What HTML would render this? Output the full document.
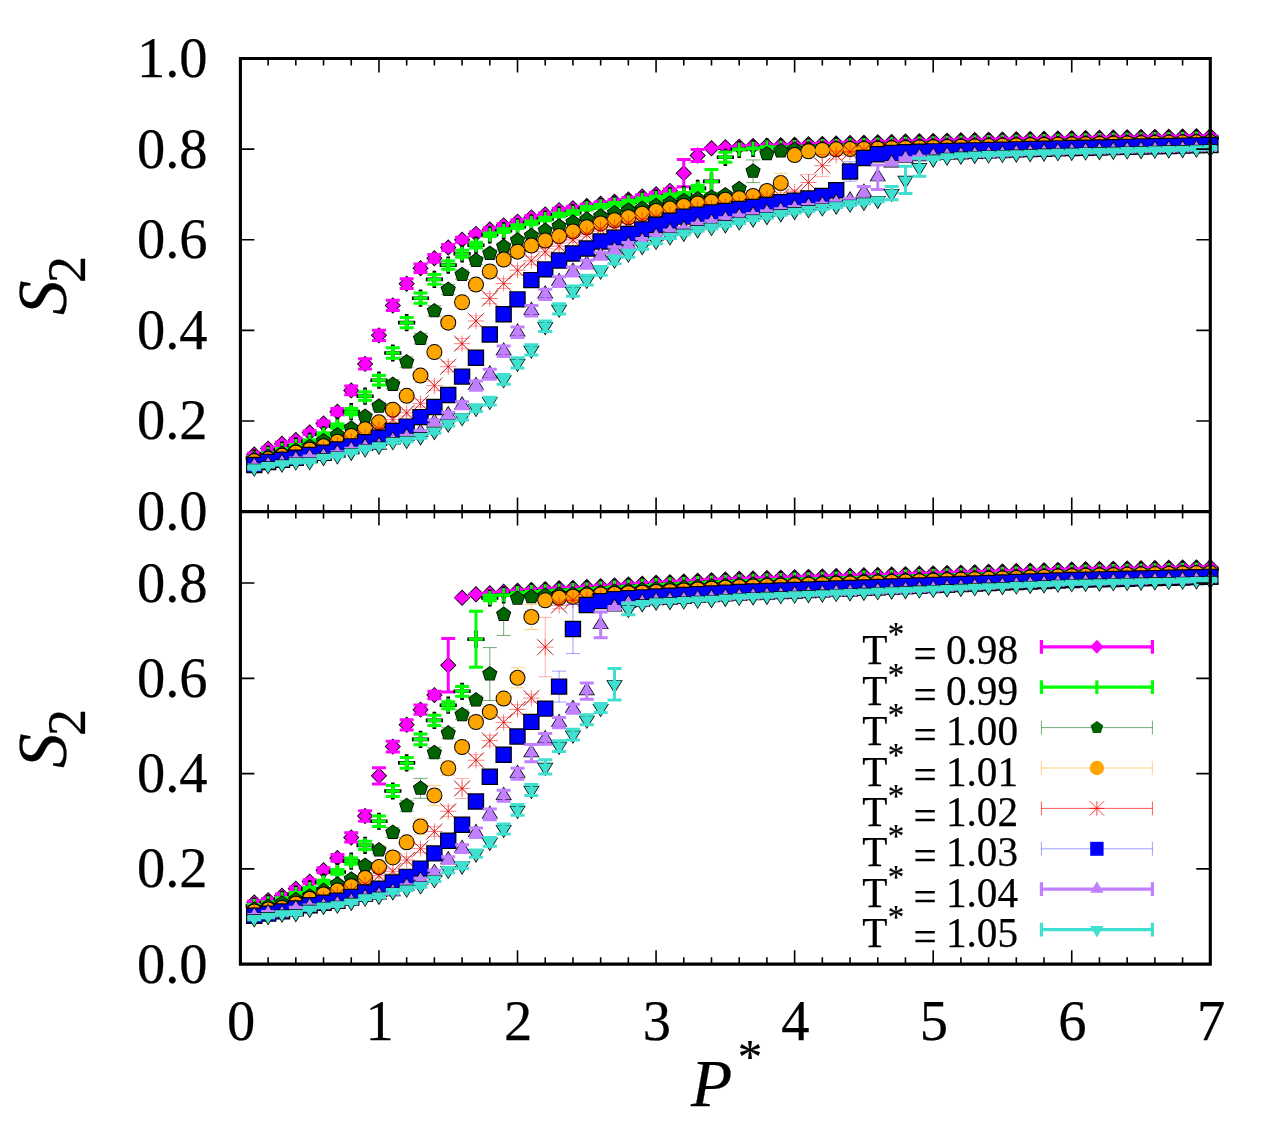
<!DOCTYPE html>
<html><head><meta charset="utf-8"><title>S2 vs P*</title>
<style>
html,body{margin:0;padding:0;background:#fff}
svg{display:block}
text{font-family:"Liberation Serif","Times New Roman",Times,serif;fill:#000;stroke:#000;stroke-width:0.25px}
</style></head><body>
<svg width="1264" height="1126" viewBox="0 0 1264 1126">
<rect width="1264" height="1126" fill="#fff"/>
<g id="top">
<path d="M254.26 446.31L262.46 454.51L254.26 462.71L246.06 454.51ZM268.11 440.42L276.31 448.62L268.11 456.82L259.91 448.62ZM281.97 435.44L290.17 443.63L281.97 451.83L273.77 443.63ZM295.82 431.81L304.02 440.01L295.82 448.21L287.62 440.01ZM309.68 424.33L317.88 432.53L309.68 440.73L301.48 432.53ZM323.53 415.23L331.73 423.43L323.53 431.63L315.33 423.43ZM337.39 403.45L345.59 411.65L337.39 419.85L329.19 411.65ZM351.25 382.2L359.45 390.4L351.25 398.6L343.05 390.4ZM365.1 355.69L373.3 363.89L365.1 372.09L356.9 363.89ZM378.96 327.14L387.16 335.34L378.96 343.54L370.76 335.34ZM392.81 297.24L401.01 305.44L392.81 313.64L384.61 305.44ZM406.67 275.49L414.87 283.69L406.67 291.89L398.47 283.69ZM420.52 260.09L428.72 268.29L420.52 276.49L412.32 268.29ZM434.38 250.12L442.58 258.32L434.38 266.52L426.18 258.32ZM448.24 239.24L456.44 247.44L448.24 255.64L440.04 247.44ZM462.09 231.54L470.29 239.74L462.09 247.94L453.89 239.74ZM475.95 225.65L484.15 233.85L475.95 242.05L467.75 233.85ZM489.8 221.3L498 229.5L489.8 237.7L481.6 229.5ZM503.66 217.13L511.86 225.33L503.66 233.53L495.46 225.33ZM517.51 213.42L525.71 221.62L517.51 229.82L509.31 221.62ZM531.37 209.16L539.57 217.36L531.37 225.56L523.17 217.36ZM545.23 206.35L553.43 214.55L545.23 222.75L537.03 214.55ZM559.08 201.91L567.28 210.11L559.08 218.31L550.88 210.11ZM572.94 200L581.14 208.2L572.94 216.4L564.74 208.2ZM586.79 197.78L594.99 205.98L586.79 214.18L578.59 205.98ZM600.65 195.52L608.85 203.72L600.65 211.92L592.45 203.72ZM614.5 193.48L622.7 201.68L614.5 209.88L606.3 201.68ZM628.36 191.21L636.56 199.41L628.36 207.61L620.16 199.41ZM642.22 188.36L650.42 196.56L642.22 204.76L634.02 196.56ZM656.07 186.09L664.27 194.29L656.07 202.49L647.87 194.29ZM669.93 182.65L678.13 190.85L669.93 199.05L661.73 190.85ZM683.78 164.93L691.98 173.13L683.78 181.33L675.58 173.13ZM697.64 147.26L705.84 155.46L697.64 163.66L689.44 155.46ZM711.49 140.01L719.69 148.21L711.49 156.41L703.29 148.21ZM725.35 139.02L733.55 147.22L725.35 155.42L717.15 147.22ZM739.21 138.38L747.41 146.58L739.21 154.78L731.01 146.58ZM753.06 137.75L761.26 145.95L753.06 154.15L744.86 145.95ZM766.92 137.39L775.12 145.59L766.92 153.79L758.72 145.59ZM780.77 136.95L788.97 145.15L780.77 153.35L772.57 145.15ZM794.63 136.52L802.83 144.72L794.63 152.92L786.43 144.72ZM808.48 136.08L816.68 144.28L808.48 152.48L800.28 144.28ZM822.34 135.65L830.54 143.85L822.34 152.05L814.14 143.85ZM836.2 135.21L844.4 143.41L836.2 151.61L828 143.41ZM850.05 134.83L858.25 143.03L850.05 151.23L841.85 143.03ZM863.91 134.46L872.11 142.66L863.91 150.86L855.71 142.66ZM877.76 134.08L885.96 142.28L877.76 150.48L869.56 142.28ZM891.62 133.7L899.82 141.9L891.62 150.1L883.42 141.9ZM905.47 133.32L913.67 141.52L905.47 149.72L897.27 141.52ZM919.33 132.95L927.53 141.15L919.33 149.35L911.13 141.15ZM933.19 132.67L941.39 140.87L933.19 149.07L924.99 140.87ZM947.04 132.39L955.24 140.59L947.04 148.79L938.84 140.59ZM960.9 132.12L969.1 140.32L960.9 148.52L952.7 140.32ZM974.75 131.84L982.95 140.04L974.75 148.24L966.55 140.04ZM988.61 131.56L996.81 139.76L988.61 147.96L980.41 139.76ZM1002.46 131.29L1010.66 139.49L1002.46 147.69L994.26 139.49ZM1016.32 131.01L1024.52 139.21L1016.32 147.41L1008.12 139.21ZM1030.18 130.73L1038.38 138.93L1030.18 147.13L1021.98 138.93ZM1044.03 130.46L1052.23 138.66L1044.03 146.86L1035.83 138.66ZM1057.89 130.18L1066.09 138.38L1057.89 146.58L1049.69 138.38ZM1071.74 129.96L1079.94 138.16L1071.74 146.36L1063.54 138.16ZM1085.6 129.74L1093.8 137.94L1085.6 146.14L1077.4 137.94ZM1099.45 129.53L1107.65 137.73L1099.45 145.93L1091.25 137.73ZM1113.31 129.31L1121.51 137.51L1113.31 145.71L1105.11 137.51ZM1127.17 129.09L1135.37 137.29L1127.17 145.49L1118.97 137.29ZM1141.02 128.87L1149.22 137.07L1141.02 145.27L1132.82 137.07ZM1154.88 128.65L1163.08 136.85L1154.88 145.05L1146.68 136.85ZM1168.73 128.44L1176.93 136.64L1168.73 144.84L1160.53 136.64ZM1182.59 128.22L1190.79 136.42L1182.59 144.62L1174.39 136.42ZM1196.44 128L1204.64 136.2L1196.44 144.4L1188.24 136.2ZM1210.3 127.78L1218.5 135.98L1210.3 144.18L1202.1 135.98Z" fill="#000"/>
<path d="M254.26 453.1V455.92M247.26 453.1H261.26M247.26 455.92H261.26M268.11 447.15V450.09M261.11 447.15H275.11M261.11 450.09H275.11M281.97 442.08V445.19M274.97 442.08H288.97M274.97 445.19H288.97M295.82 438.37V441.65M288.82 438.37H302.82M288.82 441.65H302.82M309.68 430.65V434.42M302.68 430.65H316.68M302.68 434.42H316.68M323.53 421.08V425.77M316.53 421.08H330.53M316.53 425.77H330.53M337.39 408.55V414.74M330.39 408.55H344.39M330.39 414.74H344.39M351.25 386V394.8M344.25 386H358.25M344.25 394.8H358.25M365.1 358.77V369.01M358.1 358.77H372.1M358.1 369.01H372.1M378.96 330.13V340.55M371.96 330.13H385.96M371.96 340.55H385.96M392.81 300.26V310.62M385.81 300.26H399.81M385.81 310.62H399.81M406.67 278.8V288.58M399.67 278.8H413.67M399.67 288.58H413.67M420.52 263.99V272.58M413.52 263.99H427.52M413.52 272.58H427.52M434.38 254.6V262.03M427.38 254.6H441.38M427.38 262.03H441.38M448.24 244.45V250.43M441.24 244.45H455.24M441.24 250.43H455.24M462.09 237.25V242.23M455.09 237.25H469.09M455.09 242.23H469.09M475.95 232.04V235.66M468.95 232.04H482.95M468.95 235.66H482.95M489.8 227.69V231.31M482.8 227.69H496.8M482.8 231.31H496.8M503.66 223.52V227.14M496.66 223.52H510.66M496.66 227.14H510.66M517.51 219.8V223.43M510.51 219.8H524.51M510.51 223.43H524.51M531.37 215.54V219.17M524.37 215.54H538.37M524.37 219.17H538.37M545.23 212.74V216.36M538.23 212.74H552.23M538.23 216.36H552.23M559.08 208.29V211.92M552.08 208.29H566.08M552.08 211.92H566.08M572.94 206.39V210.02M565.94 206.39H579.94M565.94 210.02H579.94M586.79 204.17V207.8M579.79 204.17H593.79M579.79 207.8H593.79M600.65 201.91V205.53M593.65 201.91H607.65M593.65 205.53H607.65M614.5 199.87V203.49M607.5 199.87H621.5M607.5 203.49H621.5M628.36 197.6V201.23M621.36 197.6H635.36M621.36 201.23H635.36M642.22 194.75V198.37M635.22 194.75H649.22M635.22 198.37H649.22M656.07 192.48V196.11M649.07 192.48H663.07M649.07 196.11H663.07M669.93 189.04V192.66M662.93 189.04H676.93M662.93 192.66H676.93M683.78 159.54V186.73M676.78 159.54H690.78M676.78 186.73H690.78M697.64 149.39V161.53M690.64 149.39H704.64M690.64 161.53H704.64M711.49 147.85V148.58M704.49 147.85H718.49M704.49 148.58H718.49M725.35 146.85V147.58M718.35 146.85H732.35M718.35 147.58H732.35M739.21 146.22V146.95M732.21 146.22H746.21M732.21 146.95H746.21M753.06 145.59V146.31M746.06 145.59H760.06M746.06 146.31H760.06M766.92 145.22V145.95M759.92 145.22H773.92M759.92 145.95H773.92M780.77 144.79V145.51M773.77 144.79H787.77M773.77 145.51H787.77M794.63 144.35V145.08M787.63 144.35H801.63M787.63 145.08H801.63M808.48 143.92V144.64M801.48 143.92H815.48M801.48 144.64H815.48M822.34 143.48V144.21M815.34 143.48H829.34M815.34 144.21H829.34M836.2 143.05V143.77M829.2 143.05H843.2M829.2 143.77H843.2M850.05 142.67V143.4M843.05 142.67H857.05M843.05 143.4H857.05M863.91 142.29V143.02M856.91 142.29H870.91M856.91 143.02H870.91M877.76 141.92V142.64M870.76 141.92H884.76M870.76 142.64H884.76M891.62 141.54V142.26M884.62 141.54H898.62M884.62 142.26H898.62M905.47 141.16V141.89M898.47 141.16H912.47M898.47 141.89H912.47M919.33 140.78V141.51M912.33 140.78H926.33M912.33 141.51H926.33M933.19 140.51V141.23M926.19 140.51H940.19M926.19 141.23H940.19M947.04 140.23V140.96M940.04 140.23H954.04M940.04 140.96H954.04M960.9 139.95V140.68M953.9 139.95H967.9M953.9 140.68H967.9M974.75 139.68V140.4M967.75 139.68H981.75M967.75 140.4H981.75M988.61 139.4V140.13M981.61 139.4H995.61M981.61 140.13H995.61M1002.46 139.12V139.85M995.46 139.12H1009.46M995.46 139.85H1009.46M1016.32 138.85V139.57M1009.32 138.85H1023.32M1009.32 139.57H1023.32M1030.18 138.57V139.3M1023.18 138.57H1037.18M1023.18 139.3H1037.18M1044.03 138.3V139.02M1037.03 138.3H1051.03M1037.03 139.02H1051.03M1057.89 138.02V138.74M1050.89 138.02H1064.89M1050.89 138.74H1064.89M1071.74 137.8V138.53M1064.74 137.8H1078.74M1064.74 138.53H1078.74M1085.6 137.58V138.31M1078.6 137.58H1092.6M1078.6 138.31H1092.6M1099.45 137.36V138.09M1092.45 137.36H1106.45M1092.45 138.09H1106.45M1113.31 137.15V137.87M1106.31 137.15H1120.31M1106.31 137.87H1120.31M1127.17 136.93V137.65M1120.17 136.93H1134.17M1120.17 137.65H1134.17M1141.02 136.71V137.43M1134.02 136.71H1148.02M1134.02 137.43H1148.02M1154.88 136.49V137.22M1147.88 136.49H1161.88M1147.88 137.22H1161.88M1168.73 136.27V137M1161.73 136.27H1175.73M1161.73 137H1175.73M1182.59 136.05V136.78M1175.59 136.05H1189.59M1175.59 136.78H1189.59M1196.44 135.84V136.56M1189.44 135.84H1203.44M1189.44 136.56H1203.44M1210.3 135.62V136.34M1203.3 135.62H1217.3M1203.3 136.34H1217.3" stroke="#ff00ff" stroke-width="3" fill="none"/>
<path d="M254.26 447.51L261.26 454.51L254.26 461.51L247.26 454.51ZM268.11 441.62L275.11 448.62L268.11 455.62L261.11 448.62ZM281.97 436.63L288.97 443.63L281.97 450.63L274.97 443.63ZM295.82 433.01L302.82 440.01L295.82 447.01L288.82 440.01ZM309.68 425.53L316.68 432.53L309.68 439.53L302.68 432.53ZM323.53 416.43L330.53 423.43L323.53 430.43L316.53 423.43ZM337.39 404.65L344.39 411.65L337.39 418.65L330.39 411.65ZM351.25 383.4L358.25 390.4L351.25 397.4L344.25 390.4ZM365.1 356.89L372.1 363.89L365.1 370.89L358.1 363.89ZM378.96 328.34L385.96 335.34L378.96 342.34L371.96 335.34ZM392.81 298.44L399.81 305.44L392.81 312.44L385.81 305.44ZM406.67 276.69L413.67 283.69L406.67 290.69L399.67 283.69ZM420.52 261.29L427.52 268.29L420.52 275.29L413.52 268.29ZM434.38 251.32L441.38 258.32L434.38 265.32L427.38 258.32ZM448.24 240.44L455.24 247.44L448.24 254.44L441.24 247.44ZM462.09 232.74L469.09 239.74L462.09 246.74L455.09 239.74ZM475.95 226.85L482.95 233.85L475.95 240.85L468.95 233.85ZM489.8 222.5L496.8 229.5L489.8 236.5L482.8 229.5ZM503.66 218.33L510.66 225.33L503.66 232.33L496.66 225.33ZM517.51 214.62L524.51 221.62L517.51 228.62L510.51 221.62ZM531.37 210.36L538.37 217.36L531.37 224.36L524.37 217.36ZM545.23 207.55L552.23 214.55L545.23 221.55L538.23 214.55ZM559.08 203.11L566.08 210.11L559.08 217.11L552.08 210.11ZM572.94 201.2L579.94 208.2L572.94 215.2L565.94 208.2ZM586.79 198.98L593.79 205.98L586.79 212.98L579.79 205.98ZM600.65 196.72L607.65 203.72L600.65 210.72L593.65 203.72ZM614.5 194.68L621.5 201.68L614.5 208.68L607.5 201.68ZM628.36 192.41L635.36 199.41L628.36 206.41L621.36 199.41ZM642.22 189.56L649.22 196.56L642.22 203.56L635.22 196.56ZM656.07 187.29L663.07 194.29L656.07 201.29L649.07 194.29ZM669.93 183.85L676.93 190.85L669.93 197.85L662.93 190.85ZM683.78 166.13L690.78 173.13L683.78 180.13L676.78 173.13ZM697.64 148.46L704.64 155.46L697.64 162.46L690.64 155.46ZM711.49 141.21L718.49 148.21L711.49 155.21L704.49 148.21ZM725.35 140.22L732.35 147.22L725.35 154.22L718.35 147.22ZM739.21 139.58L746.21 146.58L739.21 153.58L732.21 146.58ZM753.06 138.95L760.06 145.95L753.06 152.95L746.06 145.95ZM766.92 138.59L773.92 145.59L766.92 152.59L759.92 145.59ZM780.77 138.15L787.77 145.15L780.77 152.15L773.77 145.15ZM794.63 137.72L801.63 144.72L794.63 151.72L787.63 144.72ZM808.48 137.28L815.48 144.28L808.48 151.28L801.48 144.28ZM822.34 136.85L829.34 143.85L822.34 150.85L815.34 143.85ZM836.2 136.41L843.2 143.41L836.2 150.41L829.2 143.41ZM850.05 136.03L857.05 143.03L850.05 150.03L843.05 143.03ZM863.91 135.66L870.91 142.66L863.91 149.66L856.91 142.66ZM877.76 135.28L884.76 142.28L877.76 149.28L870.76 142.28ZM891.62 134.9L898.62 141.9L891.62 148.9L884.62 141.9ZM905.47 134.52L912.47 141.52L905.47 148.52L898.47 141.52ZM919.33 134.15L926.33 141.15L919.33 148.15L912.33 141.15ZM933.19 133.87L940.19 140.87L933.19 147.87L926.19 140.87ZM947.04 133.59L954.04 140.59L947.04 147.59L940.04 140.59ZM960.9 133.32L967.9 140.32L960.9 147.32L953.9 140.32ZM974.75 133.04L981.75 140.04L974.75 147.04L967.75 140.04ZM988.61 132.76L995.61 139.76L988.61 146.76L981.61 139.76ZM1002.46 132.49L1009.46 139.49L1002.46 146.49L995.46 139.49ZM1016.32 132.21L1023.32 139.21L1016.32 146.21L1009.32 139.21ZM1030.18 131.93L1037.18 138.93L1030.18 145.93L1023.18 138.93ZM1044.03 131.66L1051.03 138.66L1044.03 145.66L1037.03 138.66ZM1057.89 131.38L1064.89 138.38L1057.89 145.38L1050.89 138.38ZM1071.74 131.16L1078.74 138.16L1071.74 145.16L1064.74 138.16ZM1085.6 130.94L1092.6 137.94L1085.6 144.94L1078.6 137.94ZM1099.45 130.73L1106.45 137.73L1099.45 144.73L1092.45 137.73ZM1113.31 130.51L1120.31 137.51L1113.31 144.51L1106.31 137.51ZM1127.17 130.29L1134.17 137.29L1127.17 144.29L1120.17 137.29ZM1141.02 130.07L1148.02 137.07L1141.02 144.07L1134.02 137.07ZM1154.88 129.85L1161.88 136.85L1154.88 143.85L1147.88 136.85ZM1168.73 129.64L1175.73 136.64L1168.73 143.64L1161.73 136.64ZM1182.59 129.42L1189.59 136.42L1182.59 143.42L1175.59 136.42ZM1196.44 129.2L1203.44 136.2L1196.44 143.2L1189.44 136.2ZM1210.3 128.98L1217.3 135.98L1210.3 142.98L1203.3 135.98Z" fill="#ff00ff"/>
<path d="M254.26 449.53V466.73M245.66 458.13H262.86M268.11 445.46V462.66M259.51 454.06H276.71M281.97 441.38V458.58M273.37 449.98H290.57M295.82 437.3V454.5M287.22 445.9H304.42M309.68 432.77V449.97M301.08 441.37H318.28M323.53 425.97V443.17M314.93 434.57H332.13M337.39 417.59V434.79M328.79 426.19H345.99M351.25 403.05V420.25M342.65 411.65H359.85M365.1 387.6V404.8M356.5 396.2H373.7M378.96 371.6V388.8M370.36 380.2H387.56M392.81 344.41V361.62M384.21 353.01H401.41M406.67 314.06V331.26M398.07 322.66H415.27M420.52 289.59V306.79M411.92 298.19H429.12M434.38 270.79V287.99M425.78 279.39H442.98M448.24 256.51V273.71M439.64 265.11H456.84M462.09 245.19V262.39M453.49 253.79H470.69M475.95 236.58V253.78M467.35 245.18H484.55M489.8 226.2V243.4M481.2 234.8H498.4M503.66 222.08V239.28M495.06 230.68H512.26M517.51 218V235.2M508.91 226.6H526.11M531.37 214.19V231.39M522.77 222.79H539.97M545.23 210.39V227.59M536.63 218.99H553.83M559.08 206.36V223.56M550.48 214.96H567.68M572.94 204.04V221.24M564.34 212.64H581.54M586.79 199.6V216.8M578.19 208.2H595.39M600.65 197.75V214.95M592.05 206.35H609.25M614.5 195.8V213M605.9 204.4H623.1M628.36 193.53V210.73M619.76 202.13H636.96M642.22 191.27V208.47M633.62 199.87H650.82M656.07 189.45V206.65M647.47 198.05H664.67M669.93 187.19V204.39M661.33 195.79H678.53M683.78 185.83V203.03M675.18 194.43H692.38M697.64 179.8V197M689.04 188.4H706.24M711.49 172.78V189.98M702.89 181.38H720.09M725.35 148.72V165.92M716.75 157.32H733.95M739.21 140.79V157.99M730.61 149.39H747.81M753.06 139.89V157.09M744.46 148.49H761.66M766.92 138.62V155.82M758.32 147.22H775.52M780.77 138.8V156M772.17 147.4H789.37M794.63 138.37V155.57M786.03 146.97H803.23M808.48 137.94V155.14M799.88 146.54H817.08M822.34 137.51V154.71M813.74 146.11H830.94M836.2 137.08V154.28M827.6 145.68H844.8M850.05 136.7V153.9M841.45 145.3H858.65M863.91 136.32V153.52M855.31 144.92H872.51M877.76 135.94V153.14M869.16 144.54H886.36M891.62 135.57V152.77M883.02 144.17H900.22M905.47 135.19V152.39M896.87 143.79H914.07M919.33 134.81V152.01M910.73 143.41H927.93M933.19 134.53V151.73M924.59 143.13H941.79M947.04 134.26V151.46M938.44 142.86H955.64M960.9 133.98V151.18M952.3 142.58H969.5M974.75 133.71V150.91M966.15 142.31H983.35M988.61 133.43V150.63M980.01 142.03H997.21M1002.46 133.15V150.35M993.86 141.75H1011.06M1016.32 132.88V150.08M1007.72 141.48H1024.92M1030.18 132.6V149.8M1021.58 141.2H1038.78M1044.03 132.32V149.52M1035.43 140.92H1052.63M1057.89 132.05V149.25M1049.29 140.65H1066.49M1071.74 131.83V149.03M1063.14 140.43H1080.34M1085.6 131.61V148.81M1077 140.21H1094.2M1099.45 131.39V148.59M1090.85 139.99H1108.05M1113.31 131.17V148.37M1104.71 139.77H1121.91M1127.17 130.96V148.16M1118.57 139.56H1135.77M1141.02 130.74V147.94M1132.42 139.34H1149.62M1154.88 130.52V147.72M1146.28 139.12H1163.48M1168.73 130.3V147.5M1160.13 138.9H1177.33M1182.59 130.08V147.28M1173.99 138.68H1191.19M1196.44 129.86V147.06M1187.84 138.46H1205.04M1210.3 129.65V146.85M1201.7 138.25H1218.9" stroke="#000" stroke-width="3.6" fill="none"/>
<path d="M254.26 456.74V459.52M247.26 456.74H261.26M247.26 459.52H261.26M268.11 452.64V455.47M261.11 452.64H275.11M261.11 455.47H275.11M281.97 448.53V451.43M274.97 448.53H288.97M274.97 451.43H288.97M295.82 444.39V447.41M288.82 444.39H302.82M288.82 447.41H302.82M309.68 439.77V442.97M302.68 439.77H316.68M302.68 442.97H316.68M323.53 432.76V436.38M316.53 432.76H330.53M316.53 436.38H330.53M337.39 424V428.38M330.39 424H344.39M330.39 428.38H344.39M351.25 408.55V414.74M344.25 408.55H358.25M344.25 414.74H358.25M365.1 392.1V400.29M358.1 392.1H372.1M358.1 400.29H372.1M378.96 375.4V385M371.96 375.4H385.96M371.96 385H385.96M392.81 347.82V358.21M385.81 347.82H399.81M385.81 358.21H399.81M406.67 317.45V327.87M399.67 317.45H413.67M399.67 327.87H413.67M420.52 293.05V303.33M413.52 293.05H427.52M413.52 303.33H427.52M434.38 274.62V284.15M427.38 274.62H441.38M427.38 284.15H441.38M448.24 260.99V269.24M441.24 260.99H455.24M441.24 269.24H455.24M462.09 250.37V257.2M455.09 250.37H469.09M455.09 257.2H469.09M475.95 242.34V248.01M468.95 242.34H482.95M468.95 248.01H482.95M489.8 232.99V236.61M482.8 232.99H496.8M482.8 236.61H496.8M503.66 228.87V232.49M496.66 228.87H510.66M496.66 232.49H510.66M517.51 224.79V228.41M510.51 224.79H524.51M510.51 228.41H524.51M531.37 220.98V224.61M524.37 220.98H538.37M524.37 224.61H538.37M545.23 217.18V220.8M538.23 217.18H552.23M538.23 220.8H552.23M559.08 213.14V216.77M552.08 213.14H566.08M552.08 216.77H566.08M572.94 210.83V214.46M565.94 210.83H579.94M565.94 214.46H579.94M586.79 206.39V210.02M579.79 206.39H593.79M579.79 210.02H593.79M600.65 204.53V208.16M593.65 204.53H607.65M593.65 208.16H607.65M614.5 202.59V206.21M607.5 202.59H621.5M607.5 206.21H621.5M628.36 200.32V203.95M621.36 200.32H635.36M621.36 203.95H635.36M642.22 198.05V201.68M635.22 198.05H649.22M635.22 201.68H649.22M656.07 196.24V199.87M649.07 196.24H663.07M649.07 199.87H663.07M669.93 193.98V197.6M662.93 193.98H676.93M662.93 197.6H676.93M683.78 192.62V196.24M676.78 192.62H690.78M676.78 196.24H690.78M697.64 185.23V191.58M690.64 185.23H704.64M690.64 191.58H704.64M711.49 169.6V193.16M704.49 169.6H718.49M704.49 193.16H718.49M725.35 152.34V162.31M718.35 152.34H732.35M718.35 162.31H732.35M739.21 149.03V149.75M732.21 149.03H746.21M732.21 149.75H746.21M753.06 148.12V148.85M746.06 148.12H760.06M746.06 148.85H760.06M766.92 146.85V147.58M759.92 146.85H773.92M759.92 147.58H773.92M780.77 147.04V147.76M773.77 147.04H787.77M773.77 147.76H787.77M794.63 146.61V147.33M787.63 146.61H801.63M787.63 147.33H801.63M808.48 146.17V146.9M801.48 146.17H815.48M801.48 146.9H815.48M822.34 145.74V146.47M815.34 145.74H829.34M815.34 146.47H829.34M836.2 145.31V146.04M829.2 145.31H843.2M829.2 146.04H843.2M850.05 144.94V145.66M843.05 144.94H857.05M843.05 145.66H857.05M863.91 144.56V145.28M856.91 144.56H870.91M856.91 145.28H870.91M877.76 144.18V144.91M870.76 144.18H884.76M870.76 144.91H884.76M891.62 143.8V144.53M884.62 143.8H898.62M884.62 144.53H898.62M905.47 143.43V144.15M898.47 143.43H912.47M898.47 144.15H912.47M919.33 143.05V143.77M912.33 143.05H926.33M912.33 143.77H926.33M933.19 142.77V143.5M926.19 142.77H940.19M926.19 143.5H940.19M947.04 142.5V143.22M940.04 142.5H954.04M940.04 143.22H954.04M960.9 142.22V142.94M953.9 142.22H967.9M953.9 142.94H967.9M974.75 141.94V142.67M967.75 141.94H981.75M967.75 142.67H981.75M988.61 141.67V142.39M981.61 141.67H995.61M981.61 142.39H995.61M1002.46 141.39V142.12M995.46 141.39H1009.46M995.46 142.12H1009.46M1016.32 141.11V141.84M1009.32 141.11H1023.32M1009.32 141.84H1023.32M1030.18 140.84V141.56M1023.18 140.84H1037.18M1023.18 141.56H1037.18M1044.03 140.56V141.29M1037.03 140.56H1051.03M1037.03 141.29H1051.03M1057.89 140.28V141.01M1050.89 140.28H1064.89M1050.89 141.01H1064.89M1071.74 140.07V140.79M1064.74 140.07H1078.74M1064.74 140.79H1078.74M1085.6 139.85V140.57M1078.6 139.85H1092.6M1078.6 140.57H1092.6M1099.45 139.63V140.35M1092.45 139.63H1106.45M1092.45 140.35H1106.45M1113.31 139.41V140.14M1106.31 139.41H1120.31M1106.31 140.14H1120.31M1127.17 139.19V139.92M1120.17 139.19H1134.17M1120.17 139.92H1134.17M1141.02 138.97V139.7M1134.02 138.97H1148.02M1134.02 139.7H1148.02M1154.88 138.76V139.48M1147.88 138.76H1161.88M1147.88 139.48H1161.88M1168.73 138.54V139.26M1161.73 138.54H1175.73M1161.73 139.26H1175.73M1182.59 138.32V139.04M1175.59 138.32H1189.59M1175.59 139.04H1189.59M1196.44 138.1V138.83M1189.44 138.1H1203.44M1189.44 138.83H1203.44M1210.3 137.88V138.61M1203.3 137.88H1217.3M1203.3 138.61H1217.3" stroke="#00ff00" stroke-width="3" fill="none"/>
<path d="M254.26 451.13V465.13M247.26 458.13H261.26M268.11 447.06V461.06M261.11 454.06H275.11M281.97 442.98V456.98M274.97 449.98H288.97M295.82 438.9V452.9M288.82 445.9H302.82M309.68 434.37V448.37M302.68 441.37H316.68M323.53 427.57V441.57M316.53 434.57H330.53M337.39 419.19V433.19M330.39 426.19H344.39M351.25 404.65V418.65M344.25 411.65H358.25M365.1 389.2V403.2M358.1 396.2H372.1M378.96 373.2V387.2M371.96 380.2H385.96M392.81 346.01V360.01M385.81 353.01H399.81M406.67 315.66V329.66M399.67 322.66H413.67M420.52 291.19V305.19M413.52 298.19H427.52M434.38 272.39V286.39M427.38 279.39H441.38M448.24 258.11V272.11M441.24 265.11H455.24M462.09 246.79V260.79M455.09 253.79H469.09M475.95 238.18V252.18M468.95 245.18H482.95M489.8 227.8V241.8M482.8 234.8H496.8M503.66 223.68V237.68M496.66 230.68H510.66M517.51 219.6V233.6M510.51 226.6H524.51M531.37 215.79V229.79M524.37 222.79H538.37M545.23 211.99V225.99M538.23 218.99H552.23M559.08 207.96V221.96M552.08 214.96H566.08M572.94 205.64V219.64M565.94 212.64H579.94M586.79 201.2V215.2M579.79 208.2H593.79M600.65 199.35V213.35M593.65 206.35H607.65M614.5 197.4V211.4M607.5 204.4H621.5M628.36 195.13V209.13M621.36 202.13H635.36M642.22 192.87V206.87M635.22 199.87H649.22M656.07 191.05V205.05M649.07 198.05H663.07M669.93 188.79V202.79M662.93 195.79H676.93M683.78 187.43V201.43M676.78 194.43H690.78M697.64 181.4V195.4M690.64 188.4H704.64M711.49 174.38V188.38M704.49 181.38H718.49M725.35 150.32V164.32M718.35 157.32H732.35M739.21 142.39V156.39M732.21 149.39H746.21M753.06 141.49V155.49M746.06 148.49H760.06M766.92 140.22V154.22M759.92 147.22H773.92M780.77 140.4V154.4M773.77 147.4H787.77M794.63 139.97V153.97M787.63 146.97H801.63M808.48 139.54V153.54M801.48 146.54H815.48M822.34 139.11V153.11M815.34 146.11H829.34M836.2 138.68V152.68M829.2 145.68H843.2M850.05 138.3V152.3M843.05 145.3H857.05M863.91 137.92V151.92M856.91 144.92H870.91M877.76 137.54V151.54M870.76 144.54H884.76M891.62 137.17V151.17M884.62 144.17H898.62M905.47 136.79V150.79M898.47 143.79H912.47M919.33 136.41V150.41M912.33 143.41H926.33M933.19 136.13V150.13M926.19 143.13H940.19M947.04 135.86V149.86M940.04 142.86H954.04M960.9 135.58V149.58M953.9 142.58H967.9M974.75 135.31V149.31M967.75 142.31H981.75M988.61 135.03V149.03M981.61 142.03H995.61M1002.46 134.75V148.75M995.46 141.75H1009.46M1016.32 134.48V148.48M1009.32 141.48H1023.32M1030.18 134.2V148.2M1023.18 141.2H1037.18M1044.03 133.92V147.92M1037.03 140.92H1051.03M1057.89 133.65V147.65M1050.89 140.65H1064.89M1071.74 133.43V147.43M1064.74 140.43H1078.74M1085.6 133.21V147.21M1078.6 140.21H1092.6M1099.45 132.99V146.99M1092.45 139.99H1106.45M1113.31 132.77V146.77M1106.31 139.77H1120.31M1127.17 132.56V146.56M1120.17 139.56H1134.17M1141.02 132.34V146.34M1134.02 139.34H1148.02M1154.88 132.12V146.12M1147.88 139.12H1161.88M1168.73 131.9V145.9M1161.73 138.9H1175.73M1182.59 131.68V145.68M1175.59 138.68H1189.59M1196.44 131.46V145.46M1189.44 138.46H1203.44M1210.3 131.25V145.25M1203.3 138.25H1217.3" stroke="#00ff00" stroke-width="3" fill="none"/>
<path d="M254.26 451.49L261.86 457.02L258.96 465.97L249.55 465.97L246.65 457.02ZM268.11 448.77L275.72 454.3L272.81 463.25L263.41 463.25L260.5 454.3ZM281.97 445.6L289.58 451.13L286.67 460.08L277.26 460.08L274.36 451.13ZM295.82 442.43L303.43 447.96L300.53 456.9L291.12 456.9L288.21 447.96ZM309.68 438.49L317.29 444.02L314.38 452.96L304.98 452.96L302.07 444.02ZM323.53 432.92L331.14 438.44L328.24 447.39L318.83 447.39L315.93 438.44ZM337.39 427.03L345 432.55L342.09 441.5L332.69 441.5L329.78 432.55ZM351.25 420.23L358.85 425.76L355.95 434.7L346.54 434.7L343.64 425.76ZM365.1 408.45L372.71 413.98L369.8 422.92L360.4 422.92L357.49 413.98ZM378.96 398.3L386.57 403.83L383.66 412.77L374.25 412.77L371.35 403.83ZM392.81 376.41L400.42 381.94L397.52 390.89L388.11 390.89L385.2 381.94ZM406.67 354.08L414.28 359.6L411.37 368.55L401.97 368.55L399.06 359.6ZM420.52 330.61L428.13 336.13L425.23 345.08L415.82 345.08L412.92 336.13ZM434.38 302.88L441.99 308.4L439.08 317.35L429.68 317.35L426.77 308.4ZM448.24 281.58L455.84 287.11L452.94 296.05L443.53 296.05L440.63 287.11ZM462.09 266.63L469.7 272.16L466.79 281.1L457.39 281.1L454.48 272.16ZM475.95 252.58L483.56 258.11L480.65 267.05L471.24 267.05L468.34 258.11ZM489.8 245.56L497.41 251.09L494.51 260.03L485.1 260.03L482.19 251.09ZM503.66 238.58L511.27 244.11L508.36 253.05L498.96 253.05L496.05 244.11ZM517.51 232.24L525.12 237.77L522.22 246.71L512.81 246.71L509.91 237.77ZM531.37 227.84L538.98 233.37L536.07 242.32L526.67 242.32L523.76 233.37ZM545.23 222.5L552.83 228.02L549.93 236.97L540.52 236.97L537.62 228.02ZM559.08 218.33L566.69 223.86L563.78 232.8L554.38 232.8L551.47 223.86ZM572.94 214.16L580.55 219.69L577.64 228.63L568.23 228.63L565.33 219.69ZM586.79 211.35L594.4 216.88L591.5 225.82L582.09 225.82L579.18 216.88ZM600.65 208.18L608.26 213.71L605.35 222.65L595.95 222.65L593.04 213.71ZM614.5 205.01L622.11 210.53L619.21 219.48L609.8 219.48L606.9 210.53ZM628.36 202.29L635.97 207.82L633.06 216.76L623.66 216.76L620.75 207.82ZM642.22 200.39L649.82 205.91L646.92 214.86L637.51 214.86L634.61 205.91ZM656.07 197.8L663.68 203.33L660.77 212.27L651.37 212.27L648.46 203.33ZM669.93 195.31L677.54 200.84L674.63 209.78L665.22 209.78L662.32 200.84ZM683.78 192.77L691.39 198.3L688.49 207.25L679.08 207.25L676.17 198.3ZM697.64 190.96L705.25 196.49L702.34 205.43L692.94 205.43L690.03 196.49ZM711.49 189.33L719.1 194.86L716.2 203.8L706.79 203.8L703.89 194.86ZM725.35 187.06L732.96 192.59L730.05 201.54L720.65 201.54L717.74 192.59ZM739.21 180.72L746.81 186.25L743.91 195.19L734.5 195.19L731.6 186.25ZM753.06 163.28L760.67 168.8L757.76 177.75L748.36 177.75L745.45 168.8ZM766.92 145.88L774.53 151.41L771.62 160.35L762.21 160.35L759.31 151.41ZM780.77 143.02L788.38 148.55L785.48 157.5L776.07 157.5L773.16 148.55ZM794.63 141.57L802.24 147.1L799.33 156.05L789.93 156.05L787.02 147.1ZM808.48 141.12L816.09 146.65L813.19 155.59L803.78 155.59L800.88 146.65ZM822.34 140.8L829.95 146.33L827.04 155.27L817.64 155.27L814.73 146.33ZM836.2 140.49L843.8 146.01L840.9 154.96L831.49 154.96L828.59 146.01ZM850.05 140.11L857.66 145.64L854.75 154.58L845.35 154.58L842.44 145.64ZM863.91 139.73L871.52 145.26L868.61 154.2L859.2 154.2L856.3 145.26ZM877.76 139.35L885.37 144.88L882.47 153.83L873.06 153.83L870.15 144.88ZM891.62 138.98L899.23 144.5L896.32 153.45L886.92 153.45L884.01 144.5ZM905.47 138.6L913.08 144.13L910.18 153.07L900.77 153.07L897.87 144.13ZM919.33 138.22L926.94 143.75L924.03 152.69L914.63 152.69L911.72 143.75ZM933.19 137.94L940.79 143.47L937.89 152.42L928.48 152.42L925.58 143.47ZM947.04 137.67L954.65 143.2L951.74 152.14L942.34 152.14L939.43 143.2ZM960.9 137.39L968.51 142.92L965.6 151.86L956.19 151.86L953.29 142.92ZM974.75 137.11L982.36 142.64L979.46 151.59L970.05 151.59L967.14 142.64ZM988.61 136.84L996.22 142.37L993.31 151.31L983.91 151.31L981 142.37ZM1002.46 136.56L1010.07 142.09L1007.17 151.03L997.76 151.03L994.86 142.09ZM1016.32 136.29L1023.93 141.81L1021.02 150.76L1011.62 150.76L1008.71 141.81ZM1030.18 136.01L1037.78 141.54L1034.88 150.48L1025.47 150.48L1022.57 141.54ZM1044.03 135.73L1051.64 141.26L1048.73 150.2L1039.33 150.2L1036.42 141.26ZM1057.89 135.46L1065.5 140.98L1062.59 149.93L1053.18 149.93L1050.28 140.98ZM1071.74 135.23L1079.35 140.76L1076.45 149.7L1067.04 149.7L1064.13 140.76ZM1085.6 135L1093.21 140.53L1090.3 149.48L1080.9 149.48L1077.99 140.53ZM1099.45 134.78L1107.06 140.3L1104.16 149.25L1094.75 149.25L1091.85 140.3ZM1113.31 134.55L1120.92 140.08L1118.01 149.02L1108.61 149.02L1105.7 140.08ZM1127.17 134.32L1134.77 139.85L1131.87 148.8L1122.46 148.8L1119.56 139.85ZM1141.02 134.1L1148.63 139.62L1145.72 148.57L1136.32 148.57L1133.41 139.62ZM1154.88 133.87L1162.49 139.4L1159.58 148.34L1150.17 148.34L1147.27 139.4ZM1168.73 133.64L1176.34 139.17L1173.44 148.12L1164.03 148.12L1161.12 139.17ZM1182.59 133.42L1190.2 138.95L1187.29 147.89L1177.89 147.89L1174.98 138.95ZM1196.44 133.19L1204.05 138.72L1201.15 147.66L1191.74 147.66L1188.84 138.72ZM1210.3 132.96L1217.91 138.49L1215 147.44L1205.6 147.44L1202.69 138.49Z" fill="#000"/>
<path d="M254.26 458.11V460.88M247.26 458.11H261.26M247.26 460.88H261.26M268.11 455.38V458.17M261.11 455.38H275.11M261.11 458.17H275.11M281.97 452.19V455.02M274.97 452.19H288.97M274.97 455.02H288.97M295.82 448.98V451.88M288.82 448.98H302.82M288.82 451.88H302.82M309.68 444.99V447.99M302.68 444.99H316.68M302.68 447.99H316.68M323.53 439.3V442.53M316.53 439.3H330.53M316.53 442.53H330.53M337.39 433.23V436.82M330.39 433.23H344.39M330.39 436.82H344.39M351.25 426.15V430.31M344.25 426.15H358.25M344.25 430.31H358.25M365.1 413.67V419.23M358.1 413.67H372.1M358.1 419.23H372.1M378.96 402.84V409.76M371.96 402.84H385.96M371.96 409.76H385.96M392.81 379.76V389.07M385.81 379.76H399.81M385.81 389.07H399.81M406.67 356.94V367.22M399.67 356.94H413.67M399.67 367.22H413.67M420.52 333.4V343.82M413.52 333.4H427.52M413.52 343.82H427.52M434.38 305.68V316.08M427.38 305.68H441.38M427.38 316.08H441.38M448.24 284.56V294.6M441.24 284.56H455.24M441.24 294.6H455.24M462.09 270.04V279.22M455.09 270.04H469.09M455.09 279.22H469.09M475.95 256.72V264.44M468.95 256.72H482.95M468.95 264.44H482.95M489.8 250.16V256.96M482.8 250.16H496.8M482.8 256.96H496.8M503.66 243.65V249.51M496.66 243.65H510.66M496.66 249.51H510.66M517.51 237.72V242.76M510.51 237.72H524.51M510.51 242.76H524.51M531.37 234.03V237.66M524.37 234.03H538.37M524.37 237.66H538.37M545.23 228.68V232.31M538.23 228.68H552.23M538.23 232.31H552.23M559.08 224.52V228.14M552.08 224.52H566.08M552.08 228.14H566.08M572.94 220.35V223.97M565.94 220.35H579.94M565.94 223.97H579.94M586.79 217.54V221.16M579.79 217.54H593.79M579.79 221.16H593.79M600.65 214.37V217.99M593.65 214.37H607.65M593.65 217.99H607.65M614.5 211.19V214.82M607.5 211.19H621.5M607.5 214.82H621.5M628.36 208.48V212.1M621.36 208.48H635.36M621.36 212.1H635.36M642.22 206.57V210.2M635.22 206.57H649.22M635.22 210.2H649.22M656.07 203.99V207.62M649.07 203.99H663.07M649.07 207.62H663.07M669.93 201.5V205.12M662.93 201.5H676.93M662.93 205.12H676.93M683.78 198.96V202.59M676.78 198.96H690.78M676.78 202.59H690.78M697.64 197.15V200.77M690.64 197.15H704.64M690.64 200.77H704.64M711.49 195.52V199.14M704.49 195.52H718.49M704.49 199.14H718.49M725.35 193.25V196.88M718.35 193.25H732.35M718.35 196.88H732.35M739.21 186.91V190.53M732.21 186.91H746.21M732.21 190.53H746.21M753.06 159.95V182.6M746.06 159.95H760.06M746.06 182.6H760.06M766.92 153.42V154.33M759.92 153.42H773.92M759.92 154.33H773.92M780.77 150.57V151.48M773.77 150.57H787.77M773.77 151.48H787.77M794.63 149.12V150.03M787.63 149.12H801.63M787.63 150.03H801.63M808.48 148.67V149.57M801.48 148.67H815.48M801.48 149.57H815.48M822.34 148.35V149.26M815.34 148.35H829.34M815.34 149.26H829.34M836.2 148.03V148.94M829.2 148.03H843.2M829.2 148.94H843.2M850.05 147.65V148.56M843.05 147.65H857.05M843.05 148.56H857.05M863.91 147.28V148.18M856.91 147.28H870.91M856.91 148.18H870.91M877.76 146.9V147.81M870.76 146.9H884.76M870.76 147.81H884.76M891.62 146.52V147.43M884.62 146.52H898.62M884.62 147.43H898.62M905.47 146.14V147.05M898.47 146.14H912.47M898.47 147.05H912.47M919.33 145.77V146.67M912.33 145.77H926.33M912.33 146.67H926.33M933.19 145.49V146.4M926.19 145.49H940.19M926.19 146.4H940.19M947.04 145.21V146.12M940.04 145.21H954.04M940.04 146.12H954.04M960.9 144.94V145.84M953.9 144.94H967.9M953.9 145.84H967.9M974.75 144.66V145.57M967.75 144.66H981.75M967.75 145.57H981.75M988.61 144.39V145.29M981.61 144.39H995.61M981.61 145.29H995.61M1002.46 144.11V145.01M995.46 144.11H1009.46M995.46 145.01H1009.46M1016.32 143.83V144.74M1009.32 143.83H1023.32M1009.32 144.74H1023.32M1030.18 143.56V144.46M1023.18 143.56H1037.18M1023.18 144.46H1037.18M1044.03 143.28V144.19M1037.03 143.28H1051.03M1037.03 144.19H1051.03M1057.89 143V143.91M1050.89 143H1064.89M1050.89 143.91H1064.89M1071.74 142.78V143.68M1064.74 142.78H1078.74M1064.74 143.68H1078.74M1085.6 142.55V143.46M1078.6 142.55H1092.6M1078.6 143.46H1092.6M1099.45 142.32V143.23M1092.45 142.32H1106.45M1092.45 143.23H1106.45M1113.31 142.1V143M1106.31 142.1H1120.31M1106.31 143H1120.31M1127.17 141.87V142.78M1120.17 141.87H1134.17M1120.17 142.78H1134.17M1141.02 141.64V142.55M1134.02 141.64H1148.02M1134.02 142.55H1148.02M1154.88 141.42V142.32M1147.88 141.42H1161.88M1147.88 142.32H1161.88M1168.73 141.19V142.1M1161.73 141.19H1175.73M1161.73 142.1H1175.73M1182.59 140.96V141.87M1175.59 140.96H1189.59M1175.59 141.87H1189.59M1196.44 140.74V141.64M1189.44 140.74H1203.44M1189.44 141.64H1203.44M1210.3 140.51V141.42M1203.3 140.51H1217.3M1203.3 141.42H1217.3" stroke="#006400" stroke-width="1" stroke-opacity="0.55" fill="none"/>
<path d="M254.26 452.49L260.91 457.33L258.37 465.16L250.14 465.16L247.6 457.33ZM268.11 449.77L274.77 454.61L272.23 462.44L264 462.44L261.45 454.61ZM281.97 446.6L288.62 451.44L286.08 459.27L277.85 459.27L275.31 451.44ZM295.82 443.43L302.48 448.27L299.94 456.09L291.71 456.09L289.17 448.27ZM309.68 439.49L316.34 444.33L313.79 452.15L305.56 452.15L303.02 444.33ZM323.53 433.92L330.19 438.75L327.65 446.58L319.42 446.58L316.88 438.75ZM337.39 428.03L344.05 432.86L341.5 440.69L333.28 440.69L330.73 432.86ZM351.25 421.23L357.9 426.07L355.36 433.89L347.13 433.89L344.59 426.07ZM365.1 409.45L371.76 414.29L369.22 422.11L360.99 422.11L358.44 414.29ZM378.96 399.3L385.61 404.14L383.07 411.96L374.84 411.96L372.3 404.14ZM392.81 377.41L399.47 382.25L396.93 390.08L388.7 390.08L386.16 382.25ZM406.67 355.08L413.33 359.91L410.78 367.74L402.55 367.74L400.01 359.91ZM420.52 331.61L427.18 336.44L424.64 344.27L416.41 344.27L413.87 336.44ZM434.38 303.88L441.04 308.71L438.49 316.54L430.27 316.54L427.72 308.71ZM448.24 282.58L454.89 287.42L452.35 295.24L444.12 295.24L441.58 287.42ZM462.09 267.63L468.75 272.47L466.21 280.29L457.98 280.29L455.43 272.47ZM475.95 253.58L482.6 258.42L480.06 266.25L471.83 266.25L469.29 258.42ZM489.8 246.56L496.46 251.4L493.92 259.22L485.69 259.22L483.15 251.4ZM503.66 239.58L510.32 244.42L507.77 252.24L499.54 252.24L497 244.42ZM517.51 233.24L524.17 238.08L521.63 245.9L513.4 245.9L510.86 238.08ZM531.37 228.84L538.03 233.68L535.48 241.51L527.26 241.51L524.71 233.68ZM545.23 223.5L551.88 228.33L549.34 236.16L541.11 236.16L538.57 228.33ZM559.08 219.33L565.74 224.17L563.2 231.99L554.97 231.99L552.42 224.17ZM572.94 215.16L579.59 220L577.05 227.82L568.82 227.82L566.28 220ZM586.79 212.35L593.45 217.19L590.91 225.01L582.68 225.01L580.14 217.19ZM600.65 209.18L607.31 214.02L604.76 221.84L596.53 221.84L593.99 214.02ZM614.5 206.01L621.16 210.84L618.62 218.67L610.39 218.67L607.85 210.84ZM628.36 203.29L635.02 208.13L632.47 215.95L624.25 215.95L621.7 208.13ZM642.22 201.39L648.87 206.22L646.33 214.05L638.1 214.05L635.56 206.22ZM656.07 198.8L662.73 203.64L660.19 211.47L651.96 211.47L649.41 203.64ZM669.93 196.31L676.58 201.15L674.04 208.97L665.81 208.97L663.27 201.15ZM683.78 193.77L690.44 198.61L687.9 206.44L679.67 206.44L677.13 198.61ZM697.64 191.96L704.3 196.8L701.75 204.62L693.52 204.62L690.98 196.8ZM711.49 190.33L718.15 195.17L715.61 202.99L707.38 202.99L704.84 195.17ZM725.35 188.06L732.01 192.9L729.46 200.73L721.24 200.73L718.69 192.9ZM739.21 181.72L745.86 186.56L743.32 194.38L735.09 194.38L732.55 186.56ZM753.06 164.28L759.72 169.11L757.18 176.94L748.95 176.94L746.4 169.11ZM766.92 146.88L773.57 151.71L771.03 159.54L762.8 159.54L760.26 151.71ZM780.77 144.02L787.43 148.86L784.89 156.69L776.66 156.69L774.12 148.86ZM794.63 142.57L801.29 147.41L798.74 155.24L790.51 155.24L787.97 147.41ZM808.48 142.12L815.14 146.96L812.6 154.78L804.37 154.78L801.83 146.96ZM822.34 141.8L829 146.64L826.45 154.47L818.23 154.47L815.68 146.64ZM836.2 141.49L842.85 146.32L840.31 154.15L832.08 154.15L829.54 146.32ZM850.05 141.11L856.71 145.94L854.17 153.77L845.94 153.77L843.39 145.94ZM863.91 140.73L870.56 145.57L868.02 153.39L859.79 153.39L857.25 145.57ZM877.76 140.35L884.42 145.19L881.88 153.02L873.65 153.02L871.11 145.19ZM891.62 139.98L898.28 144.81L895.73 152.64L887.5 152.64L884.96 144.81ZM905.47 139.6L912.13 144.43L909.59 152.26L901.36 152.26L898.82 144.43ZM919.33 139.22L925.99 144.06L923.44 151.88L915.22 151.88L912.67 144.06ZM933.19 138.94L939.84 143.78L937.3 151.61L929.07 151.61L926.53 143.78ZM947.04 138.67L953.7 143.5L951.16 151.33L942.93 151.33L940.38 143.5ZM960.9 138.39L967.55 143.23L965.01 151.05L956.78 151.05L954.24 143.23ZM974.75 138.11L981.41 142.95L978.87 150.78L970.64 150.78L968.1 142.95ZM988.61 137.84L995.27 142.68L992.72 150.5L984.49 150.5L981.95 142.68ZM1002.46 137.56L1009.12 142.4L1006.58 150.22L998.35 150.22L995.81 142.4ZM1016.32 137.29L1022.98 142.12L1020.43 149.95L1012.21 149.95L1009.66 142.12ZM1030.18 137.01L1036.83 141.85L1034.29 149.67L1026.06 149.67L1023.52 141.85ZM1044.03 136.73L1050.69 141.57L1048.15 149.4L1039.92 149.4L1037.37 141.57ZM1057.89 136.46L1064.54 141.29L1062 149.12L1053.77 149.12L1051.23 141.29ZM1071.74 136.23L1078.4 141.07L1075.86 148.89L1067.63 148.89L1065.09 141.07ZM1085.6 136L1092.26 140.84L1089.71 148.67L1081.48 148.67L1078.94 140.84ZM1099.45 135.78L1106.11 140.61L1103.57 148.44L1095.34 148.44L1092.8 140.61ZM1113.31 135.55L1119.97 140.39L1117.42 148.21L1109.2 148.21L1106.65 140.39ZM1127.17 135.32L1133.82 140.16L1131.28 147.99L1123.05 147.99L1120.51 140.16ZM1141.02 135.1L1147.68 139.93L1145.14 147.76L1136.91 147.76L1134.36 139.93ZM1154.88 134.87L1161.53 139.71L1158.99 147.53L1150.76 147.53L1148.22 139.71ZM1168.73 134.64L1175.39 139.48L1172.85 147.31L1164.62 147.31L1162.08 139.48ZM1182.59 134.42L1189.25 139.25L1186.7 147.08L1178.47 147.08L1175.93 139.25ZM1196.44 134.19L1203.1 139.03L1200.56 146.85L1192.33 146.85L1189.79 139.03ZM1210.3 133.96L1216.96 138.8L1214.41 146.63L1206.19 146.63L1203.64 138.8Z" fill="#006400"/>
<g fill="#000"><circle cx="254.26" cy="461.31" r="8"/><circle cx="268.11" cy="459.04" r="8"/><circle cx="281.97" cy="455.87" r="8"/><circle cx="295.82" cy="452.7" r="8"/><circle cx="309.68" cy="449.75" r="8"/><circle cx="323.53" cy="446.35" r="8"/><circle cx="337.39" cy="441.82" r="8"/><circle cx="351.25" cy="436.07" r="8"/><circle cx="365.1" cy="429.14" r="8"/><circle cx="378.96" cy="422.34" r="8"/><circle cx="392.81" cy="409.65" r="8"/><circle cx="406.67" cy="395.83" r="8"/><circle cx="420.52" cy="375.58" r="8"/><circle cx="434.38" cy="352.11" r="8"/><circle cx="448.24" cy="322.66" r="8"/><circle cx="462.09" cy="302.27" r="8"/><circle cx="475.95" cy="284.6" r="8"/><circle cx="489.8" cy="271.5" r="8"/><circle cx="503.66" cy="259.5" r="8"/><circle cx="517.51" cy="251.66" r="8"/><circle cx="531.37" cy="245.58" r="8"/><circle cx="545.23" cy="240.51" r="8"/><circle cx="559.08" cy="236.12" r="8"/><circle cx="572.94" cy="231.4" r="8"/><circle cx="586.79" cy="227.23" r="8"/><circle cx="600.65" cy="223.43" r="8"/><circle cx="614.5" cy="220.26" r="8"/><circle cx="628.36" cy="217.27" r="8"/><circle cx="642.22" cy="213.69" r="8"/><circle cx="656.07" cy="210.88" r="8"/><circle cx="669.93" cy="208.61" r="8"/><circle cx="683.78" cy="206.07" r="8"/><circle cx="697.64" cy="203.49" r="8"/><circle cx="711.49" cy="201.68" r="8"/><circle cx="725.35" cy="199.73" r="8"/><circle cx="739.21" cy="198.24" r="8"/><circle cx="753.06" cy="195.93" r="8"/><circle cx="766.92" cy="191.03" r="8"/><circle cx="780.77" cy="183.1" r="8"/><circle cx="794.63" cy="155.1" r="8"/><circle cx="808.48" cy="151.29" r="8"/><circle cx="822.34" cy="150.03" r="8"/><circle cx="836.2" cy="149.35" r="8"/><circle cx="850.05" cy="149.12" r="8"/><circle cx="863.91" cy="148.89" r="8"/><circle cx="877.76" cy="148.67" r="8"/><circle cx="891.62" cy="148.29" r="8"/><circle cx="905.47" cy="147.91" r="8"/><circle cx="919.33" cy="147.53" r="8"/><circle cx="933.19" cy="147.25" r="8"/><circle cx="947.04" cy="146.96" r="8"/><circle cx="960.9" cy="146.68" r="8"/><circle cx="974.75" cy="146.39" r="8"/><circle cx="988.61" cy="146.11" r="8"/><circle cx="1002.46" cy="145.82" r="8"/><circle cx="1016.32" cy="145.54" r="8"/><circle cx="1030.18" cy="145.25" r="8"/><circle cx="1044.03" cy="144.97" r="8"/><circle cx="1057.89" cy="144.68" r="8"/><circle cx="1071.74" cy="144.44" r="8"/><circle cx="1085.6" cy="144.21" r="8"/><circle cx="1099.45" cy="143.98" r="8"/><circle cx="1113.31" cy="143.74" r="8"/><circle cx="1127.17" cy="143.51" r="8"/><circle cx="1141.02" cy="143.27" r="8"/><circle cx="1154.88" cy="143.04" r="8"/><circle cx="1168.73" cy="142.8" r="8"/><circle cx="1182.59" cy="142.57" r="8"/><circle cx="1196.44" cy="142.33" r="8"/><circle cx="1210.3" cy="142.1" r="8"/></g>
<path d="M254.26 459.93V462.68M247.26 459.93H261.26M247.26 462.68H261.26M268.11 457.65V460.43M261.11 457.65H275.11M261.11 460.43H275.11M281.97 454.47V457.27M274.97 454.47H288.97M274.97 457.27H288.97M295.82 451.27V454.12M288.82 451.27H302.82M288.82 454.12H302.82M309.68 448.3V451.21M302.68 448.3H316.68M302.68 451.21H316.68M323.53 444.85V447.86M316.53 444.85H330.53M316.53 447.86H330.53M337.39 440.23V443.41M330.39 440.23H344.39M330.39 443.41H344.39M351.25 434.31V437.82M344.25 434.31H358.25M344.25 437.82H358.25M365.1 427.1V431.18M358.1 427.1H372.1M358.1 431.18H372.1M378.96 419.93V424.74M371.96 419.93H385.96M371.96 424.74H385.96M392.81 406.42V412.89M385.81 406.42H399.81M385.81 412.89H399.81M406.67 391.72V399.95M399.67 391.72H413.67M399.67 399.95H413.67M420.52 370.65V380.51M413.52 370.65H427.52M413.52 380.51H427.52M434.38 346.91V357.3M427.38 346.91H441.38M427.38 357.3H441.38M448.24 317.45V327.87M441.24 317.45H455.24M441.24 327.87H455.24M462.09 297.1V307.44M455.09 297.1H469.09M455.09 307.44H469.09M475.95 279.68V289.51M468.95 279.68H482.95M468.95 289.51H482.95M489.8 267.05V275.96M482.8 267.05H496.8M482.8 275.96H496.8M503.66 255.7V263.29M496.66 255.7H510.66M496.66 263.29H510.66M517.51 248.38V254.93M510.51 248.38H524.51M510.51 254.93H524.51M531.37 242.72V248.45M524.37 242.72H538.37M524.37 248.45H538.37M545.23 237.98V243.05M538.23 237.98H552.23M538.23 243.05H552.23M559.08 234.3V237.93M552.08 234.3H566.08M552.08 237.93H566.08M572.94 229.59V233.22M565.94 229.59H579.94M565.94 233.22H579.94M586.79 225.42V229.05M579.79 225.42H593.79M579.79 229.05H593.79M600.65 221.62V225.24M593.65 221.62H607.65M593.65 225.24H607.65M614.5 218.44V222.07M607.5 218.44H621.5M607.5 222.07H621.5M628.36 215.45V219.08M621.36 215.45H635.36M621.36 219.08H635.36M642.22 211.87V215.5M635.22 211.87H649.22M635.22 215.5H649.22M656.07 209.07V212.69M649.07 209.07H663.07M649.07 212.69H663.07M669.93 206.8V210.42M662.93 206.8H676.93M662.93 210.42H676.93M683.78 204.26V207.89M676.78 204.26H690.78M676.78 207.89H690.78M697.64 201.68V205.3M690.64 201.68H704.64M690.64 205.3H704.64M711.49 199.87V203.49M704.49 199.87H718.49M704.49 203.49H718.49M725.35 197.92V201.54M718.35 197.92H732.35M718.35 201.54H732.35M739.21 196.42V200.05M732.21 196.42H746.21M732.21 200.05H746.21M753.06 194.11V197.74M746.06 194.11H760.06M746.06 197.74H760.06M766.92 189.22V192.84M759.92 189.22H773.92M759.92 192.84H773.92M780.77 173.36V192.84M773.77 173.36H787.77M773.77 192.84H787.77M794.63 154.65V155.55M787.63 154.65H801.63M787.63 155.55H801.63M808.48 150.84V151.75M801.48 150.84H815.48M801.48 151.75H815.48M822.34 149.57V150.48M815.34 149.57H829.34M815.34 150.48H829.34M836.2 148.89V149.8M829.2 148.89H843.2M829.2 149.8H843.2M850.05 148.67V149.57M843.05 148.67H857.05M843.05 149.57H857.05M863.91 148.44V149.35M856.91 148.44H870.91M856.91 149.35H870.91M877.76 148.21V149.12M870.76 148.21H884.76M870.76 149.12H884.76M891.62 147.84V148.74M884.62 147.84H898.62M884.62 148.74H898.62M905.47 147.46V148.36M898.47 147.46H912.47M898.47 148.36H912.47M919.33 147.08V147.99M912.33 147.08H926.33M912.33 147.99H926.33M933.19 146.8V147.7M926.19 146.8H940.19M926.19 147.7H940.19M947.04 146.51V147.42M940.04 146.51H954.04M940.04 147.42H954.04M960.9 146.22V147.13M953.9 146.22H967.9M953.9 147.13H967.9M974.75 145.94V146.85M967.75 145.94H981.75M967.75 146.85H981.75M988.61 145.65V146.56M981.61 145.65H995.61M981.61 146.56H995.61M1002.46 145.37V146.27M995.46 145.37H1009.46M995.46 146.27H1009.46M1016.32 145.08V145.99M1009.32 145.08H1023.32M1009.32 145.99H1023.32M1030.18 144.8V145.7M1023.18 144.8H1037.18M1023.18 145.7H1037.18M1044.03 144.51V145.42M1037.03 144.51H1051.03M1037.03 145.42H1051.03M1057.89 144.23V145.13M1050.89 144.23H1064.89M1050.89 145.13H1064.89M1071.74 143.99V144.9M1064.74 143.99H1078.74M1064.74 144.9H1078.74M1085.6 143.76V144.66M1078.6 143.76H1092.6M1078.6 144.66H1092.6M1099.45 143.52V144.43M1092.45 143.52H1106.45M1092.45 144.43H1106.45M1113.31 143.29V144.19M1106.31 143.29H1120.31M1106.31 144.19H1120.31M1127.17 143.05V143.96M1120.17 143.05H1134.17M1120.17 143.96H1134.17M1141.02 142.82V143.72M1134.02 142.82H1148.02M1134.02 143.72H1148.02M1154.88 142.58V143.49M1147.88 142.58H1161.88M1147.88 143.49H1161.88M1168.73 142.35V143.25M1161.73 142.35H1175.73M1161.73 143.25H1175.73M1182.59 142.11V143.02M1175.59 142.11H1189.59M1175.59 143.02H1189.59M1196.44 141.88V142.78M1189.44 141.88H1203.44M1189.44 142.78H1203.44M1210.3 141.64V142.55M1203.3 141.64H1217.3M1203.3 142.55H1217.3" stroke="#ffa500" stroke-width="1" stroke-opacity="0.5" fill="none"/>
<g fill="#ffa500"><circle cx="254.26" cy="461.31" r="7"/><circle cx="268.11" cy="459.04" r="7"/><circle cx="281.97" cy="455.87" r="7"/><circle cx="295.82" cy="452.7" r="7"/><circle cx="309.68" cy="449.75" r="7"/><circle cx="323.53" cy="446.35" r="7"/><circle cx="337.39" cy="441.82" r="7"/><circle cx="351.25" cy="436.07" r="7"/><circle cx="365.1" cy="429.14" r="7"/><circle cx="378.96" cy="422.34" r="7"/><circle cx="392.81" cy="409.65" r="7"/><circle cx="406.67" cy="395.83" r="7"/><circle cx="420.52" cy="375.58" r="7"/><circle cx="434.38" cy="352.11" r="7"/><circle cx="448.24" cy="322.66" r="7"/><circle cx="462.09" cy="302.27" r="7"/><circle cx="475.95" cy="284.6" r="7"/><circle cx="489.8" cy="271.5" r="7"/><circle cx="503.66" cy="259.5" r="7"/><circle cx="517.51" cy="251.66" r="7"/><circle cx="531.37" cy="245.58" r="7"/><circle cx="545.23" cy="240.51" r="7"/><circle cx="559.08" cy="236.12" r="7"/><circle cx="572.94" cy="231.4" r="7"/><circle cx="586.79" cy="227.23" r="7"/><circle cx="600.65" cy="223.43" r="7"/><circle cx="614.5" cy="220.26" r="7"/><circle cx="628.36" cy="217.27" r="7"/><circle cx="642.22" cy="213.69" r="7"/><circle cx="656.07" cy="210.88" r="7"/><circle cx="669.93" cy="208.61" r="7"/><circle cx="683.78" cy="206.07" r="7"/><circle cx="697.64" cy="203.49" r="7"/><circle cx="711.49" cy="201.68" r="7"/><circle cx="725.35" cy="199.73" r="7"/><circle cx="739.21" cy="198.24" r="7"/><circle cx="753.06" cy="195.93" r="7"/><circle cx="766.92" cy="191.03" r="7"/><circle cx="780.77" cy="183.1" r="7"/><circle cx="794.63" cy="155.1" r="7"/><circle cx="808.48" cy="151.29" r="7"/><circle cx="822.34" cy="150.03" r="7"/><circle cx="836.2" cy="149.35" r="7"/><circle cx="850.05" cy="149.12" r="7"/><circle cx="863.91" cy="148.89" r="7"/><circle cx="877.76" cy="148.67" r="7"/><circle cx="891.62" cy="148.29" r="7"/><circle cx="905.47" cy="147.91" r="7"/><circle cx="919.33" cy="147.53" r="7"/><circle cx="933.19" cy="147.25" r="7"/><circle cx="947.04" cy="146.96" r="7"/><circle cx="960.9" cy="146.68" r="7"/><circle cx="974.75" cy="146.39" r="7"/><circle cx="988.61" cy="146.11" r="7"/><circle cx="1002.46" cy="145.82" r="7"/><circle cx="1016.32" cy="145.54" r="7"/><circle cx="1030.18" cy="145.25" r="7"/><circle cx="1044.03" cy="144.97" r="7"/><circle cx="1057.89" cy="144.68" r="7"/><circle cx="1071.74" cy="144.44" r="7"/><circle cx="1085.6" cy="144.21" r="7"/><circle cx="1099.45" cy="143.98" r="7"/><circle cx="1113.31" cy="143.74" r="7"/><circle cx="1127.17" cy="143.51" r="7"/><circle cx="1141.02" cy="143.27" r="7"/><circle cx="1154.88" cy="143.04" r="7"/><circle cx="1168.73" cy="142.8" r="7"/><circle cx="1182.59" cy="142.57" r="7"/><circle cx="1196.44" cy="142.33" r="7"/><circle cx="1210.3" cy="142.1" r="7"/></g>
<path d="M245.96 454.82L262.56 471.42M245.96 471.42L262.56 454.82M259.81 452.55L276.41 469.15M259.81 469.15L276.41 452.55M273.67 449.83L290.27 466.43M273.67 466.43L290.27 449.83M287.52 447.12L304.12 463.72M287.52 463.72L304.12 447.12M301.38 443.94L317.98 460.54M301.38 460.54L317.98 443.94M315.23 440.77L331.83 457.37M315.23 457.37L331.83 440.77M329.09 437.15L345.69 453.75M329.09 453.75L345.69 437.15M342.95 433.07L359.55 449.67M342.95 449.67L359.55 433.07M356.8 428.54L373.4 445.14M356.8 445.14L373.4 428.54M370.66 421.29L387.26 437.89M370.66 437.89L387.26 421.29M384.51 411.32L401.11 427.92M384.51 427.92L401.11 411.32M398.37 404.61L414.97 421.21M398.37 421.21L414.97 404.61M412.22 395.1L428.82 411.7M412.22 411.7L428.82 395.1M426.08 377.38L442.68 393.98M426.08 393.98L442.68 377.38M439.94 358.4L456.54 375M439.94 375L456.54 358.4M453.79 335.38L470.39 351.98M453.79 351.98L470.39 335.38M467.65 312.68L484.25 329.28M467.65 329.28L484.25 312.68M481.5 290.21L498.1 306.81M481.5 306.81L498.1 290.21M495.36 275.25L511.96 291.85M495.36 291.85L511.96 275.25M509.21 261.98L525.81 278.58M509.21 278.58L525.81 261.98M523.07 252.46L539.67 269.06M523.07 269.06L539.67 252.46M536.93 243.58L553.53 260.18M536.93 260.18L553.53 243.58M550.78 237.92L567.38 254.52M550.78 254.52L567.38 237.92M564.64 231.58L581.24 248.18M564.64 248.18L581.24 231.58M578.49 226.5L595.09 243.1M578.49 243.1L595.09 226.5M592.35 221.47L608.95 238.07M592.35 238.07L608.95 221.47M606.2 218.93L622.8 235.53M606.2 235.53L622.8 218.93M620.06 215.13L636.66 231.73M620.06 231.73L636.66 215.13M633.92 211.96L650.52 228.56M633.92 228.56L650.52 211.96M647.77 209.24L664.37 225.84M647.77 225.84L664.37 209.24M661.63 206.97L678.23 223.57M661.63 223.57L678.23 206.97M675.48 204.25L692.08 220.85M675.48 220.85L692.08 204.25M689.34 201.76L705.94 218.36M689.34 218.36L705.94 201.76M703.19 199.95L719.79 216.55M703.19 216.55L719.79 199.95M717.05 197.91L733.65 214.51M717.05 214.51L733.65 197.91M730.91 196.55L747.51 213.15M730.91 213.15L747.51 196.55M744.76 194.29L761.36 210.89M744.76 210.89L761.36 194.29M758.62 190.66L775.22 207.26M758.62 207.26L775.22 190.66M772.47 188.4L789.07 205M772.47 205L789.07 188.4M786.33 183.5L802.93 200.1M786.33 200.1L802.93 183.5M800.18 174.21L816.78 190.81M800.18 190.81L816.78 174.21M814.04 157.31L830.64 173.91M814.04 173.91L830.64 157.31M827.9 146.8L844.5 163.4M827.9 163.4L844.5 146.8M841.75 143.54L858.35 160.14M841.75 160.14L858.35 143.54M855.61 142.18L872.21 158.78M855.61 158.78L872.21 142.18M869.46 141.84L886.06 158.44M869.46 158.44L886.06 141.84M883.32 141.5L899.92 158.1M883.32 158.1L899.92 141.5M897.17 141.16L913.77 157.76M897.17 157.76L913.77 141.16M911.03 140.82L927.63 157.42M911.03 157.42L927.63 140.82M924.89 140.55L941.49 157.15M924.89 157.15L941.49 140.55M938.74 140.28L955.34 156.88M938.74 156.88L955.34 140.28M952.6 140L969.2 156.6M952.6 156.6L969.2 140M966.45 139.73L983.05 156.33M966.45 156.33L983.05 139.73M980.31 139.46L996.91 156.06M980.31 156.06L996.91 139.46M994.16 139.19L1010.76 155.79M994.16 155.79L1010.76 139.19M1008.02 138.92L1024.62 155.52M1008.02 155.52L1024.62 138.92M1021.88 138.65L1038.48 155.25M1021.88 155.25L1038.48 138.65M1035.73 138.37L1052.33 154.97M1035.73 154.97L1052.33 138.37M1049.59 138.1L1066.19 154.7M1049.59 154.7L1066.19 138.1M1063.44 137.85L1080.04 154.45M1063.44 154.45L1080.04 137.85M1077.3 137.61L1093.9 154.21M1077.3 154.21L1093.9 137.61M1091.15 137.36L1107.75 153.96M1091.15 153.96L1107.75 137.36M1105.01 137.11L1121.61 153.71M1105.01 153.71L1121.61 137.11M1118.87 136.87L1135.47 153.47M1118.87 153.47L1135.47 136.87M1132.72 136.62L1149.32 153.22M1132.72 153.22L1149.32 136.62M1146.58 136.37L1163.18 152.97M1146.58 152.97L1163.18 136.37M1160.43 136.12L1177.03 152.72M1160.43 152.72L1177.03 136.12M1174.29 135.88L1190.89 152.48M1174.29 152.48L1190.89 135.88M1188.14 135.63L1204.74 152.23M1188.14 152.23L1204.74 135.63M1202 135.38L1218.6 151.98M1202 151.98L1218.6 135.38" stroke="#000" stroke-width="0.9" stroke-opacity="0.5" fill="none"/>
<path d="M254.26 461.75V464.49M247.26 461.75H261.26M247.26 464.49H261.26M268.11 459.47V462.23M261.11 459.47H275.11M261.11 462.23H275.11M281.97 456.74V459.52M274.97 456.74H288.97M274.97 459.52H288.97M295.82 454.01V456.82M288.82 454.01H302.82M288.82 456.82H302.82M309.68 450.82V453.67M302.68 450.82H316.68M302.68 453.67H316.68M323.53 447.61V450.54M316.53 447.61H330.53M316.53 450.54H330.53M337.39 443.93V446.96M330.39 443.93H344.39M330.39 446.96H344.39M351.25 439.77V442.97M344.25 439.77H358.25M344.25 442.97H358.25M365.1 435.11V438.57M358.1 435.11H372.1M358.1 438.57H372.1M378.96 427.57V431.61M371.96 427.57H385.96M371.96 431.61H385.96M392.81 417.05V422.19M385.81 417.05H399.81M385.81 422.19H399.81M406.67 409.9V415.93M399.67 409.9H413.67M399.67 415.93H413.67M420.52 399.75V407.05M413.52 399.75H427.52M413.52 407.05H427.52M434.38 381.08V390.29M427.38 381.08H441.38M427.38 390.29H441.38M448.24 361.61V371.79M441.24 361.61H455.24M441.24 371.79H455.24M462.09 338.47V348.89M455.09 338.47H469.09M455.09 348.89H469.09M475.95 315.77V326.19M468.95 315.77H482.95M468.95 326.19H482.95M489.8 293.37V303.65M482.8 293.37H496.8M482.8 303.65H496.8M503.66 278.67V288.44M496.66 278.67H510.66M496.66 288.44H510.66M517.51 265.88V274.68M510.51 265.88H524.51M510.51 274.68H524.51M531.37 256.89V264.64M524.37 256.89H538.37M524.37 264.64H538.37M545.23 248.59V255.17M538.23 248.59H552.23M538.23 255.17H552.23M559.08 243.31V249.13M552.08 243.31H566.08M552.08 249.13H566.08M572.94 237.38V242.37M565.94 237.38H579.94M565.94 242.37H579.94M586.79 232.99V236.61M579.79 232.99H593.79M579.79 236.61H593.79M600.65 227.96V231.58M593.65 227.96H607.65M593.65 231.58H607.65M614.5 225.42V229.05M607.5 225.42H621.5M607.5 229.05H621.5M628.36 221.62V225.24M621.36 221.62H635.36M621.36 225.24H635.36M642.22 218.44V222.07M635.22 218.44H649.22M635.22 222.07H649.22M656.07 215.73V219.35M649.07 215.73H663.07M649.07 219.35H663.07M669.93 213.46V217.09M662.93 213.46H676.93M662.93 217.09H676.93M683.78 210.74V214.37M676.78 210.74H690.78M676.78 214.37H690.78M697.64 208.25V211.87M690.64 208.25H704.64M690.64 211.87H704.64M711.49 206.44V210.06M704.49 206.44H718.49M704.49 210.06H718.49M725.35 204.4V208.02M718.35 204.4H732.35M718.35 208.02H732.35M739.21 203.04V206.66M732.21 203.04H746.21M732.21 206.66H746.21M753.06 200.77V204.4M746.06 200.77H760.06M746.06 204.4H760.06M766.92 197.15V200.77M759.92 197.15H773.92M759.92 200.77H773.92M780.77 194.88V198.51M773.77 194.88H787.77M773.77 198.51H787.77M794.63 189.99V193.61M787.63 189.99H801.63M787.63 193.61H801.63M808.48 174.36V190.67M801.48 174.36H815.48M801.48 190.67H815.48M822.34 154.51V176.71M815.34 154.51H829.34M815.34 176.71H829.34M836.2 151.02V159.18M829.2 151.02H843.2M829.2 159.18H843.2M850.05 151.39V152.29M843.05 151.39H857.05M843.05 152.29H857.05M863.91 150.03V150.93M856.91 150.03H870.91M856.91 150.93H870.91M877.76 149.69V150.59M870.76 149.69H884.76M870.76 150.59H884.76M891.62 149.35V150.25M884.62 149.35H898.62M884.62 150.25H898.62M905.47 149.01V149.91M898.47 149.01H912.47M898.47 149.91H912.47M919.33 148.67V149.57M912.33 148.67H926.33M912.33 149.57H926.33M933.19 148.4V149.3M926.19 148.4H940.19M926.19 149.3H940.19M947.04 148.12V149.03M940.04 148.12H954.04M940.04 149.03H954.04M960.9 147.85V148.76M953.9 147.85H967.9M953.9 148.76H967.9M974.75 147.58V148.49M967.75 147.58H981.75M967.75 148.49H981.75M988.61 147.31V148.21M981.61 147.31H995.61M981.61 148.21H995.61M1002.46 147.04V147.94M995.46 147.04H1009.46M995.46 147.94H1009.46M1016.32 146.76V147.67M1009.32 146.76H1023.32M1009.32 147.67H1023.32M1030.18 146.49V147.4M1023.18 146.49H1037.18M1023.18 147.4H1037.18M1044.03 146.22V147.13M1037.03 146.22H1051.03M1037.03 147.13H1051.03M1057.89 145.95V146.85M1050.89 145.95H1064.89M1050.89 146.85H1064.89M1071.74 145.7V146.61M1064.74 145.7H1078.74M1064.74 146.61H1078.74M1085.6 145.45V146.36M1078.6 145.45H1092.6M1078.6 146.36H1092.6M1099.45 145.21V146.11M1092.45 145.21H1106.45M1092.45 146.11H1106.45M1113.31 144.96V145.87M1106.31 144.96H1120.31M1106.31 145.87H1120.31M1127.17 144.71V145.62M1120.17 144.71H1134.17M1120.17 145.62H1134.17M1141.02 144.47V145.37M1134.02 144.47H1148.02M1134.02 145.37H1148.02M1154.88 144.22V145.12M1147.88 144.22H1161.88M1147.88 145.12H1161.88M1168.73 143.97V144.88M1161.73 143.97H1175.73M1161.73 144.88H1175.73M1182.59 143.72V144.63M1175.59 143.72H1189.59M1175.59 144.63H1189.59M1196.44 143.48V144.38M1189.44 143.48H1203.44M1189.44 144.38H1203.44M1210.3 143.23V144.14M1203.3 143.23H1217.3M1203.3 144.14H1217.3" stroke="#ff0000" stroke-width="1" stroke-opacity="0.32" fill="none"/>
<path d="M246.86 455.72L261.66 470.52M246.86 470.52L261.66 455.72M260.71 453.45L275.51 468.25M260.71 468.25L275.51 453.45M274.57 450.73L289.37 465.53M274.57 465.53L289.37 450.73M288.42 448.02L303.22 462.82M288.42 462.82L303.22 448.02M302.28 444.84L317.08 459.64M302.28 459.64L317.08 444.84M316.13 441.67L330.93 456.47M316.13 456.47L330.93 441.67M329.99 438.05L344.79 452.85M329.99 452.85L344.79 438.05M343.85 433.97L358.65 448.77M343.85 448.77L358.65 433.97M357.7 429.44L372.5 444.24M357.7 444.24L372.5 429.44M371.56 422.19L386.36 436.99M371.56 436.99L386.36 422.19M385.41 412.22L400.21 427.02M385.41 427.02L400.21 412.22M399.27 405.51L414.07 420.31M399.27 420.31L414.07 405.51M413.12 396L427.92 410.8M413.12 410.8L427.92 396M426.98 378.28L441.78 393.08M426.98 393.08L441.78 378.28M440.84 359.3L455.64 374.1M440.84 374.1L455.64 359.3M454.69 336.28L469.49 351.08M454.69 351.08L469.49 336.28M468.55 313.58L483.35 328.38M468.55 328.38L483.35 313.58M482.4 291.11L497.2 305.91M482.4 305.91L497.2 291.11M496.26 276.15L511.06 290.95M496.26 290.95L511.06 276.15M510.11 262.88L524.91 277.68M510.11 277.68L524.91 262.88M523.97 253.36L538.77 268.16M523.97 268.16L538.77 253.36M537.83 244.48L552.63 259.28M537.83 259.28L552.63 244.48M551.68 238.82L566.48 253.62M551.68 253.62L566.48 238.82M565.54 232.48L580.34 247.28M565.54 247.28L580.34 232.48M579.39 227.4L594.19 242.2M579.39 242.2L594.19 227.4M593.25 222.37L608.05 237.17M593.25 237.17L608.05 222.37M607.1 219.83L621.9 234.63M607.1 234.63L621.9 219.83M620.96 216.03L635.76 230.83M620.96 230.83L635.76 216.03M634.82 212.86L649.62 227.66M634.82 227.66L649.62 212.86M648.67 210.14L663.47 224.94M648.67 224.94L663.47 210.14M662.53 207.87L677.33 222.67M662.53 222.67L677.33 207.87M676.38 205.15L691.18 219.95M676.38 219.95L691.18 205.15M690.24 202.66L705.04 217.46M690.24 217.46L705.04 202.66M704.09 200.85L718.89 215.65M704.09 215.65L718.89 200.85M717.95 198.81L732.75 213.61M717.95 213.61L732.75 198.81M731.81 197.45L746.61 212.25M731.81 212.25L746.61 197.45M745.66 195.19L760.46 209.99M745.66 209.99L760.46 195.19M759.52 191.56L774.32 206.36M759.52 206.36L774.32 191.56M773.37 189.3L788.17 204.1M773.37 204.1L788.17 189.3M787.23 184.4L802.03 199.2M787.23 199.2L802.03 184.4M801.08 175.11L815.88 189.91M801.08 189.91L815.88 175.11M814.94 158.21L829.74 173.01M814.94 173.01L829.74 158.21M828.8 147.7L843.6 162.5M828.8 162.5L843.6 147.7M842.65 144.44L857.45 159.24M842.65 159.24L857.45 144.44M856.51 143.08L871.31 157.88M856.51 157.88L871.31 143.08M870.36 142.74L885.16 157.54M870.36 157.54L885.16 142.74M884.22 142.4L899.02 157.2M884.22 157.2L899.02 142.4M898.07 142.06L912.87 156.86M898.07 156.86L912.87 142.06M911.93 141.72L926.73 156.52M911.93 156.52L926.73 141.72M925.79 141.45L940.59 156.25M925.79 156.25L940.59 141.45M939.64 141.18L954.44 155.98M939.64 155.98L954.44 141.18M953.5 140.9L968.3 155.7M953.5 155.7L968.3 140.9M967.35 140.63L982.15 155.43M967.35 155.43L982.15 140.63M981.21 140.36L996.01 155.16M981.21 155.16L996.01 140.36M995.06 140.09L1009.86 154.89M995.06 154.89L1009.86 140.09M1008.92 139.82L1023.72 154.62M1008.92 154.62L1023.72 139.82M1022.78 139.55L1037.58 154.35M1022.78 154.35L1037.58 139.55M1036.63 139.27L1051.43 154.07M1036.63 154.07L1051.43 139.27M1050.49 139L1065.29 153.8M1050.49 153.8L1065.29 139M1064.34 138.75L1079.14 153.55M1064.34 153.55L1079.14 138.75M1078.2 138.51L1093 153.31M1078.2 153.31L1093 138.51M1092.05 138.26L1106.85 153.06M1092.05 153.06L1106.85 138.26M1105.91 138.01L1120.71 152.81M1105.91 152.81L1120.71 138.01M1119.77 137.77L1134.57 152.57M1119.77 152.57L1134.57 137.77M1133.62 137.52L1148.42 152.32M1133.62 152.32L1148.42 137.52M1147.48 137.27L1162.28 152.07M1147.48 152.07L1162.28 137.27M1161.33 137.02L1176.13 151.82M1161.33 151.82L1176.13 137.02M1175.19 136.78L1189.99 151.58M1175.19 151.58L1189.99 136.78M1189.04 136.53L1203.84 151.33M1189.04 151.33L1203.84 136.53M1202.9 136.28L1217.7 151.08M1202.9 151.08L1217.7 136.28" stroke="#ff0000" stroke-width="0.9" stroke-opacity="0.78" fill="none"/>
<path d="M254.26 454.92V471.32M246.06 463.12H262.46M268.11 452.65V469.05M259.91 460.85H276.31M281.97 449.93V466.33M273.77 458.13H290.17M295.82 447.22V463.62M287.62 455.42H304.02M309.68 444.04V460.44M301.48 452.24H317.88M323.53 440.87V457.27M315.33 449.07H331.73M337.39 437.25V453.65M329.19 445.45H345.59M351.25 433.17V449.57M343.05 441.37H359.45M365.1 428.64V445.04M356.9 436.84H373.3M378.96 421.39V437.79M370.76 429.59H387.16M392.81 411.42V427.82M384.61 419.62H401.01M406.67 404.71V421.11M398.47 412.91H414.87M420.52 395.2V411.6M412.32 403.4H428.72M434.38 377.48V393.88M426.18 385.68H442.58M448.24 358.5V374.9M440.04 366.7H456.44M462.09 335.48V351.88M453.89 343.68H470.29M475.95 312.78V329.18M467.75 320.98H484.15M489.8 290.31V306.71M481.6 298.51H498M503.66 275.35V291.75M495.46 283.55H511.86M517.51 262.08V278.48M509.31 270.28H525.71M531.37 252.56V268.96M523.17 260.76H539.57M545.23 243.68V260.08M537.03 251.88H553.43M559.08 238.02V254.42M550.88 246.22H567.28M572.94 231.68V248.08M564.74 239.88H581.14M586.79 226.6V243M578.59 234.8H594.99M600.65 221.57V237.97M592.45 229.77H608.85M614.5 219.03V235.43M606.3 227.23H622.7M628.36 215.23V231.63M620.16 223.43H636.56M642.22 212.06V228.46M634.02 220.26H650.42M656.07 209.34V225.74M647.87 217.54H664.27M669.93 207.07V223.47M661.73 215.27H678.13M683.78 204.35V220.75M675.58 212.55H691.98M697.64 201.86V218.26M689.44 210.06H705.84M711.49 200.05V216.45M703.29 208.25H719.69M725.35 198.01V214.41M717.15 206.21H733.55M739.21 196.65V213.05M731.01 204.85H747.41M753.06 194.39V210.79M744.86 202.59H761.26M766.92 190.76V207.16M758.72 198.96H775.12M780.77 188.5V204.9M772.57 196.7H788.97M794.63 183.6V200M786.43 191.8H802.83M808.48 174.31V190.71M800.28 182.51H816.68M822.34 157.41V173.81M814.14 165.61H830.54M836.2 146.9V163.3M828 155.1H844.4M850.05 143.64V160.04M841.85 151.84H858.25M863.91 142.28V158.68M855.71 150.48H872.11M877.76 141.94V158.34M869.56 150.14H885.96M891.62 141.6V158M883.42 149.8H899.82M905.47 141.26V157.66M897.27 149.46H913.67M919.33 140.92V157.32M911.13 149.12H927.53M933.19 140.65V157.05M924.99 148.85H941.39M947.04 140.38V156.78M938.84 148.58H955.24M960.9 140.1V156.5M952.7 148.3H969.1M974.75 139.83V156.23M966.55 148.03H982.95M988.61 139.56V155.96M980.41 147.76H996.81M1002.46 139.29V155.69M994.26 147.49H1010.66M1016.32 139.02V155.42M1008.12 147.22H1024.52M1030.18 138.75V155.15M1021.98 146.95H1038.38M1044.03 138.47V154.87M1035.83 146.67H1052.23M1057.89 138.2V154.6M1049.69 146.4H1066.09M1071.74 137.95V154.35M1063.54 146.15H1079.94M1085.6 137.71V154.11M1077.4 145.91H1093.8M1099.45 137.46V153.86M1091.25 145.66H1107.65M1113.31 137.21V153.61M1105.11 145.41H1121.51M1127.17 136.97V153.37M1118.97 145.17H1135.37M1141.02 136.72V153.12M1132.82 144.92H1149.22M1154.88 136.47V152.87M1146.68 144.67H1163.08M1168.73 136.22V152.62M1160.53 144.42H1176.93M1182.59 135.98V152.38M1174.39 144.18H1190.79M1196.44 135.73V152.13M1188.24 143.93H1204.64M1210.3 135.48V151.88M1202.1 143.68H1218.5" stroke="#ff0000" stroke-width="1" stroke-opacity="0.5" fill="none"/>
<path d="M246.06 456.73h16.4v16.4h-16.4ZM259.91 453.79h16.4v16.4h-16.4ZM273.77 451.52h16.4v16.4h-16.4ZM287.62 449.48h16.4v16.4h-16.4ZM301.48 446.76h16.4v16.4h-16.4ZM315.33 444.5h16.4v16.4h-16.4ZM329.19 441.33h16.4v16.4h-16.4ZM343.05 438.15h16.4v16.4h-16.4ZM356.9 434.08h16.4v16.4h-16.4ZM370.76 429.54h16.4v16.4h-16.4ZM384.61 422.75h16.4v16.4h-16.4ZM398.47 418.4h16.4v16.4h-16.4ZM412.32 408.88h16.4v16.4h-16.4ZM426.18 398.78h16.4v16.4h-16.4ZM440.04 386.73h16.4v16.4h-16.4ZM453.89 368.38h16.4v16.4h-16.4ZM467.75 349.62h16.4v16.4h-16.4ZM481.6 326.24h16.4v16.4h-16.4ZM495.46 306.12h16.4v16.4h-16.4ZM509.31 291.17h16.4v16.4h-16.4ZM523.17 271.91h16.4v16.4h-16.4ZM537.03 261.17h16.4v16.4h-16.4ZM550.88 252.29h16.4v16.4h-16.4ZM564.74 245.36h16.4v16.4h-16.4ZM578.59 240.28h16.4v16.4h-16.4ZM592.45 233.35h16.4v16.4h-16.4ZM606.3 229.55h16.4v16.4h-16.4ZM620.16 225.74h16.4v16.4h-16.4ZM634.02 221.3h16.4v16.4h-16.4ZM647.87 216.59h16.4v16.4h-16.4ZM661.73 212.51h16.4v16.4h-16.4ZM675.58 208.43h16.4v16.4h-16.4ZM689.44 206.39h16.4v16.4h-16.4ZM703.29 204.35h16.4v16.4h-16.4ZM717.15 202.68h16.4v16.4h-16.4ZM731.01 200.73h16.4v16.4h-16.4ZM744.86 198.69h16.4v16.4h-16.4ZM758.72 196.74h16.4v16.4h-16.4ZM772.57 194.11h16.4v16.4h-16.4ZM786.43 192.57h16.4v16.4h-16.4ZM800.28 190.31h16.4v16.4h-16.4ZM814.14 187.73h16.4v16.4h-16.4ZM828 182.06h16.4v16.4h-16.4ZM841.85 163.3h16.4v16.4h-16.4ZM855.71 149.76h16.4v16.4h-16.4ZM869.56 145.99h16.4v16.4h-16.4ZM883.42 144.68h16.4v16.4h-16.4ZM897.27 144.09h16.4v16.4h-16.4ZM911.13 143.46h16.4v16.4h-16.4ZM924.99 143.13h16.4v16.4h-16.4ZM938.84 142.8h16.4v16.4h-16.4ZM952.7 142.47h16.4v16.4h-16.4ZM966.55 142.13h16.4v16.4h-16.4ZM980.41 141.8h16.4v16.4h-16.4ZM994.26 141.47h16.4v16.4h-16.4ZM1008.12 141.14h16.4v16.4h-16.4ZM1021.98 140.81h16.4v16.4h-16.4ZM1035.83 140.48h16.4v16.4h-16.4ZM1049.69 140.15h16.4v16.4h-16.4ZM1063.54 139.85h16.4v16.4h-16.4ZM1077.4 139.55h16.4v16.4h-16.4ZM1091.25 139.25h16.4v16.4h-16.4ZM1105.11 138.95h16.4v16.4h-16.4ZM1118.97 138.65h16.4v16.4h-16.4ZM1132.82 138.35h16.4v16.4h-16.4ZM1146.68 138.04h16.4v16.4h-16.4ZM1160.53 137.74h16.4v16.4h-16.4ZM1174.39 137.44h16.4v16.4h-16.4ZM1188.24 137.14h16.4v16.4h-16.4ZM1202.1 136.84h16.4v16.4h-16.4Z" fill="#000"/>
<path d="M254.26 463.56V466.3M247.26 463.56H261.26M247.26 466.3H261.26M268.11 460.61V463.36M261.11 460.61H275.11M261.11 463.36H275.11M281.97 458.34V461.1M274.97 458.34H288.97M274.97 461.1H288.97M295.82 456.29V459.07M288.82 456.29H302.82M288.82 459.07H302.82M309.68 453.56V456.37M302.68 453.56H316.68M302.68 456.37H316.68M323.53 451.27V454.12M316.53 451.27H330.53M316.53 454.12H330.53M337.39 448.07V450.98M330.39 448.07H344.39M330.39 450.98H344.39M351.25 444.85V447.86M344.25 444.85H358.25M344.25 447.86H358.25M365.1 440.69V443.86M358.1 440.69H372.1M358.1 443.86H372.1M378.96 436.04V439.45M371.96 436.04H385.96M371.96 439.45H385.96M392.81 428.99V432.9M385.81 428.99H399.81M385.81 432.9H399.81M406.67 424.43V428.77M399.67 424.43H413.67M399.67 428.77H413.67M420.52 414.35V419.82M413.52 414.35H427.52M413.52 419.82H427.52M434.38 403.56V410.4M427.38 403.56H441.38M427.38 410.4H441.38M448.24 390.76V399.09M441.24 390.76H455.24M441.24 399.09H455.24M462.09 371.67V381.48M455.09 371.67H469.09M455.09 381.48H469.09M475.95 352.65V362.99M468.95 352.65H482.95M468.95 362.99H482.95M489.8 329.23V339.65M482.8 329.23H496.8M482.8 339.65H496.8M503.66 309.11V319.53M496.66 309.11H510.66M496.66 319.53H510.66M517.51 294.22V304.51M510.51 294.22H524.51M510.51 304.51H524.51M531.37 275.32V284.9M524.37 275.32H538.37M524.37 284.9H538.37M545.23 265.02V273.73M538.23 265.02H552.23M538.23 273.73H552.23M559.08 256.64V264.35M552.08 256.64H566.08M552.08 264.35H566.08M572.94 250.16V256.96M565.94 250.16H579.94M565.94 256.96H579.94M586.79 245.43V251.54M579.79 245.43H593.79M579.79 251.54H593.79M600.65 238.95V244.15M593.65 238.95H607.65M593.65 244.15H607.65M614.5 235.93V239.56M607.5 235.93H621.5M607.5 239.56H621.5M628.36 232.13V235.75M621.36 232.13H635.36M621.36 235.75H635.36M642.22 227.69V231.31M635.22 227.69H649.22M635.22 231.31H649.22M656.07 222.98V226.6M649.07 222.98H663.07M649.07 226.6H663.07M669.93 218.9V222.52M662.93 218.9H676.93M662.93 222.52H676.93M683.78 214.82V218.44M676.78 214.82H690.78M676.78 218.44H690.78M697.64 212.78V216.41M690.64 212.78H704.64M690.64 216.41H704.64M711.49 210.74V214.37M704.49 210.74H718.49M704.49 214.37H718.49M725.35 209.07V212.69M718.35 209.07H732.35M718.35 212.69H732.35M739.21 207.12V210.74M732.21 207.12H746.21M732.21 210.74H746.21M753.06 205.08V208.7M746.06 205.08H760.06M746.06 208.7H760.06M766.92 203.13V206.75M759.92 203.13H773.92M759.92 206.75H773.92M780.77 200.5V204.13M773.77 200.5H787.77M773.77 204.13H787.77M794.63 198.96V202.59M787.63 198.96H801.63M787.63 202.59H801.63M808.48 196.7V200.32M801.48 196.7H815.48M801.48 200.32H815.48M822.34 194.11V197.74M815.34 194.11H829.34M815.34 197.74H829.34M836.2 188.45V192.07M829.2 188.45H843.2M829.2 192.07H843.2M850.05 161.76V181.24M843.05 161.76H857.05M843.05 181.24H857.05M863.91 157.5V158.41M856.91 157.5H870.91M856.91 158.41H870.91M877.76 153.74V154.65M870.76 153.74H884.76M870.76 154.65H884.76M891.62 152.43V153.33M884.62 152.43H898.62M884.62 153.33H898.62M905.47 151.84V152.74M898.47 151.84H912.47M898.47 152.74H912.47M919.33 151.2V152.11M912.33 151.2H926.33M912.33 152.11H926.33M933.19 150.87V151.78M926.19 150.87H940.19M926.19 151.78H940.19M947.04 150.54V151.45M940.04 150.54H954.04M940.04 151.45H954.04M960.9 150.21V151.12M953.9 150.21H967.9M953.9 151.12H967.9M974.75 149.88V150.79M967.75 149.88H981.75M967.75 150.79H981.75M988.61 149.55V150.46M981.61 149.55H995.61M981.61 150.46H995.61M1002.46 149.22V150.13M995.46 149.22H1009.46M995.46 150.13H1009.46M1016.32 148.89V149.8M1009.32 148.89H1023.32M1009.32 149.8H1023.32M1030.18 148.56V149.46M1023.18 148.56H1037.18M1023.18 149.46H1037.18M1044.03 148.23V149.13M1037.03 148.23H1051.03M1037.03 149.13H1051.03M1057.89 147.9V148.8M1050.89 147.9H1064.89M1050.89 148.8H1064.89M1071.74 147.6V148.5M1064.74 147.6H1078.74M1064.74 148.5H1078.74M1085.6 147.3V148.2M1078.6 147.3H1092.6M1078.6 148.2H1092.6M1099.45 146.99V147.9M1092.45 146.99H1106.45M1092.45 147.9H1106.45M1113.31 146.69V147.6M1106.31 146.69H1120.31M1106.31 147.6H1120.31M1127.17 146.39V147.3M1120.17 146.39H1134.17M1120.17 147.3H1134.17M1141.02 146.09V147M1134.02 146.09H1148.02M1134.02 147H1148.02M1154.88 145.79V146.7M1147.88 145.79H1161.88M1147.88 146.7H1161.88M1168.73 145.49V146.4M1161.73 145.49H1175.73M1161.73 146.4H1175.73M1182.59 145.19V146.1M1175.59 145.19H1189.59M1175.59 146.1H1189.59M1196.44 144.89V145.8M1189.44 144.89H1203.44M1189.44 145.8H1203.44M1210.3 144.59V145.5M1203.3 144.59H1217.3M1203.3 145.5H1217.3" stroke="#0000ff" stroke-width="1" stroke-opacity="0.38" fill="none"/>
<path d="M247.26 457.93h14v14h-14ZM261.11 454.99h14v14h-14ZM274.97 452.72h14v14h-14ZM288.82 450.68h14v14h-14ZM302.68 447.96h14v14h-14ZM316.53 445.7h14v14h-14ZM330.39 442.53h14v14h-14ZM344.25 439.35h14v14h-14ZM358.1 435.28h14v14h-14ZM371.96 430.74h14v14h-14ZM385.81 423.95h14v14h-14ZM399.67 419.6h14v14h-14ZM413.52 410.08h14v14h-14ZM427.38 399.98h14v14h-14ZM441.24 387.93h14v14h-14ZM455.09 369.58h14v14h-14ZM468.95 350.82h14v14h-14ZM482.8 327.44h14v14h-14ZM496.66 307.32h14v14h-14ZM510.51 292.37h14v14h-14ZM524.37 273.11h14v14h-14ZM538.23 262.37h14v14h-14ZM552.08 253.49h14v14h-14ZM565.94 246.56h14v14h-14ZM579.79 241.48h14v14h-14ZM593.65 234.55h14v14h-14ZM607.5 230.75h14v14h-14ZM621.36 226.94h14v14h-14ZM635.22 222.5h14v14h-14ZM649.07 217.79h14v14h-14ZM662.93 213.71h14v14h-14ZM676.78 209.63h14v14h-14ZM690.64 207.59h14v14h-14ZM704.49 205.55h14v14h-14ZM718.35 203.88h14v14h-14ZM732.21 201.93h14v14h-14ZM746.06 199.89h14v14h-14ZM759.92 197.94h14v14h-14ZM773.77 195.31h14v14h-14ZM787.63 193.77h14v14h-14ZM801.48 191.51h14v14h-14ZM815.34 188.93h14v14h-14ZM829.2 183.26h14v14h-14ZM843.05 164.5h14v14h-14ZM856.91 150.96h14v14h-14ZM870.76 147.19h14v14h-14ZM884.62 145.88h14v14h-14ZM898.47 145.29h14v14h-14ZM912.33 144.66h14v14h-14ZM926.19 144.33h14v14h-14ZM940.04 144h14v14h-14ZM953.9 143.67h14v14h-14ZM967.75 143.33h14v14h-14ZM981.61 143h14v14h-14ZM995.46 142.67h14v14h-14ZM1009.32 142.34h14v14h-14ZM1023.18 142.01h14v14h-14ZM1037.03 141.68h14v14h-14ZM1050.89 141.35h14v14h-14ZM1064.74 141.05h14v14h-14ZM1078.6 140.75h14v14h-14ZM1092.45 140.45h14v14h-14ZM1106.31 140.15h14v14h-14ZM1120.17 139.85h14v14h-14ZM1134.02 139.55h14v14h-14ZM1147.88 139.24h14v14h-14ZM1161.73 138.94h14v14h-14ZM1175.59 138.64h14v14h-14ZM1189.44 138.34h14v14h-14ZM1203.3 138.04h14v14h-14Z" fill="#0000ff"/>
<path d="M254.26 456.82L262.51 470.19L246.01 470.19ZM268.11 455.69L276.36 469.06L259.86 469.06ZM281.97 453.56L290.22 466.93L273.72 466.93ZM295.82 450.25L304.07 463.62L287.57 463.62ZM309.68 448.21L317.93 461.58L301.43 461.58ZM323.53 447.08L331.78 460.45L315.28 460.45ZM337.39 444.05L345.64 457.41L329.14 457.41ZM351.25 440.51L359.5 453.88L343 453.88ZM365.1 437.75L373.35 451.11L356.85 451.11ZM378.96 436.48L387.21 449.84L370.71 449.84ZM392.81 431.22L401.06 444.59L384.56 444.59ZM406.67 427.73L414.92 441.1L398.42 441.1ZM420.52 423.29L428.77 436.66L412.27 436.66ZM434.38 413.14L442.63 426.51L426.13 426.51ZM448.24 405.85L456.49 419.21L439.99 419.21ZM462.09 396.06L470.34 409.43L453.84 409.43ZM475.95 376.44L484.2 389.81L467.7 389.81ZM489.8 365.07L498.05 378.44L481.55 378.44ZM503.66 341.96L511.91 355.33L495.41 355.33ZM517.51 323.07L525.76 336.43L509.26 336.43ZM531.37 301.55L539.62 314.91L523.12 314.91ZM545.23 285.05L553.48 298.42L536.98 298.42ZM559.08 272.41L567.33 285.78L550.83 285.78ZM572.94 262.26L581.19 275.63L564.69 275.63ZM586.79 254.97L595.04 268.33L578.54 268.33ZM600.65 246.45L608.9 259.81L592.4 259.81ZM614.5 240.79L622.75 254.15L606.25 254.15ZM628.36 236.07L636.61 249.44L620.11 249.44ZM642.22 231.86L650.47 245.22L633.97 245.22ZM656.07 227.24L664.32 240.6L647.82 240.6ZM669.93 222.53L678.18 235.89L661.68 235.89ZM683.78 219.99L692.03 233.35L675.53 233.35ZM697.64 215.82L705.89 229.18L689.39 229.18ZM711.49 213.28L719.74 226.65L703.24 226.65ZM725.35 210.38L733.6 223.75L717.1 223.75ZM739.21 207.57L747.46 220.94L730.96 220.94ZM753.06 206.03L761.31 219.4L744.81 219.4ZM766.92 203.31L775.17 216.68L758.67 216.68ZM780.77 201.41L789.02 214.78L772.52 214.78ZM794.63 198.96L802.88 212.33L786.38 212.33ZM808.48 197.11L816.73 210.47L800.23 210.47ZM822.34 195.84L830.59 209.2L814.09 209.2ZM836.2 193.26L844.45 206.62L827.95 206.62ZM850.05 191.08L858.3 204.45L841.8 204.45ZM863.91 183.2L872.16 196.56L855.66 196.56ZM877.76 167.97L886.01 181.34L869.51 181.34ZM891.62 154.06L899.87 167.43L883.37 167.43ZM905.47 149.4L913.72 162.76L897.22 162.76ZM919.33 147.81L927.58 161.17L911.08 161.17ZM933.19 147.13L941.44 160.49L924.94 160.49ZM947.04 146.45L955.29 159.81L938.79 159.81ZM960.9 146.09L969.15 159.45L952.65 159.45ZM974.75 145.54L983 158.91L966.5 158.91ZM988.61 145.18L996.86 158.55L980.36 158.55ZM1002.46 144.86L1010.71 158.23L994.21 158.23ZM1016.32 143.96L1024.57 157.32L1008.07 157.32ZM1030.18 143.6L1038.43 156.96L1021.93 156.96ZM1044.03 143.05L1052.28 156.42L1035.78 156.42ZM1057.89 142.69L1066.14 156.05L1049.64 156.05ZM1071.74 142.37L1079.99 155.74L1063.49 155.74ZM1085.6 142.05L1093.85 155.42L1077.35 155.42ZM1099.45 141.74L1107.7 155.1L1091.2 155.1ZM1113.31 141.42L1121.56 154.79L1105.06 154.79ZM1127.17 141.1L1135.42 154.47L1118.92 154.47ZM1141.02 140.79L1149.27 154.15L1132.77 154.15ZM1154.88 140.47L1163.13 153.83L1146.63 153.83ZM1168.73 140.15L1176.98 153.52L1160.48 153.52ZM1182.59 139.83L1190.84 153.2L1174.34 153.2ZM1196.44 139.52L1204.69 152.88L1188.19 152.88ZM1210.3 139.2L1218.55 152.57L1202.05 152.57Z" fill="#000"/>
<path d="M254.26 464.7V467.43M247.26 464.7H261.26M247.26 467.43H261.26M268.11 463.56V466.3M261.11 463.56H275.11M261.11 466.3H275.11M281.97 461.43V464.17M274.97 461.43H288.97M274.97 464.17H288.97M295.82 458.11V460.88M288.82 458.11H302.82M288.82 460.88H302.82M309.68 456.06V458.85M302.68 456.06H316.68M302.68 458.85H316.68M323.53 454.92V457.72M316.53 454.92H330.53M316.53 457.72H330.53M337.39 451.87V454.71M330.39 451.87H344.39M330.39 454.71H344.39M351.25 448.3V451.21M344.25 448.3H358.25M344.25 451.21H358.25M365.1 445.5V448.48M358.1 445.5H372.1M358.1 448.48H372.1M378.96 444.21V447.23M371.96 444.21H385.96M371.96 447.23H385.96M392.81 438.84V442.09M385.81 438.84H399.81M385.81 442.09H399.81M406.67 435.25V438.7M399.67 435.25H413.67M399.67 438.7H413.67M420.52 430.65V434.42M413.52 430.65H427.52M413.52 434.42H427.52M434.38 419.98V424.79M427.38 419.98H441.38M427.38 424.79H441.38M448.24 412.22V417.96M441.24 412.22H455.24M441.24 417.96H455.24M462.09 401.77V408.83M455.09 401.77H469.09M455.09 408.83H469.09M475.95 381.08V390.29M468.95 381.08H482.95M468.95 390.29H482.95M489.8 369.35V379.27M482.8 369.35H496.8M482.8 379.27H496.8M503.66 346.01V356.4M496.66 346.01H510.66M496.66 356.4H510.66M517.51 327.1V337.52M510.51 327.1H524.51M510.51 337.52H524.51M531.37 305.59V315.99M524.37 305.59H538.37M524.37 315.99H538.37M545.23 289.2V299.39M538.23 289.2H552.23M538.23 299.39H552.23M559.08 276.82V286.49M552.08 276.82H566.08M552.08 286.49H566.08M572.94 267.05V275.96M565.94 267.05H579.94M565.94 275.96H579.94M586.79 260.13V268.28M579.79 260.13H593.79M579.79 268.28H593.79M600.65 252.14V259.24M593.65 252.14H607.65M593.65 259.24H607.65M614.5 246.86V253.19M607.5 246.86H621.5M607.5 253.19H621.5M628.36 242.47V248.16M621.36 242.47H635.36M621.36 248.16H635.36M642.22 238.53V243.67M635.22 238.53H649.22M635.22 243.67H649.22M656.07 234.67V238.29M649.07 234.67H663.07M649.07 238.29H663.07M669.93 229.95V233.58M662.93 229.95H676.93M662.93 233.58H676.93M683.78 227.42V231.04M676.78 227.42H690.78M676.78 231.04H690.78M697.64 223.25V226.87M690.64 223.25H704.64M690.64 226.87H704.64M711.49 220.71V224.33M704.49 220.71H718.49M704.49 224.33H718.49M725.35 217.81V221.43M718.35 217.81H732.35M718.35 221.43H732.35M739.21 215V218.63M732.21 215H746.21M732.21 218.63H746.21M753.06 213.46V217.09M746.06 213.46H760.06M746.06 217.09H760.06M766.92 210.74V214.37M759.92 210.74H773.92M759.92 214.37H773.92M780.77 208.84V212.46M773.77 208.84H787.77M773.77 212.46H787.77M794.63 206.39V210.02M787.63 206.39H801.63M787.63 210.02H801.63M808.48 204.53V208.16M801.48 204.53H815.48M801.48 208.16H815.48M822.34 203.27V206.89M815.34 203.27H829.34M815.34 206.89H829.34M836.2 200.68V204.31M829.2 200.68H843.2M829.2 204.31H843.2M850.05 198.51V202.13M843.05 198.51H857.05M843.05 202.13H857.05M863.91 186.55V198.33M856.91 186.55H870.91M856.91 198.33H870.91M877.76 164.98V189.45M870.76 164.98H884.76M870.76 189.45H884.76M891.62 162.4V164.21M884.62 162.4H898.62M884.62 164.21H898.62M905.47 157.73V159.54M898.47 157.73H912.47M898.47 159.54H912.47M919.33 156.14V157.96M912.33 156.14H926.33M912.33 157.96H926.33M933.19 155.46V157.28M926.19 155.46H940.19M926.19 157.28H940.19M947.04 154.78V156.6M940.04 154.78H954.04M940.04 156.6H954.04M960.9 154.42V156.23M953.9 154.42H967.9M953.9 156.23H967.9M974.75 153.88V155.69M967.75 153.88H981.75M967.75 155.69H981.75M988.61 153.52V155.33M981.61 153.52H995.61M981.61 155.33H995.61M1002.46 153.2V155.01M995.46 153.2H1009.46M995.46 155.01H1009.46M1016.32 152.29V154.1M1009.32 152.29H1023.32M1009.32 154.1H1023.32M1030.18 151.93V153.74M1023.18 151.93H1037.18M1023.18 153.74H1037.18M1044.03 151.39V153.2M1037.03 151.39H1051.03M1037.03 153.2H1051.03M1057.89 151.02V152.84M1050.89 151.02H1064.89M1050.89 152.84H1064.89M1071.74 150.71V152.52M1064.74 150.71H1078.74M1064.74 152.52H1078.74M1085.6 150.39V152.2M1078.6 150.39H1092.6M1078.6 152.2H1092.6M1099.45 150.07V151.88M1092.45 150.07H1106.45M1092.45 151.88H1106.45M1113.31 149.75V151.57M1106.31 149.75H1120.31M1106.31 151.57H1120.31M1127.17 149.44V151.25M1120.17 149.44H1134.17M1120.17 151.25H1134.17M1141.02 149.12V150.93M1134.02 149.12H1148.02M1134.02 150.93H1148.02M1154.88 148.8V150.62M1147.88 148.8H1161.88M1147.88 150.62H1161.88M1168.73 148.49V150.3M1161.73 148.49H1175.73M1161.73 150.3H1175.73M1182.59 148.17V149.98M1175.59 148.17H1189.59M1175.59 149.98H1189.59M1196.44 147.85V149.66M1189.44 147.85H1203.44M1189.44 149.66H1203.44M1210.3 147.53V149.35M1203.3 147.53H1217.3M1203.3 149.35H1217.3" stroke="#c080ff" stroke-width="3" fill="none"/>
<path d="M254.26 458.22L261.26 469.56L247.26 469.56ZM268.11 457.09L275.11 468.43L261.11 468.43ZM281.97 454.96L288.97 466.3L274.97 466.3ZM295.82 451.65L302.82 462.99L288.82 462.99ZM309.68 449.61L316.68 460.95L302.68 460.95ZM323.53 448.48L330.53 459.82L316.53 459.82ZM337.39 445.45L344.39 456.79L330.39 456.79ZM351.25 441.91L358.25 453.25L344.25 453.25ZM365.1 439.15L372.1 450.49L358.1 450.49ZM378.96 437.88L385.96 449.22L371.96 449.22ZM392.81 432.62L399.81 443.96L385.81 443.96ZM406.67 429.13L413.67 440.47L399.67 440.47ZM420.52 424.69L427.52 436.03L413.52 436.03ZM434.38 414.54L441.38 425.88L427.38 425.88ZM448.24 407.25L455.24 418.59L441.24 418.59ZM462.09 397.46L469.09 408.8L455.09 408.8ZM475.95 377.84L482.95 389.18L468.95 389.18ZM489.8 366.47L496.8 377.81L482.8 377.81ZM503.66 343.36L510.66 354.7L496.66 354.7ZM517.51 324.47L524.51 335.81L510.51 335.81ZM531.37 302.95L538.37 314.29L524.37 314.29ZM545.23 286.45L552.23 297.79L538.23 297.79ZM559.08 273.81L566.08 285.15L552.08 285.15ZM572.94 263.66L579.94 275L565.94 275ZM586.79 256.37L593.79 267.71L579.79 267.71ZM600.65 247.85L607.65 259.19L593.65 259.19ZM614.5 242.19L621.5 253.53L607.5 253.53ZM628.36 237.47L635.36 248.81L621.36 248.81ZM642.22 233.26L649.22 244.6L635.22 244.6ZM656.07 228.64L663.07 239.98L649.07 239.98ZM669.93 223.93L676.93 235.27L662.93 235.27ZM683.78 221.39L690.78 232.73L676.78 232.73ZM697.64 217.22L704.64 228.56L690.64 228.56ZM711.49 214.68L718.49 226.02L704.49 226.02ZM725.35 211.78L732.35 223.12L718.35 223.12ZM739.21 208.97L746.21 220.31L732.21 220.31ZM753.06 207.43L760.06 218.77L746.06 218.77ZM766.92 204.71L773.92 216.05L759.92 216.05ZM780.77 202.81L787.77 214.15L773.77 214.15ZM794.63 200.36L801.63 211.7L787.63 211.7ZM808.48 198.51L815.48 209.85L801.48 209.85ZM822.34 197.24L829.34 208.58L815.34 208.58ZM836.2 194.66L843.2 206L829.2 206ZM850.05 192.48L857.05 203.82L843.05 203.82ZM863.91 184.6L870.91 195.94L856.91 195.94ZM877.76 169.37L884.76 180.71L870.76 180.71ZM891.62 155.46L898.62 166.8L884.62 166.8ZM905.47 150.8L912.47 162.14L898.47 162.14ZM919.33 149.21L926.33 160.55L912.33 160.55ZM933.19 148.53L940.19 159.87L926.19 159.87ZM947.04 147.85L954.04 159.19L940.04 159.19ZM960.9 147.49L967.9 158.83L953.9 158.83ZM974.75 146.94L981.75 158.28L967.75 158.28ZM988.61 146.58L995.61 157.92L981.61 157.92ZM1002.46 146.26L1009.46 157.6L995.46 157.6ZM1016.32 145.36L1023.32 156.7L1009.32 156.7ZM1030.18 145L1037.18 156.34L1023.18 156.34ZM1044.03 144.45L1051.03 155.79L1037.03 155.79ZM1057.89 144.09L1064.89 155.43L1050.89 155.43ZM1071.74 143.77L1078.74 155.11L1064.74 155.11ZM1085.6 143.45L1092.6 154.79L1078.6 154.79ZM1099.45 143.14L1106.45 154.48L1092.45 154.48ZM1113.31 142.82L1120.31 154.16L1106.31 154.16ZM1127.17 142.5L1134.17 153.84L1120.17 153.84ZM1141.02 142.19L1148.02 153.53L1134.02 153.53ZM1154.88 141.87L1161.88 153.21L1147.88 153.21ZM1168.73 141.55L1175.73 152.89L1161.73 152.89ZM1182.59 141.23L1189.59 152.57L1175.59 152.57ZM1196.44 140.92L1203.44 152.26L1189.44 152.26ZM1210.3 140.6L1217.3 151.94L1203.3 151.94Z" fill="#c080ff"/>
<path d="M254.26 477.07L262.51 463.71L246.01 463.71ZM268.11 474.62L276.36 461.26L259.86 461.26ZM281.97 472.9L290.22 459.54L273.72 459.54ZM295.82 470.82L304.07 457.45L287.57 457.45ZM309.68 470.55L317.93 457.18L301.43 457.18ZM323.53 466.47L331.78 453.1L315.28 453.1ZM337.39 464.79L345.64 451.43L329.14 451.43ZM351.25 461.26L359.5 447.89L343 447.89ZM365.1 457.86L373.35 444.49L356.85 444.49ZM378.96 454.91L387.21 441.55L370.71 441.55ZM392.81 450.61L401.06 437.24L384.56 437.24ZM406.67 449.34L414.92 435.98L398.42 435.98ZM420.52 445.63L428.77 432.26L412.27 432.26ZM434.38 440.51L442.63 427.14L426.13 427.14ZM448.24 432.94L456.49 419.57L439.99 419.57ZM462.09 426.6L470.34 413.23L453.84 413.23ZM475.95 417.35L484.2 403.99L467.7 403.99ZM489.8 410.37L498.05 397.01L481.55 397.01ZM503.66 388.58L511.91 375.22L495.41 375.22ZM517.51 372.13L525.76 358.77L509.26 358.77ZM531.37 359.08L539.62 345.72L523.12 345.72ZM545.23 335.52L553.48 322.16L536.98 322.16ZM559.08 318.08L567.33 304.71L550.83 304.71ZM572.94 300.36L581.19 287L564.69 287ZM586.79 289.35L595.04 275.99L578.54 275.99ZM600.65 280.11L608.9 266.74L592.4 266.74ZM614.5 269.1L622.75 255.73L606.25 255.73ZM628.36 263.03L636.61 249.66L620.11 249.66ZM642.22 255.46L650.47 242.09L633.97 242.09ZM656.07 250.34L664.32 236.97L647.82 236.97ZM669.93 245.81L678.18 232.44L661.68 232.44ZM683.78 242.18L692.03 228.82L675.53 228.82ZM697.64 238.74L705.89 225.37L689.39 225.37ZM711.49 236.29L719.74 222.93L703.24 222.93ZM725.35 233.67L733.6 220.3L717.1 220.3ZM739.21 230.86L747.46 217.49L730.96 217.49ZM753.06 227.96L761.31 214.59L744.81 214.59ZM766.92 225.42L775.17 212.05L758.67 212.05ZM780.77 222.7L789.02 209.34L772.52 209.34ZM794.63 220.43L802.88 207.07L786.38 207.07ZM808.48 218.62L816.73 205.26L800.23 205.26ZM822.34 216.81L830.59 203.44L814.09 203.44ZM836.2 215L844.45 201.63L827.95 201.63ZM850.05 213.05L858.3 199.68L841.8 199.68ZM863.91 211.15L872.16 197.78L855.66 197.78ZM877.76 209.24L886.01 195.88L869.51 195.88ZM891.62 202.31L899.87 188.95L883.37 188.95ZM905.47 189.17L913.72 175.81L897.22 175.81ZM919.33 176.48L927.58 163.12L911.08 163.12ZM933.19 167.88L941.44 154.51L924.94 154.51ZM947.04 166.06L955.29 152.7L938.79 152.7ZM960.9 164.93L969.15 151.56L952.65 151.56ZM974.75 164.25L983 150.89L966.5 150.89ZM988.61 163.8L996.86 150.43L980.36 150.43ZM1002.46 163.34L1010.71 149.98L994.21 149.98ZM1016.32 162.89L1024.57 149.53L1008.07 149.53ZM1030.18 162.44L1038.43 149.07L1021.93 149.07ZM1044.03 161.98L1052.28 148.62L1035.78 148.62ZM1057.89 161.53L1066.14 148.17L1049.64 148.17ZM1071.74 161.18L1079.99 147.82L1063.49 147.82ZM1085.6 160.83L1093.85 147.47L1077.35 147.47ZM1099.45 160.48L1107.7 147.12L1091.2 147.12ZM1113.31 160.13L1121.56 146.77L1105.06 146.77ZM1127.17 159.78L1135.42 146.42L1118.92 146.42ZM1141.02 159.43L1149.27 146.07L1132.77 146.07ZM1154.88 159.08L1163.13 145.72L1146.63 145.72ZM1168.73 158.73L1176.98 145.37L1160.48 145.37ZM1182.59 158.38L1190.84 145.02L1174.34 145.02ZM1196.44 158.03L1204.69 144.67L1188.19 144.67ZM1210.3 157.68L1218.55 144.32L1202.05 144.32Z" fill="#000"/>
<path d="M254.26 466.47V469.2M247.26 466.47H261.26M247.26 469.2H261.26M268.11 464.02V466.75M261.11 464.02H275.11M261.11 466.75H275.11M281.97 462.29V465.03M274.97 462.29H288.97M274.97 465.03H288.97M295.82 460.2V462.95M288.82 460.2H302.82M288.82 462.95H302.82M309.68 459.93V462.68M302.68 459.93H316.68M302.68 462.68H316.68M323.53 455.83V458.62M316.53 455.83H330.53M316.53 458.62H330.53M337.39 454.15V456.95M330.39 454.15H344.39M330.39 456.95H344.39M351.25 450.59V453.45M344.25 450.59H358.25M344.25 453.45H358.25M365.1 447.15V450.09M358.1 447.15H372.1M358.1 450.09H372.1M378.96 444.16V447.19M371.96 444.16H385.96M371.96 447.19H385.96M392.81 439.77V442.97M385.81 439.77H399.81M385.81 442.97H399.81M406.67 438.47V441.73M399.67 438.47H413.67M399.67 441.73H413.67M420.52 434.64V438.13M413.52 434.64H427.52M413.52 438.13H427.52M434.38 429.32V433.21M427.38 429.32H441.38M427.38 433.21H441.38M448.24 421.37V426.03M441.24 421.37H455.24M441.24 426.03H455.24M462.09 414.64V420.07M455.09 414.64H469.09M455.09 420.07H469.09M475.95 404.77V411.45M468.95 404.77H482.95M468.95 411.45H482.95M489.8 397.34V404.93M482.8 397.34H496.8M482.8 404.93H496.8M503.66 374.51V384.17M496.66 374.51H510.66M496.66 384.17H510.66M517.51 357.76V368.03M510.51 357.76H524.51M510.51 368.03H524.51M531.37 344.64V355.04M524.37 344.64H538.37M524.37 355.04H538.37M545.23 321.07V331.49M538.23 321.07H552.23M538.23 331.49H552.23M559.08 303.64V314.03M552.08 303.64H566.08M552.08 314.03H566.08M572.94 286.07V296.17M565.94 286.07H579.94M565.94 296.17H579.94M586.79 275.32V284.9M579.79 275.32H593.79M579.79 284.9H593.79M600.65 266.44V275.29M593.65 266.44H607.65M593.65 275.29H607.65M614.5 256.04V263.67M607.5 256.04H621.5M607.5 263.67H621.5M628.36 250.37V257.2M621.36 250.37H635.36M621.36 257.2H635.36M642.22 243.31V249.13M635.22 243.31H649.22M635.22 249.13H649.22M656.07 238.53V243.67M649.07 238.53H663.07M649.07 243.67H663.07M669.93 234.76V238.38M662.93 234.76H676.93M662.93 238.38H676.93M683.78 231.13V234.76M676.78 231.13H690.78M676.78 234.76H690.78M697.64 227.69V231.31M690.64 227.69H704.64M690.64 231.31H704.64M711.49 225.24V228.87M704.49 225.24H718.49M704.49 228.87H718.49M725.35 222.61V226.24M718.35 222.61H732.35M718.35 226.24H732.35M739.21 219.8V223.43M732.21 219.8H746.21M732.21 223.43H746.21M753.06 216.9V220.53M746.06 216.9H760.06M746.06 220.53H760.06M766.92 214.37V217.99M759.92 214.37H773.92M759.92 217.99H773.92M780.77 211.65V215.27M773.77 211.65H787.77M773.77 215.27H787.77M794.63 209.38V213.01M787.63 209.38H801.63M787.63 213.01H801.63M808.48 207.57V211.19M801.48 207.57H815.48M801.48 211.19H815.48M822.34 205.76V209.38M815.34 205.76H829.34M815.34 209.38H829.34M836.2 203.95V207.57M829.2 203.95H843.2M829.2 207.57H843.2M850.05 202V205.62M843.05 202H857.05M843.05 205.62H857.05M863.91 200.09V203.72M856.91 200.09H870.91M856.91 203.72H870.91M877.76 198.19V201.82M870.76 198.19H884.76M870.76 201.82H884.76M891.62 186.41V199.73M884.62 186.41H898.62M884.62 199.73H898.62M905.47 166.34V193.52M898.47 166.34H912.47M898.47 193.52H912.47M919.33 158.18V176.31M912.33 158.18H926.33M912.33 176.31H926.33M933.19 157.73V159.54M926.19 157.73H940.19M926.19 159.54H940.19M947.04 155.92V157.73M940.04 155.92H954.04M940.04 157.73H954.04M960.9 154.78V156.6M953.9 154.78H967.9M953.9 156.6H967.9M974.75 154.1V155.92M967.75 154.1H981.75M967.75 155.92H981.75M988.61 153.65V155.46M981.61 153.65H995.61M981.61 155.46H995.61M1002.46 153.2V155.01M995.46 153.2H1009.46M995.46 155.01H1009.46M1016.32 152.74V154.56M1009.32 152.74H1023.32M1009.32 154.56H1023.32M1030.18 152.29V154.1M1023.18 152.29H1037.18M1023.18 154.1H1037.18M1044.03 151.84V153.65M1037.03 151.84H1051.03M1037.03 153.65H1051.03M1057.89 151.39V153.2M1050.89 151.39H1064.89M1050.89 153.2H1064.89M1071.74 151.04V152.85M1064.74 151.04H1078.74M1064.74 152.85H1078.74M1085.6 150.69V152.5M1078.6 150.69H1092.6M1078.6 152.5H1092.6M1099.45 150.34V152.15M1092.45 150.34H1106.45M1092.45 152.15H1106.45M1113.31 149.99V151.8M1106.31 149.99H1120.31M1106.31 151.8H1120.31M1127.17 149.63V151.45M1120.17 149.63H1134.17M1120.17 151.45H1134.17M1141.02 149.28V151.1M1134.02 149.28H1148.02M1134.02 151.1H1148.02M1154.88 148.93V150.75M1147.88 148.93H1161.88M1147.88 150.75H1161.88M1168.73 148.58V150.4M1161.73 148.58H1175.73M1161.73 150.4H1175.73M1182.59 148.23V150.05M1175.59 148.23H1189.59M1175.59 150.05H1189.59M1196.44 147.88V149.7M1189.44 147.88H1203.44M1189.44 149.7H1203.44M1210.3 147.53V149.35M1203.3 147.53H1217.3M1203.3 149.35H1217.3" stroke="#40e0d0" stroke-width="3" fill="none"/>
<path d="M254.26 475.67L261.26 464.33L247.26 464.33ZM268.11 473.22L275.11 461.88L261.11 461.88ZM281.97 471.5L288.97 460.16L274.97 460.16ZM295.82 469.42L302.82 458.08L288.82 458.08ZM309.68 469.15L316.68 457.81L302.68 457.81ZM323.53 465.07L330.53 453.73L316.53 453.73ZM337.39 463.39L344.39 452.05L330.39 452.05ZM351.25 459.86L358.25 448.52L344.25 448.52ZM365.1 456.46L372.1 445.12L358.1 445.12ZM378.96 453.51L385.96 442.17L371.96 442.17ZM392.81 449.21L399.81 437.87L385.81 437.87ZM406.67 447.94L413.67 436.6L399.67 436.6ZM420.52 444.23L427.52 432.89L413.52 432.89ZM434.38 439.11L441.38 427.77L427.38 427.77ZM448.24 431.54L455.24 420.2L441.24 420.2ZM462.09 425.2L469.09 413.86L455.09 413.86ZM475.95 415.95L482.95 404.61L468.95 404.61ZM489.8 408.97L496.8 397.63L482.8 397.63ZM503.66 387.18L510.66 375.84L496.66 375.84ZM517.51 370.73L524.51 359.39L510.51 359.39ZM531.37 357.68L538.37 346.34L524.37 346.34ZM545.23 334.12L552.23 322.78L538.23 322.78ZM559.08 316.68L566.08 305.34L552.08 305.34ZM572.94 298.96L579.94 287.62L565.94 287.62ZM586.79 287.95L593.79 276.61L579.79 276.61ZM600.65 278.71L607.65 267.37L593.65 267.37ZM614.5 267.7L621.5 256.36L607.5 256.36ZM628.36 261.63L635.36 250.29L621.36 250.29ZM642.22 254.06L649.22 242.72L635.22 242.72ZM656.07 248.94L663.07 237.6L649.07 237.6ZM669.93 244.41L676.93 233.07L662.93 233.07ZM683.78 240.78L690.78 229.44L676.78 229.44ZM697.64 237.34L704.64 226L690.64 226ZM711.49 234.89L718.49 223.55L704.49 223.55ZM725.35 232.27L732.35 220.93L718.35 220.93ZM739.21 229.46L746.21 218.12L732.21 218.12ZM753.06 226.56L760.06 215.22L746.06 215.22ZM766.92 224.02L773.92 212.68L759.92 212.68ZM780.77 221.3L787.77 209.96L773.77 209.96ZM794.63 219.03L801.63 207.69L787.63 207.69ZM808.48 217.22L815.48 205.88L801.48 205.88ZM822.34 215.41L829.34 204.07L815.34 204.07ZM836.2 213.6L843.2 202.26L829.2 202.26ZM850.05 211.65L857.05 200.31L843.05 200.31ZM863.91 209.75L870.91 198.41L856.91 198.41ZM877.76 207.84L884.76 196.5L870.76 196.5ZM891.62 200.91L898.62 189.57L884.62 189.57ZM905.47 187.77L912.47 176.43L898.47 176.43ZM919.33 175.08L926.33 163.74L912.33 163.74ZM933.19 166.48L940.19 155.14L926.19 155.14ZM947.04 164.66L954.04 153.32L940.04 153.32ZM960.9 163.53L967.9 152.19L953.9 152.19ZM974.75 162.85L981.75 151.51L967.75 151.51ZM988.61 162.4L995.61 151.06L981.61 151.06ZM1002.46 161.94L1009.46 150.6L995.46 150.6ZM1016.32 161.49L1023.32 150.15L1009.32 150.15ZM1030.18 161.04L1037.18 149.7L1023.18 149.7ZM1044.03 160.58L1051.03 149.24L1037.03 149.24ZM1057.89 160.13L1064.89 148.79L1050.89 148.79ZM1071.74 159.78L1078.74 148.44L1064.74 148.44ZM1085.6 159.43L1092.6 148.09L1078.6 148.09ZM1099.45 159.08L1106.45 147.74L1092.45 147.74ZM1113.31 158.73L1120.31 147.39L1106.31 147.39ZM1127.17 158.38L1134.17 147.04L1120.17 147.04ZM1141.02 158.03L1148.02 146.69L1134.02 146.69ZM1154.88 157.68L1161.88 146.34L1147.88 146.34ZM1168.73 157.33L1175.73 145.99L1161.73 145.99ZM1182.59 156.98L1189.59 145.64L1175.59 145.64ZM1196.44 156.63L1203.44 145.29L1189.44 145.29ZM1210.3 156.28L1217.3 144.94L1203.3 144.94Z" fill="#40e0d0"/>
</g>
<g id="bottom">
<path d="M254.26 894.36L262.46 902.56L254.26 910.76L246.06 902.56ZM268.11 891.88L276.31 900.08L268.11 908.28L259.91 900.08ZM281.97 887.45L290.17 895.65L281.97 903.85L273.77 895.65ZM295.82 880.59L304.02 888.79L295.82 896.99L287.62 888.79ZM309.68 873.4L317.88 881.6L309.68 889.8L301.48 881.6ZM323.53 862.11L331.73 870.31L323.53 878.51L315.33 870.31ZM337.39 849.72L345.59 857.92L337.39 866.12L329.19 857.92ZM351.25 829.24L359.45 837.44L351.25 845.64L343.05 837.44ZM365.1 807.8L373.3 816L365.1 824.2L356.9 816ZM378.96 767.59L387.16 775.79L378.96 783.99L370.76 775.79ZM392.81 738.39L401.01 746.59L392.81 754.79L384.61 746.59ZM406.67 716.62L414.87 724.82L406.67 733.02L398.47 724.82ZM420.52 701.43L428.72 709.63L420.52 717.83L412.32 709.63ZM434.38 686.9L442.58 695.1L434.38 703.3L426.18 695.1ZM448.24 657.03L456.44 665.23L448.24 673.43L440.04 665.23ZM462.09 589.53L470.29 597.73L462.09 605.93L453.89 597.73ZM475.95 586L484.15 594.2L475.95 602.4L467.75 594.2ZM489.8 585L498 593.2L489.8 601.4L481.6 593.2ZM503.66 583.43L511.86 591.63L503.66 599.83L495.46 591.63ZM517.51 582.62L525.71 590.82L517.51 599.02L509.31 590.82ZM531.37 581.81L539.57 590.01L531.37 598.21L523.17 590.01ZM545.23 580.91L553.43 589.11L545.23 597.31L537.03 589.11ZM559.08 580.1L567.28 588.3L559.08 596.5L550.88 588.3ZM572.94 579.71L581.14 587.91L572.94 596.11L564.74 587.91ZM586.79 578.81L594.99 587.01L586.79 595.21L578.59 587.01ZM600.65 577.97L608.85 586.17L600.65 594.37L592.45 586.17ZM614.5 577.13L622.7 585.33L614.5 593.53L606.3 585.33ZM628.36 576.29L636.56 584.49L628.36 592.69L620.16 584.49ZM642.22 575.46L650.42 583.66L642.22 591.86L634.02 583.66ZM656.07 574.62L664.27 582.82L656.07 591.02L647.87 582.82ZM669.93 573.94L678.13 582.14L669.93 590.34L661.73 582.14ZM683.78 573.27L691.98 581.47L683.78 589.67L675.58 581.47ZM697.64 572.59L705.84 580.79L697.64 588.99L689.44 580.79ZM711.49 571.92L719.69 580.12L711.49 588.32L703.29 580.12ZM725.35 571.24L733.55 579.44L725.35 587.64L717.15 579.44ZM739.21 570.57L747.41 578.77L739.21 586.97L731.01 578.77ZM753.06 570.18L761.26 578.38L753.06 586.58L744.86 578.38ZM766.92 569.79L775.12 577.99L766.92 586.19L758.72 577.99ZM780.77 569.41L788.97 577.61L780.77 585.81L772.57 577.61ZM794.63 569.02L802.83 577.22L794.63 585.42L786.43 577.22ZM808.48 568.63L816.68 576.83L808.48 585.03L800.28 576.83ZM822.34 568.25L830.54 576.45L822.34 584.65L814.14 576.45ZM836.2 567.86L844.4 576.06L836.2 584.26L828 576.06ZM850.05 567.47L858.25 575.67L850.05 583.87L841.85 575.67ZM863.91 567.08L872.11 575.28L863.91 583.48L855.71 575.28ZM877.76 566.7L885.96 574.9L877.76 583.1L869.56 574.9ZM891.62 566.31L899.82 574.51L891.62 582.71L883.42 574.51ZM905.47 565.92L913.67 574.12L905.47 582.32L897.27 574.12ZM919.33 565.54L927.53 573.74L919.33 581.94L911.13 573.74ZM933.19 565.15L941.39 573.35L933.19 581.55L924.99 573.35ZM947.04 564.76L955.24 572.96L947.04 581.16L938.84 572.96ZM960.9 564.38L969.1 572.58L960.9 580.78L952.7 572.58ZM974.75 563.99L982.95 572.19L974.75 580.39L966.55 572.19ZM988.61 563.6L996.81 571.8L988.61 580L980.41 571.8ZM1002.46 563.21L1010.66 571.41L1002.46 579.61L994.26 571.41ZM1016.32 562.83L1024.52 571.03L1016.32 579.23L1008.12 571.03ZM1030.18 562.44L1038.38 570.64L1030.18 578.84L1021.98 570.64ZM1044.03 562.05L1052.23 570.25L1044.03 578.45L1035.83 570.25ZM1057.89 561.67L1066.09 569.87L1057.89 578.07L1049.69 569.87ZM1071.74 561.28L1079.94 569.48L1071.74 577.68L1063.54 569.48ZM1085.6 561.04L1093.8 569.24L1085.6 577.44L1077.4 569.24ZM1099.45 560.8L1107.65 569L1099.45 577.2L1091.25 569ZM1113.31 560.56L1121.51 568.76L1113.31 576.96L1105.11 568.76ZM1127.17 560.33L1135.37 568.53L1127.17 576.73L1118.97 568.53ZM1141.02 560.09L1149.22 568.29L1141.02 576.49L1132.82 568.29ZM1154.88 559.85L1163.08 568.05L1154.88 576.25L1146.68 568.05ZM1168.73 559.61L1176.93 567.81L1168.73 576.01L1160.53 567.81ZM1182.59 559.37L1190.79 567.57L1182.59 575.77L1174.39 567.57ZM1196.44 559.14L1204.64 567.34L1196.44 575.54L1188.24 567.34ZM1210.3 558.9L1218.5 567.1L1210.3 575.3L1202.1 567.1Z" fill="#000"/>
<path d="M254.26 901.06V904.05M247.26 901.06H261.26M247.26 904.05H261.26M268.11 898.56V901.6M261.11 898.56H275.11M261.11 901.6H275.11M281.97 894.07V897.23M274.97 894.07H288.97M274.97 897.23H288.97M295.82 887.07V890.51M288.82 887.07H302.82M288.82 890.51H302.82M309.68 879.63V883.56M302.68 879.63H316.68M302.68 883.56H316.68M323.53 867.78V872.83M316.53 867.78H330.53M316.53 872.83H330.53M337.39 854.58V861.26M330.39 854.58H344.39M330.39 861.26H344.39M351.25 832.85V842.03M344.25 832.85H358.25M344.25 842.03H358.25M365.1 810.71V821.29M358.1 810.71H372.1M358.1 821.29H372.1M378.96 767.7V783.89M371.96 767.7H385.96M371.96 783.89H385.96M392.81 741.15V752.04M385.81 741.15H399.81M385.81 752.04H399.81M406.67 719.67V729.97M399.67 719.67H413.67M399.67 729.97H413.67M420.52 705.04V714.21M413.52 705.04H427.52M413.52 714.21H427.52M434.38 691.37V698.83M427.38 691.37H441.38M427.38 698.83H441.38M448.24 638.55V691.91M441.24 638.55H455.24M441.24 691.91H455.24M462.09 597.35V598.11M455.09 597.35H469.09M455.09 598.11H469.09M475.95 593.82V594.58M468.95 593.82H482.95M468.95 594.58H482.95M489.8 592.82V593.58M482.8 592.82H496.8M482.8 593.58H496.8M503.66 591.25V592.01M496.66 591.25H510.66M496.66 592.01H510.66M517.51 590.44V591.2M510.51 590.44H524.51M510.51 591.2H524.51M531.37 589.63V590.39M524.37 589.63H538.37M524.37 590.39H538.37M545.23 588.72V589.49M538.23 588.72H552.23M538.23 589.49H552.23M559.08 587.91V588.68M552.08 587.91H566.08M552.08 588.68H566.08M572.94 587.53V588.3M565.94 587.53H579.94M565.94 588.3H579.94M586.79 586.63V587.39M579.79 586.63H593.79M579.79 587.39H593.79M600.65 585.79V586.55M593.65 585.79H607.65M593.65 586.55H607.65M614.5 584.95V585.71M607.5 584.95H621.5M607.5 585.71H621.5M628.36 584.11V584.87M621.36 584.11H635.36M621.36 584.87H635.36M642.22 583.27V584.04M635.22 583.27H649.22M635.22 584.04H649.22M656.07 582.44V583.2M649.07 582.44H663.07M649.07 583.2H663.07M669.93 581.76V582.52M662.93 581.76H676.93M662.93 582.52H676.93M683.78 581.09V581.85M676.78 581.09H690.78M676.78 581.85H690.78M697.64 580.41V581.17M690.64 580.41H704.64M690.64 581.17H704.64M711.49 579.74V580.5M704.49 579.74H718.49M704.49 580.5H718.49M725.35 579.06V579.82M718.35 579.06H732.35M718.35 579.82H732.35M739.21 578.39V579.15M732.21 578.39H746.21M732.21 579.15H746.21M753.06 578V578.76M746.06 578H760.06M746.06 578.76H760.06M766.92 577.61V578.37M759.92 577.61H773.92M759.92 578.37H773.92M780.77 577.23V577.99M773.77 577.23H787.77M773.77 577.99H787.77M794.63 576.84V577.6M787.63 576.84H801.63M787.63 577.6H801.63M808.48 576.45V577.21M801.48 576.45H815.48M801.48 577.21H815.48M822.34 576.06V576.83M815.34 576.06H829.34M815.34 576.83H829.34M836.2 575.68V576.44M829.2 575.68H843.2M829.2 576.44H843.2M850.05 575.29V576.05M843.05 575.29H857.05M843.05 576.05H857.05M863.91 574.9V575.67M856.91 574.9H870.91M856.91 575.67H870.91M877.76 574.52V575.28M870.76 574.52H884.76M870.76 575.28H884.76M891.62 574.13V574.89M884.62 574.13H898.62M884.62 574.89H898.62M905.47 573.74V574.5M898.47 573.74H912.47M898.47 574.5H912.47M919.33 573.36V574.12M912.33 573.36H926.33M912.33 574.12H926.33M933.19 572.97V573.73M926.19 572.97H940.19M926.19 573.73H940.19M947.04 572.58V573.34M940.04 572.58H954.04M940.04 573.34H954.04M960.9 572.19V572.96M953.9 572.19H967.9M953.9 572.96H967.9M974.75 571.81V572.57M967.75 571.81H981.75M967.75 572.57H981.75M988.61 571.42V572.18M981.61 571.42H995.61M981.61 572.18H995.61M1002.46 571.03V571.8M995.46 571.03H1009.46M995.46 571.8H1009.46M1016.32 570.65V571.41M1009.32 570.65H1023.32M1009.32 571.41H1023.32M1030.18 570.26V571.02M1023.18 570.26H1037.18M1023.18 571.02H1037.18M1044.03 569.87V570.63M1037.03 569.87H1051.03M1037.03 570.63H1051.03M1057.89 569.48V570.25M1050.89 569.48H1064.89M1050.89 570.25H1064.89M1071.74 569.1V569.86M1064.74 569.1H1078.74M1064.74 569.86H1078.74M1085.6 568.86V569.62M1078.6 568.86H1092.6M1078.6 569.62H1092.6M1099.45 568.62V569.38M1092.45 568.62H1106.45M1092.45 569.38H1106.45M1113.31 568.38V569.15M1106.31 568.38H1120.31M1106.31 569.15H1120.31M1127.17 568.14V568.91M1120.17 568.14H1134.17M1120.17 568.91H1134.17M1141.02 567.91V568.67M1134.02 567.91H1148.02M1134.02 568.67H1148.02M1154.88 567.67V568.43M1147.88 567.67H1161.88M1147.88 568.43H1161.88M1168.73 567.43V568.19M1161.73 567.43H1175.73M1161.73 568.19H1175.73M1182.59 567.19V567.95M1175.59 567.19H1189.59M1175.59 567.95H1189.59M1196.44 566.95V567.72M1189.44 566.95H1203.44M1189.44 567.72H1203.44M1210.3 566.72V567.48M1203.3 566.72H1217.3M1203.3 567.48H1217.3" stroke="#ff00ff" stroke-width="3" fill="none"/>
<path d="M254.26 895.56L261.26 902.56L254.26 909.56L247.26 902.56ZM268.11 893.08L275.11 900.08L268.11 907.08L261.11 900.08ZM281.97 888.65L288.97 895.65L281.97 902.65L274.97 895.65ZM295.82 881.79L302.82 888.79L295.82 895.79L288.82 888.79ZM309.68 874.6L316.68 881.6L309.68 888.6L302.68 881.6ZM323.53 863.31L330.53 870.31L323.53 877.31L316.53 870.31ZM337.39 850.92L344.39 857.92L337.39 864.92L330.39 857.92ZM351.25 830.44L358.25 837.44L351.25 844.44L344.25 837.44ZM365.1 809L372.1 816L365.1 823L358.1 816ZM378.96 768.79L385.96 775.79L378.96 782.79L371.96 775.79ZM392.81 739.59L399.81 746.59L392.81 753.59L385.81 746.59ZM406.67 717.82L413.67 724.82L406.67 731.82L399.67 724.82ZM420.52 702.63L427.52 709.63L420.52 716.63L413.52 709.63ZM434.38 688.1L441.38 695.1L434.38 702.1L427.38 695.1ZM448.24 658.23L455.24 665.23L448.24 672.23L441.24 665.23ZM462.09 590.73L469.09 597.73L462.09 604.73L455.09 597.73ZM475.95 587.2L482.95 594.2L475.95 601.2L468.95 594.2ZM489.8 586.2L496.8 593.2L489.8 600.2L482.8 593.2ZM503.66 584.63L510.66 591.63L503.66 598.63L496.66 591.63ZM517.51 583.82L524.51 590.82L517.51 597.82L510.51 590.82ZM531.37 583.01L538.37 590.01L531.37 597.01L524.37 590.01ZM545.23 582.11L552.23 589.11L545.23 596.11L538.23 589.11ZM559.08 581.3L566.08 588.3L559.08 595.3L552.08 588.3ZM572.94 580.91L579.94 587.91L572.94 594.91L565.94 587.91ZM586.79 580.01L593.79 587.01L586.79 594.01L579.79 587.01ZM600.65 579.17L607.65 586.17L600.65 593.17L593.65 586.17ZM614.5 578.33L621.5 585.33L614.5 592.33L607.5 585.33ZM628.36 577.49L635.36 584.49L628.36 591.49L621.36 584.49ZM642.22 576.66L649.22 583.66L642.22 590.66L635.22 583.66ZM656.07 575.82L663.07 582.82L656.07 589.82L649.07 582.82ZM669.93 575.14L676.93 582.14L669.93 589.14L662.93 582.14ZM683.78 574.47L690.78 581.47L683.78 588.47L676.78 581.47ZM697.64 573.79L704.64 580.79L697.64 587.79L690.64 580.79ZM711.49 573.12L718.49 580.12L711.49 587.12L704.49 580.12ZM725.35 572.44L732.35 579.44L725.35 586.44L718.35 579.44ZM739.21 571.77L746.21 578.77L739.21 585.77L732.21 578.77ZM753.06 571.38L760.06 578.38L753.06 585.38L746.06 578.38ZM766.92 570.99L773.92 577.99L766.92 584.99L759.92 577.99ZM780.77 570.61L787.77 577.61L780.77 584.61L773.77 577.61ZM794.63 570.22L801.63 577.22L794.63 584.22L787.63 577.22ZM808.48 569.83L815.48 576.83L808.48 583.83L801.48 576.83ZM822.34 569.45L829.34 576.45L822.34 583.45L815.34 576.45ZM836.2 569.06L843.2 576.06L836.2 583.06L829.2 576.06ZM850.05 568.67L857.05 575.67L850.05 582.67L843.05 575.67ZM863.91 568.28L870.91 575.28L863.91 582.28L856.91 575.28ZM877.76 567.9L884.76 574.9L877.76 581.9L870.76 574.9ZM891.62 567.51L898.62 574.51L891.62 581.51L884.62 574.51ZM905.47 567.12L912.47 574.12L905.47 581.12L898.47 574.12ZM919.33 566.74L926.33 573.74L919.33 580.74L912.33 573.74ZM933.19 566.35L940.19 573.35L933.19 580.35L926.19 573.35ZM947.04 565.96L954.04 572.96L947.04 579.96L940.04 572.96ZM960.9 565.58L967.9 572.58L960.9 579.58L953.9 572.58ZM974.75 565.19L981.75 572.19L974.75 579.19L967.75 572.19ZM988.61 564.8L995.61 571.8L988.61 578.8L981.61 571.8ZM1002.46 564.41L1009.46 571.41L1002.46 578.41L995.46 571.41ZM1016.32 564.03L1023.32 571.03L1016.32 578.03L1009.32 571.03ZM1030.18 563.64L1037.18 570.64L1030.18 577.64L1023.18 570.64ZM1044.03 563.25L1051.03 570.25L1044.03 577.25L1037.03 570.25ZM1057.89 562.87L1064.89 569.87L1057.89 576.87L1050.89 569.87ZM1071.74 562.48L1078.74 569.48L1071.74 576.48L1064.74 569.48ZM1085.6 562.24L1092.6 569.24L1085.6 576.24L1078.6 569.24ZM1099.45 562L1106.45 569L1099.45 576L1092.45 569ZM1113.31 561.76L1120.31 568.76L1113.31 575.76L1106.31 568.76ZM1127.17 561.53L1134.17 568.53L1127.17 575.53L1120.17 568.53ZM1141.02 561.29L1148.02 568.29L1141.02 575.29L1134.02 568.29ZM1154.88 561.05L1161.88 568.05L1154.88 575.05L1147.88 568.05ZM1168.73 560.81L1175.73 567.81L1168.73 574.81L1161.73 567.81ZM1182.59 560.57L1189.59 567.57L1182.59 574.57L1175.59 567.57ZM1196.44 560.34L1203.44 567.34L1196.44 574.34L1189.44 567.34ZM1210.3 560.1L1217.3 567.1L1210.3 574.1L1203.3 567.1Z" fill="#ff00ff"/>
<path d="M254.26 897.43V914.63M245.66 906.03H262.86M268.11 894.57V911.77M259.51 903.17H276.71M281.97 890.76V907.96M273.37 899.36H290.57M295.82 885.52V902.72M287.22 894.12H304.42M309.68 880.28V897.48M301.08 888.88H318.28M323.53 873.61V890.81M314.93 882.21H332.13M337.39 863.33V880.53M328.79 871.93H345.99M351.25 852.56V869.76M342.65 861.16H359.85M365.1 836.74V853.94M356.5 845.34H373.7M378.96 812.64V829.84M370.36 821.24H387.56M392.81 782.39V799.59M384.21 790.99H401.41M406.67 754.28V771.48M398.07 762.88H415.27M420.52 730.8V748M411.92 739.4H429.12M434.38 711.79V728.99M425.78 720.39H442.98M448.24 696.6V713.8M439.64 705.2H456.84M462.09 682.69V699.89M453.49 691.29H470.69M475.95 630.67V647.87M467.35 639.27H484.55M489.8 589.41V606.61M481.2 598.01H498.4M503.66 586.36V603.56M495.06 594.96H512.26M517.51 584.46V601.66M508.91 593.06H526.11M531.37 583.27V600.47M522.77 591.87H539.97M545.23 582.55V599.75M536.63 591.15H553.83M559.08 581.84V599.04M550.48 590.44H567.68M572.94 581.46V598.66M564.34 590.06H581.54M586.79 580.55V597.75M578.19 589.15H595.39M600.65 579.71V596.91M592.05 588.31H609.25M614.5 578.88V596.08M605.9 587.48H623.1M628.36 578.04V595.24M619.76 586.64H636.96M642.22 577.2V594.4M633.62 585.8H650.82M656.07 576.36V593.56M647.47 584.96H664.67M669.93 575.73V592.93M661.33 584.33H678.53M683.78 575.09V592.29M675.18 583.69H692.38M697.64 574.46V591.66M689.04 583.06H706.24M711.49 573.82V591.02M702.89 582.42H720.09M725.35 573.18V590.38M716.75 581.78H733.95M739.21 572.55V589.75M730.61 581.15H747.81M753.06 572.16V589.36M744.46 580.76H761.66M766.92 571.76V588.96M758.32 580.36H775.52M780.77 571.37V588.57M772.17 579.97H789.37M794.63 570.98V588.18M786.03 579.58H803.23M808.48 570.58V587.78M799.88 579.18H817.08M822.34 570.19V587.39M813.74 578.79H830.94M836.2 569.8V587M827.6 578.4H844.8M850.05 569.41V586.61M841.45 578.01H858.65M863.91 569.01V586.21M855.31 577.61H872.51M877.76 568.62V585.82M869.16 577.22H886.36M891.62 568.23V585.43M883.02 576.83H900.22M905.47 567.83V585.03M896.87 576.43H914.07M919.33 567.44V584.64M910.73 576.04H927.93M933.19 567.05V584.25M924.59 575.65H941.79M947.04 566.65V583.85M938.44 575.25H955.64M960.9 566.26V583.46M952.3 574.86H969.5M974.75 565.87V583.07M966.15 574.47H983.35M988.61 565.48V582.68M980.01 574.08H997.21M1002.46 565.08V582.28M993.86 573.68H1011.06M1016.32 564.69V581.89M1007.72 573.29H1024.92M1030.18 564.3V581.5M1021.58 572.9H1038.78M1044.03 563.9V581.1M1035.43 572.5H1052.63M1057.89 563.51V580.71M1049.29 572.11H1066.49M1071.74 563.12V580.32M1063.14 571.72H1080.34M1085.6 562.86V580.06M1077 571.46H1094.2M1099.45 562.6V579.8M1090.85 571.2H1108.05M1113.31 562.35V579.55M1104.71 570.95H1121.91M1127.17 562.09V579.29M1118.57 570.69H1135.77M1141.02 561.83V579.03M1132.42 570.43H1149.62M1154.88 561.57V578.77M1146.28 570.17H1163.48M1168.73 561.32V578.52M1160.13 569.92H1177.33M1182.59 561.06V578.26M1173.99 569.66H1191.19M1196.44 560.8V578M1187.84 569.4H1205.04M1210.3 560.55V577.75M1201.7 569.15H1218.9" stroke="#000" stroke-width="3.6" fill="none"/>
<path d="M254.26 904.56V907.5M247.26 904.56H261.26M247.26 907.5H261.26M268.11 901.69V904.66M261.11 901.69H275.11M261.11 904.66H275.11M281.97 897.84V900.89M274.97 897.84H288.97M274.97 900.89H288.97M295.82 892.52V895.73M288.82 892.52H302.82M288.82 895.73H302.82M309.68 887.16V890.6M302.68 887.16H316.68M302.68 890.6H316.68M323.53 880.28V884.15M316.53 880.28H330.53M316.53 884.15H330.53M337.39 869.49V874.36M330.39 869.49H344.39M330.39 874.36H344.39M351.25 858.04V864.27M344.25 858.04H358.25M344.25 864.27H358.25M365.1 841.19V849.5M358.1 841.19H372.1M358.1 849.5H372.1M378.96 816.06V826.42M371.96 816.06H385.96M371.96 826.42H385.96M392.81 785.52V796.46M385.81 785.52H399.81M385.81 796.46H399.81M406.67 757.41V768.36M399.67 757.41H413.67M399.67 768.36H413.67M420.52 734V744.8M413.52 734H427.52M413.52 744.8H427.52M434.38 715.37V725.41M427.38 715.37H441.38M427.38 725.41H441.38M448.24 701.72V708.67M441.24 701.72H455.24M441.24 708.67H455.24M462.09 686.43V696.15M455.09 686.43H469.09M455.09 696.15H469.09M475.95 611.16V667.37M468.95 611.16H482.95M468.95 667.37H482.95M489.8 595.16V600.87M482.8 595.16H496.8M482.8 600.87H496.8M503.66 594.58V595.35M496.66 594.58H510.66M496.66 595.35H510.66M517.51 592.68V593.44M510.51 592.68H524.51M510.51 593.44H524.51M531.37 591.49V592.25M524.37 591.49H538.37M524.37 592.25H538.37M545.23 590.77V591.53M538.23 590.77H552.23M538.23 591.53H552.23M559.08 590.06V590.82M552.08 590.06H566.08M552.08 590.82H566.08M572.94 589.68V590.44M565.94 589.68H579.94M565.94 590.44H579.94M586.79 588.77V589.53M579.79 588.77H593.79M579.79 589.53H593.79M600.65 587.93V588.7M593.65 587.93H607.65M593.65 588.7H607.65M614.5 587.09V587.86M607.5 587.09H621.5M607.5 587.86H621.5M628.36 586.26V587.02M621.36 586.26H635.36M621.36 587.02H635.36M642.22 585.42V586.18M635.22 585.42H649.22M635.22 586.18H649.22M656.07 584.58V585.34M649.07 584.58H663.07M649.07 585.34H663.07M669.93 583.94V584.71M662.93 583.94H676.93M662.93 584.71H676.93M683.78 583.31V584.07M676.78 583.31H690.78M676.78 584.07H690.78M697.64 582.67V583.44M690.64 582.67H704.64M690.64 583.44H704.64M711.49 582.04V582.8M704.49 582.04H718.49M704.49 582.8H718.49M725.35 581.4V582.17M718.35 581.4H732.35M718.35 582.17H732.35M739.21 580.77V581.53M732.21 580.77H746.21M732.21 581.53H746.21M753.06 580.38V581.14M746.06 580.38H760.06M746.06 581.14H760.06M766.92 579.98V580.74M759.92 579.98H773.92M759.92 580.74H773.92M780.77 579.59V580.35M773.77 579.59H787.77M773.77 580.35H787.77M794.63 579.2V579.96M787.63 579.2H801.63M787.63 579.96H801.63M808.48 578.8V579.57M801.48 578.8H815.48M801.48 579.57H815.48M822.34 578.41V579.17M815.34 578.41H829.34M815.34 579.17H829.34M836.2 578.02V578.78M829.2 578.02H843.2M829.2 578.78H843.2M850.05 577.62V578.39M843.05 577.62H857.05M843.05 578.39H857.05M863.91 577.23V577.99M856.91 577.23H870.91M856.91 577.99H870.91M877.76 576.84V577.6M870.76 576.84H884.76M870.76 577.6H884.76M891.62 576.45V577.21M884.62 576.45H898.62M884.62 577.21H898.62M905.47 576.05V576.81M898.47 576.05H912.47M898.47 576.81H912.47M919.33 575.66V576.42M912.33 575.66H926.33M912.33 576.42H926.33M933.19 575.27V576.03M926.19 575.27H940.19M926.19 576.03H940.19M947.04 574.87V575.64M940.04 574.87H954.04M940.04 575.64H954.04M960.9 574.48V575.24M953.9 574.48H967.9M953.9 575.24H967.9M974.75 574.09V574.85M967.75 574.09H981.75M967.75 574.85H981.75M988.61 573.69V574.46M981.61 573.69H995.61M981.61 574.46H995.61M1002.46 573.3V574.06M995.46 573.3H1009.46M995.46 574.06H1009.46M1016.32 572.91V573.67M1009.32 572.91H1023.32M1009.32 573.67H1023.32M1030.18 572.52V573.28M1023.18 572.52H1037.18M1023.18 573.28H1037.18M1044.03 572.12V572.88M1037.03 572.12H1051.03M1037.03 572.88H1051.03M1057.89 571.73V572.49M1050.89 571.73H1064.89M1050.89 572.49H1064.89M1071.74 571.34V572.1M1064.74 571.34H1078.74M1064.74 572.1H1078.74M1085.6 571.08V571.84M1078.6 571.08H1092.6M1078.6 571.84H1092.6M1099.45 570.82V571.58M1092.45 570.82H1106.45M1092.45 571.58H1106.45M1113.31 570.56V571.33M1106.31 570.56H1120.31M1106.31 571.33H1120.31M1127.17 570.31V571.07M1120.17 570.31H1134.17M1120.17 571.07H1134.17M1141.02 570.05V570.81M1134.02 570.05H1148.02M1134.02 570.81H1148.02M1154.88 569.79V570.56M1147.88 569.79H1161.88M1147.88 570.56H1161.88M1168.73 569.54V570.3M1161.73 569.54H1175.73M1161.73 570.3H1175.73M1182.59 569.28V570.04M1175.59 569.28H1189.59M1175.59 570.04H1189.59M1196.44 569.02V569.78M1189.44 569.02H1203.44M1189.44 569.78H1203.44M1210.3 568.76V569.53M1203.3 568.76H1217.3M1203.3 569.53H1217.3" stroke="#00ff00" stroke-width="3" fill="none"/>
<path d="M254.26 899.03V913.03M247.26 906.03H261.26M268.11 896.17V910.17M261.11 903.17H275.11M281.97 892.36V906.36M274.97 899.36H288.97M295.82 887.12V901.12M288.82 894.12H302.82M309.68 881.88V895.88M302.68 888.88H316.68M323.53 875.21V889.21M316.53 882.21H330.53M337.39 864.93V878.93M330.39 871.93H344.39M351.25 854.16V868.16M344.25 861.16H358.25M365.1 838.34V852.34M358.1 845.34H372.1M378.96 814.24V828.24M371.96 821.24H385.96M392.81 783.99V797.99M385.81 790.99H399.81M406.67 755.88V769.88M399.67 762.88H413.67M420.52 732.4V746.4M413.52 739.4H427.52M434.38 713.39V727.39M427.38 720.39H441.38M448.24 698.2V712.2M441.24 705.2H455.24M462.09 684.29V698.29M455.09 691.29H469.09M475.95 632.27V646.27M468.95 639.27H482.95M489.8 591.01V605.01M482.8 598.01H496.8M503.66 587.96V601.96M496.66 594.96H510.66M517.51 586.06V600.06M510.51 593.06H524.51M531.37 584.87V598.87M524.37 591.87H538.37M545.23 584.15V598.15M538.23 591.15H552.23M559.08 583.44V597.44M552.08 590.44H566.08M572.94 583.06V597.06M565.94 590.06H579.94M586.79 582.15V596.15M579.79 589.15H593.79M600.65 581.31V595.31M593.65 588.31H607.65M614.5 580.48V594.48M607.5 587.48H621.5M628.36 579.64V593.64M621.36 586.64H635.36M642.22 578.8V592.8M635.22 585.8H649.22M656.07 577.96V591.96M649.07 584.96H663.07M669.93 577.33V591.33M662.93 584.33H676.93M683.78 576.69V590.69M676.78 583.69H690.78M697.64 576.06V590.06M690.64 583.06H704.64M711.49 575.42V589.42M704.49 582.42H718.49M725.35 574.78V588.78M718.35 581.78H732.35M739.21 574.15V588.15M732.21 581.15H746.21M753.06 573.76V587.76M746.06 580.76H760.06M766.92 573.36V587.36M759.92 580.36H773.92M780.77 572.97V586.97M773.77 579.97H787.77M794.63 572.58V586.58M787.63 579.58H801.63M808.48 572.18V586.18M801.48 579.18H815.48M822.34 571.79V585.79M815.34 578.79H829.34M836.2 571.4V585.4M829.2 578.4H843.2M850.05 571.01V585.01M843.05 578.01H857.05M863.91 570.61V584.61M856.91 577.61H870.91M877.76 570.22V584.22M870.76 577.22H884.76M891.62 569.83V583.83M884.62 576.83H898.62M905.47 569.43V583.43M898.47 576.43H912.47M919.33 569.04V583.04M912.33 576.04H926.33M933.19 568.65V582.65M926.19 575.65H940.19M947.04 568.25V582.25M940.04 575.25H954.04M960.9 567.86V581.86M953.9 574.86H967.9M974.75 567.47V581.47M967.75 574.47H981.75M988.61 567.08V581.08M981.61 574.08H995.61M1002.46 566.68V580.68M995.46 573.68H1009.46M1016.32 566.29V580.29M1009.32 573.29H1023.32M1030.18 565.9V579.9M1023.18 572.9H1037.18M1044.03 565.5V579.5M1037.03 572.5H1051.03M1057.89 565.11V579.11M1050.89 572.11H1064.89M1071.74 564.72V578.72M1064.74 571.72H1078.74M1085.6 564.46V578.46M1078.6 571.46H1092.6M1099.45 564.2V578.2M1092.45 571.2H1106.45M1113.31 563.95V577.95M1106.31 570.95H1120.31M1127.17 563.69V577.69M1120.17 570.69H1134.17M1141.02 563.43V577.43M1134.02 570.43H1148.02M1154.88 563.17V577.17M1147.88 570.17H1161.88M1168.73 562.92V576.92M1161.73 569.92H1175.73M1182.59 562.66V576.66M1175.59 569.66H1189.59M1196.44 562.4V576.4M1189.44 569.4H1203.44M1210.3 562.15V576.15M1203.3 569.15H1217.3" stroke="#00ff00" stroke-width="3" fill="none"/>
<path d="M254.26 901.37L261.86 906.9L258.96 915.84L249.55 915.84L246.65 906.9ZM268.11 898.51L275.72 904.04L272.81 912.98L263.41 912.98L260.5 904.04ZM281.97 895.17L289.58 900.7L286.67 909.65L277.26 909.65L274.36 900.7ZM295.82 891.84L303.43 897.37L300.53 906.31L291.12 906.31L288.21 897.37ZM309.68 888.32L317.29 893.84L314.38 902.79L304.98 902.79L302.07 893.84ZM323.53 882.6L331.14 888.13L328.24 897.07L318.83 897.07L315.93 888.13ZM337.39 876.31L345 881.84L342.09 890.78L332.69 890.78L329.78 881.84ZM351.25 871.21L358.85 876.74L355.95 885.69L346.54 885.69L343.64 876.74ZM365.1 857.59L372.71 863.12L369.8 872.06L360.4 872.06L357.49 863.12ZM378.96 842.11L386.57 847.64L383.66 856.58L374.25 856.58L371.35 847.64ZM392.81 824.43L400.42 829.96L397.52 838.91L388.11 838.91L385.2 829.96ZM406.67 797.76L414.28 803.29L411.37 812.23L401.97 812.23L399.06 803.29ZM420.52 780.37L428.13 785.9L425.23 794.84L415.82 794.84L412.92 785.9ZM434.38 744.79L441.99 750.31L439.08 759.26L429.68 759.26L426.77 750.31ZM448.24 725.11L455.84 730.64L452.94 739.58L443.53 739.58L440.63 730.64ZM462.09 706.77L469.7 712.3L466.79 721.24L457.39 721.24L454.48 712.3ZM475.95 692.1L483.56 697.63L480.65 706.57L471.24 706.57L468.34 697.63ZM489.8 666.04L497.41 671.57L494.51 680.51L485.1 680.51L482.19 671.57ZM503.66 606.45L511.27 611.98L508.36 620.92L498.96 620.92L496.05 611.98ZM517.51 590.39L525.12 595.92L522.22 604.87L512.81 604.87L509.91 595.92ZM531.37 588.87L538.98 594.4L536.07 603.34L526.67 603.34L523.76 594.4ZM545.23 587.39L552.83 592.92L549.93 601.87L540.52 601.87L537.62 592.92ZM559.08 586.56L566.69 592.09L563.78 601.03L554.38 601.03L551.47 592.09ZM572.94 586.15L580.55 591.68L577.64 600.63L568.23 600.63L565.33 591.68ZM586.79 585.23L594.4 590.75L591.5 599.7L582.09 599.7L579.18 590.75ZM600.65 584.36L608.26 589.89L605.35 598.84L595.95 598.84L593.04 589.89ZM614.5 583.5L622.11 589.03L619.21 597.97L609.8 597.97L606.9 589.03ZM628.36 582.64L635.97 588.17L633.06 597.11L623.66 597.11L620.75 588.17ZM642.22 581.78L649.82 587.3L646.92 596.25L637.51 596.25L634.61 587.3ZM656.07 580.91L663.68 586.44L660.77 595.39L651.37 595.39L648.46 586.44ZM669.93 580.22L677.54 585.74L674.63 594.69L665.22 594.69L662.32 585.74ZM683.78 579.52L691.39 585.05L688.49 593.99L679.08 593.99L676.17 585.05ZM697.64 578.82L705.25 584.35L702.34 593.29L692.94 593.29L690.03 584.35ZM711.49 578.12L719.1 583.65L716.2 592.59L706.79 592.59L703.89 583.65ZM725.35 577.42L732.96 582.95L730.05 591.89L720.65 591.89L717.74 582.95ZM739.21 576.72L746.81 582.25L743.91 591.19L734.5 591.19L731.6 582.25ZM753.06 576.31L760.67 581.84L757.76 590.78L748.36 590.78L745.45 581.84ZM766.92 575.9L774.53 581.43L771.62 590.37L762.21 590.37L759.31 581.43ZM780.77 575.49L788.38 581.02L785.48 589.96L776.07 589.96L773.16 581.02ZM794.63 575.08L802.24 580.61L799.33 589.55L789.93 589.55L787.02 580.61ZM808.48 574.67L816.09 580.2L813.19 589.14L803.78 589.14L800.88 580.2ZM822.34 574.26L829.95 579.79L827.04 588.73L817.64 588.73L814.73 579.79ZM836.2 573.85L843.8 579.37L840.9 588.32L831.49 588.32L828.59 579.37ZM850.05 573.44L857.66 578.96L854.75 587.91L845.35 587.91L842.44 578.96ZM863.91 573.02L871.52 578.55L868.61 587.5L859.2 587.5L856.3 578.55ZM877.76 572.61L885.37 578.14L882.47 587.09L873.06 587.09L870.15 578.14ZM891.62 572.2L899.23 577.73L896.32 586.68L886.92 586.68L884.01 577.73ZM905.47 571.79L913.08 577.32L910.18 586.26L900.77 586.26L897.87 577.32ZM919.33 571.38L926.94 576.91L924.03 585.85L914.63 585.85L911.72 576.91ZM933.19 570.97L940.79 576.5L937.89 585.44L928.48 585.44L925.58 576.5ZM947.04 570.56L954.65 576.09L951.74 585.03L942.34 585.03L939.43 576.09ZM960.9 570.15L968.51 575.68L965.6 584.62L956.19 584.62L953.29 575.68ZM974.75 569.74L982.36 575.27L979.46 584.21L970.05 584.21L967.14 575.27ZM988.61 569.33L996.22 574.85L993.31 583.8L983.91 583.8L981 574.85ZM1002.46 568.92L1010.07 574.44L1007.17 583.39L997.76 583.39L994.86 574.44ZM1016.32 568.51L1023.93 574.03L1021.02 582.98L1011.62 582.98L1008.71 574.03ZM1030.18 568.09L1037.78 573.62L1034.88 582.57L1025.47 582.57L1022.57 573.62ZM1044.03 567.68L1051.64 573.21L1048.73 582.16L1039.33 582.16L1036.42 573.21ZM1057.89 567.27L1065.5 572.8L1062.59 581.74L1053.18 581.74L1050.28 572.8ZM1071.74 566.86L1079.35 572.39L1076.45 581.33L1067.04 581.33L1064.13 572.39ZM1085.6 566.6L1093.21 572.13L1090.3 581.07L1080.9 581.07L1077.99 572.13ZM1099.45 566.34L1107.06 571.87L1104.16 580.81L1094.75 580.81L1091.85 571.87ZM1113.31 566.08L1120.92 571.6L1118.01 580.55L1108.61 580.55L1105.7 571.6ZM1127.17 565.81L1134.77 571.34L1131.87 580.29L1122.46 580.29L1119.56 571.34ZM1141.02 565.55L1148.63 571.08L1145.72 580.02L1136.32 580.02L1133.41 571.08ZM1154.88 565.29L1162.49 570.82L1159.58 579.76L1150.17 579.76L1147.27 570.82ZM1168.73 565.03L1176.34 570.56L1173.44 579.5L1164.03 579.5L1161.12 570.56ZM1182.59 564.77L1190.2 570.29L1187.29 579.24L1177.89 579.24L1174.98 570.29ZM1196.44 564.5L1204.05 570.03L1201.15 578.98L1191.74 578.98L1188.84 570.03ZM1210.3 564.24L1217.91 569.77L1215 578.71L1205.6 578.71L1202.69 569.77Z" fill="#000"/>
<path d="M254.26 907.91V910.82M247.26 907.91H261.26M247.26 910.82H261.26M268.11 905.04V907.98M261.11 905.04H275.11M261.11 907.98H275.11M281.97 901.69V904.66M274.97 901.69H288.97M274.97 904.66H288.97M295.82 898.32V901.36M288.82 898.32H302.82M288.82 901.36H302.82M309.68 894.75V897.88M302.68 894.75H316.68M302.68 897.88H316.68M323.53 888.92V892.28M316.53 888.92H330.53M316.53 892.28H330.53M337.39 882.45V886.17M330.39 882.45H344.39M330.39 886.17H344.39M351.25 877.15V881.28M344.25 877.15H358.25M344.25 881.28H358.25M365.1 862.77V868.41M358.1 862.77H372.1M358.1 868.41H372.1M378.96 846.25V853.97M371.96 846.25H385.96M371.96 853.97H385.96M392.81 827.62V837.25M385.81 827.62H399.81M385.81 837.25H399.81M406.67 800.34V811.17M399.67 800.34H413.67M399.67 811.17H413.67M420.52 778.37V798.37M413.52 778.37H427.52M413.52 798.37H427.52M434.38 747.32V758.25M427.38 747.32H441.38M427.38 758.25H441.38M448.24 727.79V738.43M441.24 727.79H455.24M441.24 738.43H455.24M462.09 709.95V719.59M455.09 709.95H469.09M455.09 719.59H469.09M475.95 696.05V704.15M468.95 696.05H482.95M468.95 704.15H482.95M489.8 647.6V700.48M482.8 647.6H496.8M482.8 700.48H496.8M503.66 593.49V635.41M496.66 593.49H510.66M496.66 635.41H510.66M517.51 597.92V598.87M510.51 597.92H524.51M510.51 598.87H524.51M531.37 596.39V597.35M524.37 596.39H538.37M524.37 597.35H538.37M545.23 594.92V595.87M538.23 594.92H552.23M538.23 595.87H552.23M559.08 594.08V595.04M552.08 594.08H566.08M552.08 595.04H566.08M572.94 593.68V594.63M565.94 593.68H579.94M565.94 594.63H579.94M586.79 592.75V593.7M579.79 592.75H593.79M579.79 593.7H593.79M600.65 591.89V592.84M593.65 591.89H607.65M593.65 592.84H607.65M614.5 591.02V591.98M607.5 591.02H621.5M607.5 591.98H621.5M628.36 590.16V591.12M621.36 590.16H635.36M621.36 591.12H635.36M642.22 589.3V590.25M635.22 589.3H649.22M635.22 590.25H649.22M656.07 588.44V589.39M649.07 588.44H663.07M649.07 589.39H663.07M669.93 587.74V588.69M662.93 587.74H676.93M662.93 588.69H676.93M683.78 587.04V587.99M676.78 587.04H690.78M676.78 587.99H690.78M697.64 586.34V587.29M690.64 586.34H704.64M690.64 587.29H704.64M711.49 585.64V586.6M704.49 585.64H718.49M704.49 586.6H718.49M725.35 584.94V585.9M718.35 584.94H732.35M718.35 585.9H732.35M739.21 584.25V585.2M732.21 584.25H746.21M732.21 585.2H746.21M753.06 583.84V584.79M746.06 583.84H760.06M746.06 584.79H760.06M766.92 583.42V584.38M759.92 583.42H773.92M759.92 584.38H773.92M780.77 583.01V583.97M773.77 583.01H787.77M773.77 583.97H787.77M794.63 582.6V583.56M787.63 582.6H801.63M787.63 583.56H801.63M808.48 582.19V583.14M801.48 582.19H815.48M801.48 583.14H815.48M822.34 581.78V582.73M815.34 581.78H829.34M815.34 582.73H829.34M836.2 581.37V582.32M829.2 581.37H843.2M829.2 582.32H843.2M850.05 580.96V581.91M843.05 580.96H857.05M843.05 581.91H857.05M863.91 580.55V581.5M856.91 580.55H870.91M856.91 581.5H870.91M877.76 580.14V581.09M870.76 580.14H884.76M870.76 581.09H884.76M891.62 579.73V580.68M884.62 579.73H898.62M884.62 580.68H898.62M905.47 579.32V580.27M898.47 579.32H912.47M898.47 580.27H912.47M919.33 578.9V579.86M912.33 578.9H926.33M912.33 579.86H926.33M933.19 578.49V579.45M926.19 578.49H940.19M926.19 579.45H940.19M947.04 578.08V579.04M940.04 578.08H954.04M940.04 579.04H954.04M960.9 577.67V578.63M953.9 577.67H967.9M953.9 578.63H967.9M974.75 577.26V578.21M967.75 577.26H981.75M967.75 578.21H981.75M988.61 576.85V577.8M981.61 576.85H995.61M981.61 577.8H995.61M1002.46 576.44V577.39M995.46 576.44H1009.46M995.46 577.39H1009.46M1016.32 576.03V576.98M1009.32 576.03H1023.32M1009.32 576.98H1023.32M1030.18 575.62V576.57M1023.18 575.62H1037.18M1023.18 576.57H1037.18M1044.03 575.21V576.16M1037.03 575.21H1051.03M1037.03 576.16H1051.03M1057.89 574.8V575.75M1050.89 574.8H1064.89M1050.89 575.75H1064.89M1071.74 574.39V575.34M1064.74 574.39H1078.74M1064.74 575.34H1078.74M1085.6 574.12V575.08M1078.6 574.12H1092.6M1078.6 575.08H1092.6M1099.45 573.86V574.81M1092.45 573.86H1106.45M1092.45 574.81H1106.45M1113.31 573.6V574.55M1106.31 573.6H1120.31M1106.31 574.55H1120.31M1127.17 573.34V574.29M1120.17 573.34H1134.17M1120.17 574.29H1134.17M1141.02 573.08V574.03M1134.02 573.08H1148.02M1134.02 574.03H1148.02M1154.88 572.81V573.77M1147.88 572.81H1161.88M1147.88 573.77H1161.88M1168.73 572.55V573.5M1161.73 572.55H1175.73M1161.73 573.5H1175.73M1182.59 572.29V573.24M1175.59 572.29H1189.59M1175.59 573.24H1189.59M1196.44 572.03V572.98M1189.44 572.03H1203.44M1189.44 572.98H1203.44M1210.3 571.77V572.72M1203.3 571.77H1217.3M1203.3 572.72H1217.3" stroke="#006400" stroke-width="1" stroke-opacity="0.55" fill="none"/>
<path d="M254.26 902.37L260.91 907.2L258.37 915.03L250.14 915.03L247.6 907.2ZM268.11 899.51L274.77 904.35L272.23 912.17L264 912.17L261.45 904.35ZM281.97 896.17L288.62 901.01L286.08 908.84L277.85 908.84L275.31 901.01ZM295.82 892.84L302.48 897.68L299.94 905.5L291.71 905.5L289.17 897.68ZM309.68 889.32L316.34 894.15L313.79 901.98L305.56 901.98L303.02 894.15ZM323.53 883.6L330.19 888.44L327.65 896.26L319.42 896.26L316.88 888.44ZM337.39 877.31L344.05 882.15L341.5 889.97L333.28 889.97L330.73 882.15ZM351.25 872.21L357.9 877.05L355.36 884.88L347.13 884.88L344.59 877.05ZM365.1 858.59L371.76 863.43L369.22 871.25L360.99 871.25L358.44 863.43ZM378.96 843.11L385.61 847.94L383.07 855.77L374.84 855.77L372.3 847.94ZM392.81 825.43L399.47 830.27L396.93 838.1L388.7 838.1L386.16 830.27ZM406.67 798.76L413.33 803.59L410.78 811.42L402.55 811.42L400.01 803.59ZM420.52 781.37L427.18 786.21L424.64 794.03L416.41 794.03L413.87 786.21ZM434.38 745.79L441.04 750.62L438.49 758.45L430.27 758.45L427.72 750.62ZM448.24 726.11L454.89 730.95L452.35 738.77L444.12 738.77L441.58 730.95ZM462.09 707.77L468.75 712.61L466.21 720.43L457.98 720.43L455.43 712.61ZM475.95 693.1L482.6 697.94L480.06 705.76L471.83 705.76L469.29 697.94ZM489.8 667.04L496.46 671.88L493.92 679.7L485.69 679.7L483.15 671.88ZM503.66 607.45L510.32 612.28L507.77 620.11L499.54 620.11L497 612.28ZM517.51 591.39L524.17 596.23L521.63 604.06L513.4 604.06L510.86 596.23ZM531.37 589.87L538.03 594.71L535.48 602.53L527.26 602.53L524.71 594.71ZM545.23 588.39L551.88 593.23L549.34 601.06L541.11 601.06L538.57 593.23ZM559.08 587.56L565.74 592.4L563.2 600.22L554.97 600.22L552.42 592.4ZM572.94 587.15L579.59 591.99L577.05 599.82L568.82 599.82L566.28 591.99ZM586.79 586.23L593.45 591.06L590.91 598.89L582.68 598.89L580.14 591.06ZM600.65 585.36L607.31 590.2L604.76 598.03L596.53 598.03L593.99 590.2ZM614.5 584.5L621.16 589.34L618.62 597.16L610.39 597.16L607.85 589.34ZM628.36 583.64L635.02 588.48L632.47 596.3L624.25 596.3L621.7 588.48ZM642.22 582.78L648.87 587.61L646.33 595.44L638.1 595.44L635.56 587.61ZM656.07 581.91L662.73 586.75L660.19 594.58L651.96 594.58L649.41 586.75ZM669.93 581.22L676.58 586.05L674.04 593.88L665.81 593.88L663.27 586.05ZM683.78 580.52L690.44 585.35L687.9 593.18L679.67 593.18L677.13 585.35ZM697.64 579.82L704.3 584.66L701.75 592.48L693.52 592.48L690.98 584.66ZM711.49 579.12L718.15 583.96L715.61 591.78L707.38 591.78L704.84 583.96ZM725.35 578.42L732.01 583.26L729.46 591.08L721.24 591.08L718.69 583.26ZM739.21 577.72L745.86 582.56L743.32 590.39L735.09 590.39L732.55 582.56ZM753.06 577.31L759.72 582.15L757.18 589.97L748.95 589.97L746.4 582.15ZM766.92 576.9L773.57 581.74L771.03 589.56L762.8 589.56L760.26 581.74ZM780.77 576.49L787.43 581.33L784.89 589.15L776.66 589.15L774.12 581.33ZM794.63 576.08L801.29 580.92L798.74 588.74L790.51 588.74L787.97 580.92ZM808.48 575.67L815.14 580.51L812.6 588.33L804.37 588.33L801.83 580.51ZM822.34 575.26L829 580.09L826.45 587.92L818.23 587.92L815.68 580.09ZM836.2 574.85L842.85 579.68L840.31 587.51L832.08 587.51L829.54 579.68ZM850.05 574.44L856.71 579.27L854.17 587.1L845.94 587.1L843.39 579.27ZM863.91 574.02L870.56 578.86L868.02 586.69L859.79 586.69L857.25 578.86ZM877.76 573.61L884.42 578.45L881.88 586.28L873.65 586.28L871.11 578.45ZM891.62 573.2L898.28 578.04L895.73 585.87L887.5 585.87L884.96 578.04ZM905.47 572.79L912.13 577.63L909.59 585.46L901.36 585.46L898.82 577.63ZM919.33 572.38L925.99 577.22L923.44 585.04L915.22 585.04L912.67 577.22ZM933.19 571.97L939.84 576.81L937.3 584.63L929.07 584.63L926.53 576.81ZM947.04 571.56L953.7 576.4L951.16 584.22L942.93 584.22L940.38 576.4ZM960.9 571.15L967.55 575.99L965.01 583.81L956.78 583.81L954.24 575.99ZM974.75 570.74L981.41 575.57L978.87 583.4L970.64 583.4L968.1 575.57ZM988.61 570.33L995.27 575.16L992.72 582.99L984.49 582.99L981.95 575.16ZM1002.46 569.92L1009.12 574.75L1006.58 582.58L998.35 582.58L995.81 574.75ZM1016.32 569.51L1022.98 574.34L1020.43 582.17L1012.21 582.17L1009.66 574.34ZM1030.18 569.09L1036.83 573.93L1034.29 581.76L1026.06 581.76L1023.52 573.93ZM1044.03 568.68L1050.69 573.52L1048.15 581.35L1039.92 581.35L1037.37 573.52ZM1057.89 568.27L1064.54 573.11L1062 580.94L1053.77 580.94L1051.23 573.11ZM1071.74 567.86L1078.4 572.7L1075.86 580.52L1067.63 580.52L1065.09 572.7ZM1085.6 567.6L1092.26 572.44L1089.71 580.26L1081.48 580.26L1078.94 572.44ZM1099.45 567.34L1106.11 572.17L1103.57 580L1095.34 580L1092.8 572.17ZM1113.31 567.08L1119.97 571.91L1117.42 579.74L1109.2 579.74L1106.65 571.91ZM1127.17 566.81L1133.82 571.65L1131.28 579.48L1123.05 579.48L1120.51 571.65ZM1141.02 566.55L1147.68 571.39L1145.14 579.21L1136.91 579.21L1134.36 571.39ZM1154.88 566.29L1161.53 571.13L1158.99 578.95L1150.76 578.95L1148.22 571.13ZM1168.73 566.03L1175.39 570.86L1172.85 578.69L1164.62 578.69L1162.08 570.86ZM1182.59 565.77L1189.25 570.6L1186.7 578.43L1178.47 578.43L1175.93 570.6ZM1196.44 565.5L1203.1 570.34L1200.56 578.17L1192.33 578.17L1189.79 570.34ZM1210.3 565.24L1216.96 570.08L1214.41 577.9L1206.19 577.9L1203.64 570.08Z" fill="#006400"/>
<g fill="#000"><circle cx="254.26" cy="911.51" r="8"/><circle cx="268.11" cy="909.61" r="8"/><circle cx="281.97" cy="907.94" r="8"/><circle cx="295.82" cy="903.65" r="8"/><circle cx="309.68" cy="898.89" r="8"/><circle cx="323.53" cy="894.41" r="8"/><circle cx="337.39" cy="890.6" r="8"/><circle cx="351.25" cy="886.22" r="8"/><circle cx="365.1" cy="877.93" r="8"/><circle cx="378.96" cy="867.11" r="8"/><circle cx="392.81" cy="857.44" r="8"/><circle cx="406.67" cy="842.29" r="8"/><circle cx="420.52" cy="826.48" r="8"/><circle cx="434.38" cy="795.42" r="8"/><circle cx="448.24" cy="768.22" r="8"/><circle cx="462.09" cy="747.02" r="8"/><circle cx="475.95" cy="722.01" r="8"/><circle cx="489.8" cy="711.91" r="8"/><circle cx="503.66" cy="698.57" r="8"/><circle cx="517.51" cy="677.85" r="8"/><circle cx="531.37" cy="617.02" r="8"/><circle cx="545.23" cy="600.3" r="8"/><circle cx="559.08" cy="597.73" r="8"/><circle cx="572.94" cy="596.73" r="8"/><circle cx="586.79" cy="595.44" r="8"/><circle cx="600.65" cy="594.49" r="8"/><circle cx="614.5" cy="593.88" r="8"/><circle cx="628.36" cy="593.27" r="8"/><circle cx="642.22" cy="592.67" r="8"/><circle cx="656.07" cy="592.06" r="8"/><circle cx="669.93" cy="591.22" r="8"/><circle cx="683.78" cy="590.38" r="8"/><circle cx="697.64" cy="589.53" r="8"/><circle cx="711.49" cy="588.69" r="8"/><circle cx="725.35" cy="587.85" r="8"/><circle cx="739.21" cy="587.01" r="8"/><circle cx="753.06" cy="586.56" r="8"/><circle cx="766.92" cy="586.1" r="8"/><circle cx="780.77" cy="585.65" r="8"/><circle cx="794.63" cy="585.2" r="8"/><circle cx="808.48" cy="584.75" r="8"/><circle cx="822.34" cy="584.29" r="8"/><circle cx="836.2" cy="583.84" r="8"/><circle cx="850.05" cy="583.39" r="8"/><circle cx="863.91" cy="582.94" r="8"/><circle cx="877.76" cy="582.48" r="8"/><circle cx="891.62" cy="582.03" r="8"/><circle cx="905.47" cy="581.58" r="8"/><circle cx="919.33" cy="581.13" r="8"/><circle cx="933.19" cy="580.67" r="8"/><circle cx="947.04" cy="580.22" r="8"/><circle cx="960.9" cy="579.77" r="8"/><circle cx="974.75" cy="579.32" r="8"/><circle cx="988.61" cy="578.86" r="8"/><circle cx="1002.46" cy="578.41" r="8"/><circle cx="1016.32" cy="577.96" r="8"/><circle cx="1030.18" cy="577.51" r="8"/><circle cx="1044.03" cy="577.05" r="8"/><circle cx="1057.89" cy="576.6" r="8"/><circle cx="1071.74" cy="576.15" r="8"/><circle cx="1085.6" cy="575.83" r="8"/><circle cx="1099.45" cy="575.51" r="8"/><circle cx="1113.31" cy="575.19" r="8"/><circle cx="1127.17" cy="574.87" r="8"/><circle cx="1141.02" cy="574.55" r="8"/><circle cx="1154.88" cy="574.23" r="8"/><circle cx="1168.73" cy="573.91" r="8"/><circle cx="1182.59" cy="573.59" r="8"/><circle cx="1196.44" cy="573.28" r="8"/><circle cx="1210.3" cy="572.96" r="8"/></g>
<path d="M254.26 910.06V912.96M247.26 910.06H261.26M247.26 912.96H261.26M268.11 908.15V911.06M261.11 908.15H275.11M261.11 911.06H275.11M281.97 906.48V909.4M274.97 906.48H288.97M274.97 909.4H288.97M295.82 902.17V905.14M288.82 902.17H302.82M288.82 905.14H302.82M309.68 897.36V900.42M302.68 897.36H316.68M302.68 900.42H316.68M323.53 892.81V896.01M316.53 892.81H330.53M316.53 896.01H330.53M337.39 888.92V892.28M330.39 888.92H344.39M330.39 892.28H344.39M351.25 884.42V888.01M344.25 884.42H358.25M344.25 888.01H358.25M365.1 875.81V880.05M358.1 875.81H372.1M358.1 880.05H372.1M378.96 864.39V869.84M371.96 864.39H385.96M371.96 869.84H385.96M392.81 854.08V860.81M385.81 854.08H399.81M385.81 860.81H399.81M406.67 837.96V846.63M399.67 837.96H413.67M399.67 846.63H413.67M420.52 818.24V834.72M413.52 818.24H427.52M413.52 834.72H427.52M434.38 785.42V805.42M427.38 785.42H441.38M427.38 805.42H441.38M448.24 761.07V775.37M441.24 761.07H455.24M441.24 775.37H455.24M462.09 741.57V752.47M455.09 741.57H469.09M455.09 752.47H469.09M475.95 716.94V727.08M468.95 716.94H482.95M468.95 727.08H482.95M489.8 707.22V716.61M482.8 707.22H496.8M482.8 716.61H496.8M503.66 694.62V702.53M496.66 694.62H510.66M496.66 702.53H510.66M517.51 667.85V687.86M510.51 667.85H524.51M510.51 687.86H524.51M531.37 604.49V629.55M524.37 604.49H538.37M524.37 629.55H538.37M545.23 599.82V600.78M538.23 599.82H552.23M538.23 600.78H552.23M559.08 597.25V598.2M552.08 597.25H566.08M552.08 598.2H566.08M572.94 596.25V597.2M565.94 596.25H579.94M565.94 597.2H579.94M586.79 594.96V595.92M579.79 594.96H593.79M579.79 595.92H593.79M600.65 594.01V594.96M593.65 594.01H607.65M593.65 594.96H607.65M614.5 593.4V594.36M607.5 593.4H621.5M607.5 594.36H621.5M628.36 592.8V593.75M621.36 592.8H635.36M621.36 593.75H635.36M642.22 592.19V593.14M635.22 592.19H649.22M635.22 593.14H649.22M656.07 591.58V592.53M649.07 591.58H663.07M649.07 592.53H663.07M669.93 590.74V591.69M662.93 590.74H676.93M662.93 591.69H676.93M683.78 589.9V590.85M676.78 589.9H690.78M676.78 590.85H690.78M697.64 589.06V590.01M690.64 589.06H704.64M690.64 590.01H704.64M711.49 588.22V589.17M704.49 588.22H718.49M704.49 589.17H718.49M725.35 587.37V588.33M718.35 587.37H732.35M718.35 588.33H732.35M739.21 586.53V587.49M732.21 586.53H746.21M732.21 587.49H746.21M753.06 586.08V587.03M746.06 586.08H760.06M746.06 587.03H760.06M766.92 585.63V586.58M759.92 585.63H773.92M759.92 586.58H773.92M780.77 585.18V586.13M773.77 585.18H787.77M773.77 586.13H787.77M794.63 584.72V585.68M787.63 584.72H801.63M787.63 585.68H801.63M808.48 584.27V585.22M801.48 584.27H815.48M801.48 585.22H815.48M822.34 583.82V584.77M815.34 583.82H829.34M815.34 584.77H829.34M836.2 583.36V584.32M829.2 583.36H843.2M829.2 584.32H843.2M850.05 582.91V583.87M843.05 582.91H857.05M843.05 583.87H857.05M863.91 582.46V583.41M856.91 582.46H870.91M856.91 583.41H870.91M877.76 582.01V582.96M870.76 582.01H884.76M870.76 582.96H884.76M891.62 581.55V582.51M884.62 581.55H898.62M884.62 582.51H898.62M905.47 581.1V582.05M898.47 581.1H912.47M898.47 582.05H912.47M919.33 580.65V581.6M912.33 580.65H926.33M912.33 581.6H926.33M933.19 580.2V581.15M926.19 580.2H940.19M926.19 581.15H940.19M947.04 579.74V580.7M940.04 579.74H954.04M940.04 580.7H954.04M960.9 579.29V580.24M953.9 579.29H967.9M953.9 580.24H967.9M974.75 578.84V579.79M967.75 578.84H981.75M967.75 579.79H981.75M988.61 578.39V579.34M981.61 578.39H995.61M981.61 579.34H995.61M1002.46 577.93V578.89M995.46 577.93H1009.46M995.46 578.89H1009.46M1016.32 577.48V578.43M1009.32 577.48H1023.32M1009.32 578.43H1023.32M1030.18 577.03V577.98M1023.18 577.03H1037.18M1023.18 577.98H1037.18M1044.03 576.58V577.53M1037.03 576.58H1051.03M1037.03 577.53H1051.03M1057.89 576.12V577.08M1050.89 576.12H1064.89M1050.89 577.08H1064.89M1071.74 575.67V576.62M1064.74 575.67H1078.74M1064.74 576.62H1078.74M1085.6 575.35V576.31M1078.6 575.35H1092.6M1078.6 576.31H1092.6M1099.45 575.03V575.99M1092.45 575.03H1106.45M1092.45 575.99H1106.45M1113.31 574.71V575.67M1106.31 574.71H1120.31M1106.31 575.67H1120.31M1127.17 574.39V575.35M1120.17 574.39H1134.17M1120.17 575.35H1134.17M1141.02 574.08V575.03M1134.02 574.08H1148.02M1134.02 575.03H1148.02M1154.88 573.76V574.71M1147.88 573.76H1161.88M1147.88 574.71H1161.88M1168.73 573.44V574.39M1161.73 573.44H1175.73M1161.73 574.39H1175.73M1182.59 573.12V574.07M1175.59 573.12H1189.59M1175.59 574.07H1189.59M1196.44 572.8V573.75M1189.44 572.8H1203.44M1189.44 573.75H1203.44M1210.3 572.48V573.43M1203.3 572.48H1217.3M1203.3 573.43H1217.3" stroke="#ffa500" stroke-width="1" stroke-opacity="0.5" fill="none"/>
<g fill="#ffa500"><circle cx="254.26" cy="911.51" r="7"/><circle cx="268.11" cy="909.61" r="7"/><circle cx="281.97" cy="907.94" r="7"/><circle cx="295.82" cy="903.65" r="7"/><circle cx="309.68" cy="898.89" r="7"/><circle cx="323.53" cy="894.41" r="7"/><circle cx="337.39" cy="890.6" r="7"/><circle cx="351.25" cy="886.22" r="7"/><circle cx="365.1" cy="877.93" r="7"/><circle cx="378.96" cy="867.11" r="7"/><circle cx="392.81" cy="857.44" r="7"/><circle cx="406.67" cy="842.29" r="7"/><circle cx="420.52" cy="826.48" r="7"/><circle cx="434.38" cy="795.42" r="7"/><circle cx="448.24" cy="768.22" r="7"/><circle cx="462.09" cy="747.02" r="7"/><circle cx="475.95" cy="722.01" r="7"/><circle cx="489.8" cy="711.91" r="7"/><circle cx="503.66" cy="698.57" r="7"/><circle cx="517.51" cy="677.85" r="7"/><circle cx="531.37" cy="617.02" r="7"/><circle cx="545.23" cy="600.3" r="7"/><circle cx="559.08" cy="597.73" r="7"/><circle cx="572.94" cy="596.73" r="7"/><circle cx="586.79" cy="595.44" r="7"/><circle cx="600.65" cy="594.49" r="7"/><circle cx="614.5" cy="593.88" r="7"/><circle cx="628.36" cy="593.27" r="7"/><circle cx="642.22" cy="592.67" r="7"/><circle cx="656.07" cy="592.06" r="7"/><circle cx="669.93" cy="591.22" r="7"/><circle cx="683.78" cy="590.38" r="7"/><circle cx="697.64" cy="589.53" r="7"/><circle cx="711.49" cy="588.69" r="7"/><circle cx="725.35" cy="587.85" r="7"/><circle cx="739.21" cy="587.01" r="7"/><circle cx="753.06" cy="586.56" r="7"/><circle cx="766.92" cy="586.1" r="7"/><circle cx="780.77" cy="585.65" r="7"/><circle cx="794.63" cy="585.2" r="7"/><circle cx="808.48" cy="584.75" r="7"/><circle cx="822.34" cy="584.29" r="7"/><circle cx="836.2" cy="583.84" r="7"/><circle cx="850.05" cy="583.39" r="7"/><circle cx="863.91" cy="582.94" r="7"/><circle cx="877.76" cy="582.48" r="7"/><circle cx="891.62" cy="582.03" r="7"/><circle cx="905.47" cy="581.58" r="7"/><circle cx="919.33" cy="581.13" r="7"/><circle cx="933.19" cy="580.67" r="7"/><circle cx="947.04" cy="580.22" r="7"/><circle cx="960.9" cy="579.77" r="7"/><circle cx="974.75" cy="579.32" r="7"/><circle cx="988.61" cy="578.86" r="7"/><circle cx="1002.46" cy="578.41" r="7"/><circle cx="1016.32" cy="577.96" r="7"/><circle cx="1030.18" cy="577.51" r="7"/><circle cx="1044.03" cy="577.05" r="7"/><circle cx="1057.89" cy="576.6" r="7"/><circle cx="1071.74" cy="576.15" r="7"/><circle cx="1085.6" cy="575.83" r="7"/><circle cx="1099.45" cy="575.51" r="7"/><circle cx="1113.31" cy="575.19" r="7"/><circle cx="1127.17" cy="574.87" r="7"/><circle cx="1141.02" cy="574.55" r="7"/><circle cx="1154.88" cy="574.23" r="7"/><circle cx="1168.73" cy="573.91" r="7"/><circle cx="1182.59" cy="573.59" r="7"/><circle cx="1196.44" cy="573.28" r="7"/><circle cx="1210.3" cy="572.96" r="7"/></g>
<path d="M245.96 904.88L262.56 921.48M245.96 921.48L262.56 904.88M259.81 902.97L276.41 919.57M259.81 919.57L276.41 902.97M273.67 901.07L290.27 917.67M273.67 917.67L290.27 901.07M287.52 898.21L304.12 914.81M287.52 914.81L304.12 898.21M301.38 894.4L317.98 911M301.38 911L317.98 894.4M315.23 890.59L331.83 907.19M315.23 907.19L331.83 890.59M329.09 886.78L345.69 903.38M329.09 903.38L345.69 886.78M342.95 882.97L359.55 899.57M342.95 899.57L359.55 882.97M356.8 876.3L373.4 892.9M356.8 892.9L373.4 876.3M370.66 867.39L387.26 883.99M370.66 883.99L387.26 867.39M384.51 863.05L401.11 879.65M384.51 879.65L401.11 863.05M398.37 851.72L414.97 868.32M398.37 868.32L414.97 851.72M412.22 840.33L428.82 856.93M412.22 856.93L428.82 840.33M426.08 823.23L442.68 839.83M426.08 839.83L442.68 823.23M439.94 802.98L456.54 819.58M439.94 819.58L456.54 802.98M453.79 780.21L470.39 796.81M453.79 796.81L470.39 780.21M467.65 751.96L484.25 768.56M467.65 768.56L484.25 751.96M481.5 732.34L498.1 748.94M481.5 748.94L498.1 732.34M495.36 714.09L511.96 730.69M495.36 730.69L511.96 714.09M509.21 701.09L525.81 717.69M509.21 717.69L525.81 701.09M523.07 689.8L539.67 706.4M523.07 706.4L539.67 689.8M536.93 638.78L553.53 655.38M536.93 655.38L553.53 638.78M550.78 597.05L567.38 613.65M550.78 613.65L567.38 597.05M564.64 592L581.24 608.6M564.64 608.6L581.24 592M578.49 591.9L595.09 608.5M578.49 608.5L595.09 591.9M592.35 589.52L608.95 606.12M592.35 606.12L608.95 589.52M606.2 588.27L622.8 604.87M606.2 604.87L622.8 588.27M620.06 587.49L636.66 604.09M620.06 604.09L636.66 587.49M633.92 586.71L650.52 603.31M633.92 603.31L650.52 586.71M647.77 585.93L664.37 602.53M647.77 602.53L664.37 585.93M661.63 585.14L678.23 601.74M661.63 601.74L678.23 585.14M675.48 584.35L692.08 600.95M675.48 600.95L692.08 584.35M689.34 583.57L705.94 600.17M689.34 600.17L705.94 583.57M703.19 582.78L719.79 599.38M703.19 599.38L719.79 582.78M717.05 582L733.65 598.6M717.05 598.6L733.65 582M730.91 581.21L747.51 597.81M730.91 597.81L747.51 581.21M744.76 580.73L761.36 597.33M744.76 597.33L761.36 580.73M758.62 580.26L775.22 596.86M758.62 596.86L775.22 580.26M772.47 579.78L789.07 596.38M772.47 596.38L789.07 579.78M786.33 579.3L802.93 595.9M786.33 595.9L802.93 579.3M800.18 578.82L816.78 595.42M800.18 595.42L816.78 578.82M814.04 578.35L830.64 594.95M814.04 594.95L830.64 578.35M827.9 577.87L844.5 594.47M827.9 594.47L844.5 577.87M841.75 577.39L858.35 593.99M841.75 593.99L858.35 577.39M855.61 576.91L872.21 593.51M855.61 593.51L872.21 576.91M869.46 576.44L886.06 593.04M869.46 593.04L886.06 576.44M883.32 575.96L899.92 592.56M883.32 592.56L899.92 575.96M897.17 575.48L913.77 592.08M897.17 592.08L913.77 575.48M911.03 575L927.63 591.6M911.03 591.6L927.63 575M924.89 574.53L941.49 591.13M924.89 591.13L941.49 574.53M938.74 574.05L955.34 590.65M938.74 590.65L955.34 574.05M952.6 573.57L969.2 590.17M952.6 590.17L969.2 573.57M966.45 573.09L983.05 589.69M966.45 589.69L983.05 573.09M980.31 572.62L996.91 589.22M980.31 589.22L996.91 572.62M994.16 572.14L1010.76 588.74M994.16 588.74L1010.76 572.14M1008.02 571.66L1024.62 588.26M1008.02 588.26L1024.62 571.66M1021.88 571.19L1038.48 587.79M1021.88 587.79L1038.48 571.19M1035.73 570.71L1052.33 587.31M1035.73 587.31L1052.33 570.71M1049.59 570.23L1066.19 586.83M1049.59 586.83L1066.19 570.23M1063.44 569.75L1080.04 586.35M1063.44 586.35L1080.04 569.75M1077.3 569.44L1093.9 586.04M1077.3 586.04L1093.9 569.44M1091.15 569.12L1107.75 585.72M1091.15 585.72L1107.75 569.12M1105.01 568.81L1121.61 585.41M1105.01 585.41L1121.61 568.81M1118.87 568.5L1135.47 585.1M1118.87 585.1L1135.47 568.5M1132.72 568.18L1149.32 584.78M1132.72 584.78L1149.32 568.18M1146.58 567.87L1163.18 584.47M1146.58 584.47L1163.18 567.87M1160.43 567.55L1177.03 584.15M1160.43 584.15L1177.03 567.55M1174.29 567.24L1190.89 583.84M1174.29 583.84L1190.89 567.24M1188.14 566.92L1204.74 583.52M1188.14 583.52L1204.74 566.92M1202 566.61L1218.6 583.21M1202 583.21L1218.6 566.61" stroke="#000" stroke-width="0.9" stroke-opacity="0.5" fill="none"/>
<path d="M254.26 911.74V914.62M247.26 911.74H261.26M247.26 914.62H261.26M268.11 909.82V912.72M261.11 909.82H275.11M261.11 912.72H275.11M281.97 907.91V910.82M274.97 907.91H288.97M274.97 910.82H288.97M295.82 905.04V907.98M288.82 905.04H302.82M288.82 907.98H302.82M309.68 901.2V904.19M302.68 901.2H316.68M302.68 904.19H316.68M323.53 897.36V900.42M316.53 897.36H330.53M316.53 900.42H330.53M337.39 893.49V896.66M330.39 893.49H344.39M330.39 896.66H344.39M351.25 889.6V892.93M344.25 889.6H358.25M344.25 892.93H358.25M365.1 882.75V886.45M358.1 882.75H372.1M358.1 886.45H372.1M378.96 873.46V877.92M371.96 873.46H385.96M371.96 877.92H385.96M392.81 868.89V873.82M385.81 868.89H399.81M385.81 873.82H399.81M406.67 856.82V863.21M399.67 856.82H413.67M399.67 863.21H413.67M420.52 844.68V852.58M413.52 844.68H427.52M413.52 852.58H427.52M434.38 826.68V836.38M427.38 826.68H441.38M427.38 836.38H441.38M448.24 805.92V816.64M441.24 805.92H455.24M441.24 816.64H455.24M462.09 778.51V798.52M455.09 778.51H469.09M455.09 798.52H469.09M475.95 754.79V765.74M468.95 754.79H482.95M468.95 765.74H482.95M489.8 735.23V746.05M482.8 735.23H496.8M482.8 746.05H496.8M503.66 717.31V727.48M496.66 717.31H510.66M496.66 727.48H510.66M517.51 704.82V713.96M510.51 704.82H524.51M510.51 713.96H524.51M531.37 694.17V702.02M524.37 694.17H538.37M524.37 702.02H538.37M545.23 617.35V676.8M538.23 617.35H552.23M538.23 676.8H552.23M559.08 602.01V608.68M552.08 602.01H566.08M552.08 608.68H566.08M572.94 599.82V600.78M565.94 599.82H579.94M565.94 600.78H579.94M586.79 599.73V600.68M579.79 599.73H593.79M579.79 600.68H593.79M600.65 597.35V598.3M593.65 597.35H607.65M593.65 598.3H607.65M614.5 596.09V597.04M607.5 596.09H621.5M607.5 597.04H621.5M628.36 595.31V596.26M621.36 595.31H635.36M621.36 596.26H635.36M642.22 594.53V595.48M635.22 594.53H649.22M635.22 595.48H649.22M656.07 593.75V594.7M649.07 593.75H663.07M649.07 594.7H663.07M669.93 592.96V593.92M662.93 592.96H676.93M662.93 593.92H676.93M683.78 592.18V593.13M676.78 592.18H690.78M676.78 593.13H690.78M697.64 591.39V592.34M690.64 591.39H704.64M690.64 592.34H704.64M711.49 590.61V591.56M704.49 590.61H718.49M704.49 591.56H718.49M725.35 589.82V590.77M718.35 589.82H732.35M718.35 590.77H732.35M739.21 589.03V589.99M732.21 589.03H746.21M732.21 589.99H746.21M753.06 588.56V589.51M746.06 588.56H760.06M746.06 589.51H760.06M766.92 588.08V589.03M759.92 588.08H773.92M759.92 589.03H773.92M780.77 587.6V588.55M773.77 587.6H787.77M773.77 588.55H787.77M794.63 587.12V588.08M787.63 587.12H801.63M787.63 588.08H801.63M808.48 586.65V587.6M801.48 586.65H815.48M801.48 587.6H815.48M822.34 586.17V587.12M815.34 586.17H829.34M815.34 587.12H829.34M836.2 585.69V586.64M829.2 585.69H843.2M829.2 586.64H843.2M850.05 585.21V586.17M843.05 585.21H857.05M843.05 586.17H857.05M863.91 584.74V585.69M856.91 584.74H870.91M856.91 585.69H870.91M877.76 584.26V585.21M870.76 584.26H884.76M870.76 585.21H884.76M891.62 583.78V584.74M884.62 583.78H898.62M884.62 584.74H898.62M905.47 583.31V584.26M898.47 583.31H912.47M898.47 584.26H912.47M919.33 582.83V583.78M912.33 582.83H926.33M912.33 583.78H926.33M933.19 582.35V583.3M926.19 582.35H940.19M926.19 583.3H940.19M947.04 581.87V582.83M940.04 581.87H954.04M940.04 582.83H954.04M960.9 581.4V582.35M953.9 581.4H967.9M953.9 582.35H967.9M974.75 580.92V581.87M967.75 580.92H981.75M967.75 581.87H981.75M988.61 580.44V581.39M981.61 580.44H995.61M981.61 581.39H995.61M1002.46 579.96V580.92M995.46 579.96H1009.46M995.46 580.92H1009.46M1016.32 579.49V580.44M1009.32 579.49H1023.32M1009.32 580.44H1023.32M1030.18 579.01V579.96M1023.18 579.01H1037.18M1023.18 579.96H1037.18M1044.03 578.53V579.48M1037.03 578.53H1051.03M1037.03 579.48H1051.03M1057.89 578.05V579.01M1050.89 578.05H1064.89M1050.89 579.01H1064.89M1071.74 577.58V578.53M1064.74 577.58H1078.74M1064.74 578.53H1078.74M1085.6 577.26V578.22M1078.6 577.26H1092.6M1078.6 578.22H1092.6M1099.45 576.95V577.9M1092.45 576.95H1106.45M1092.45 577.9H1106.45M1113.31 576.63V577.59M1106.31 576.63H1120.31M1106.31 577.59H1120.31M1127.17 576.32V577.27M1120.17 576.32H1134.17M1120.17 577.27H1134.17M1141.02 576.01V576.96M1134.02 576.01H1148.02M1134.02 576.96H1148.02M1154.88 575.69V576.64M1147.88 575.69H1161.88M1147.88 576.64H1161.88M1168.73 575.38V576.33M1161.73 575.38H1175.73M1161.73 576.33H1175.73M1182.59 575.06V576.01M1175.59 575.06H1189.59M1175.59 576.01H1189.59M1196.44 574.75V575.7M1189.44 574.75H1203.44M1189.44 575.7H1203.44M1210.3 574.43V575.39M1203.3 574.43H1217.3M1203.3 575.39H1217.3" stroke="#ff0000" stroke-width="1" stroke-opacity="0.32" fill="none"/>
<path d="M246.86 905.78L261.66 920.58M246.86 920.58L261.66 905.78M260.71 903.87L275.51 918.67M260.71 918.67L275.51 903.87M274.57 901.97L289.37 916.77M274.57 916.77L289.37 901.97M288.42 899.11L303.22 913.91M288.42 913.91L303.22 899.11M302.28 895.3L317.08 910.1M302.28 910.1L317.08 895.3M316.13 891.49L330.93 906.29M316.13 906.29L330.93 891.49M329.99 887.68L344.79 902.48M329.99 902.48L344.79 887.68M343.85 883.87L358.65 898.67M343.85 898.67L358.65 883.87M357.7 877.2L372.5 892M357.7 892L372.5 877.2M371.56 868.29L386.36 883.09M371.56 883.09L386.36 868.29M385.41 863.95L400.21 878.75M385.41 878.75L400.21 863.95M399.27 852.62L414.07 867.42M399.27 867.42L414.07 852.62M413.12 841.23L427.92 856.03M413.12 856.03L427.92 841.23M426.98 824.13L441.78 838.93M426.98 838.93L441.78 824.13M440.84 803.88L455.64 818.68M440.84 818.68L455.64 803.88M454.69 781.11L469.49 795.91M454.69 795.91L469.49 781.11M468.55 752.86L483.35 767.66M468.55 767.66L483.35 752.86M482.4 733.24L497.2 748.04M482.4 748.04L497.2 733.24M496.26 714.99L511.06 729.79M496.26 729.79L511.06 714.99M510.11 701.99L524.91 716.79M510.11 716.79L524.91 701.99M523.97 690.7L538.77 705.5M523.97 705.5L538.77 690.7M537.83 639.68L552.63 654.48M537.83 654.48L552.63 639.68M551.68 597.95L566.48 612.75M551.68 612.75L566.48 597.95M565.54 592.9L580.34 607.7M565.54 607.7L580.34 592.9M579.39 592.8L594.19 607.6M579.39 607.6L594.19 592.8M593.25 590.42L608.05 605.22M593.25 605.22L608.05 590.42M607.1 589.17L621.9 603.97M607.1 603.97L621.9 589.17M620.96 588.39L635.76 603.19M620.96 603.19L635.76 588.39M634.82 587.61L649.62 602.41M634.82 602.41L649.62 587.61M648.67 586.83L663.47 601.63M648.67 601.63L663.47 586.83M662.53 586.04L677.33 600.84M662.53 600.84L677.33 586.04M676.38 585.25L691.18 600.05M676.38 600.05L691.18 585.25M690.24 584.47L705.04 599.27M690.24 599.27L705.04 584.47M704.09 583.68L718.89 598.48M704.09 598.48L718.89 583.68M717.95 582.9L732.75 597.7M717.95 597.7L732.75 582.9M731.81 582.11L746.61 596.91M731.81 596.91L746.61 582.11M745.66 581.63L760.46 596.43M745.66 596.43L760.46 581.63M759.52 581.16L774.32 595.96M759.52 595.96L774.32 581.16M773.37 580.68L788.17 595.48M773.37 595.48L788.17 580.68M787.23 580.2L802.03 595M787.23 595L802.03 580.2M801.08 579.72L815.88 594.52M801.08 594.52L815.88 579.72M814.94 579.25L829.74 594.05M814.94 594.05L829.74 579.25M828.8 578.77L843.6 593.57M828.8 593.57L843.6 578.77M842.65 578.29L857.45 593.09M842.65 593.09L857.45 578.29M856.51 577.81L871.31 592.61M856.51 592.61L871.31 577.81M870.36 577.34L885.16 592.14M870.36 592.14L885.16 577.34M884.22 576.86L899.02 591.66M884.22 591.66L899.02 576.86M898.07 576.38L912.87 591.18M898.07 591.18L912.87 576.38M911.93 575.9L926.73 590.7M911.93 590.7L926.73 575.9M925.79 575.43L940.59 590.23M925.79 590.23L940.59 575.43M939.64 574.95L954.44 589.75M939.64 589.75L954.44 574.95M953.5 574.47L968.3 589.27M953.5 589.27L968.3 574.47M967.35 573.99L982.15 588.79M967.35 588.79L982.15 573.99M981.21 573.52L996.01 588.32M981.21 588.32L996.01 573.52M995.06 573.04L1009.86 587.84M995.06 587.84L1009.86 573.04M1008.92 572.56L1023.72 587.36M1008.92 587.36L1023.72 572.56M1022.78 572.09L1037.58 586.89M1022.78 586.89L1037.58 572.09M1036.63 571.61L1051.43 586.41M1036.63 586.41L1051.43 571.61M1050.49 571.13L1065.29 585.93M1050.49 585.93L1065.29 571.13M1064.34 570.65L1079.14 585.45M1064.34 585.45L1079.14 570.65M1078.2 570.34L1093 585.14M1078.2 585.14L1093 570.34M1092.05 570.02L1106.85 584.82M1092.05 584.82L1106.85 570.02M1105.91 569.71L1120.71 584.51M1105.91 584.51L1120.71 569.71M1119.77 569.4L1134.57 584.2M1119.77 584.2L1134.57 569.4M1133.62 569.08L1148.42 583.88M1133.62 583.88L1148.42 569.08M1147.48 568.77L1162.28 583.57M1147.48 583.57L1162.28 568.77M1161.33 568.45L1176.13 583.25M1161.33 583.25L1176.13 568.45M1175.19 568.14L1189.99 582.94M1175.19 582.94L1189.99 568.14M1189.04 567.82L1203.84 582.62M1189.04 582.62L1203.84 567.82M1202.9 567.51L1217.7 582.31M1202.9 582.31L1217.7 567.51" stroke="#ff0000" stroke-width="0.9" stroke-opacity="0.78" fill="none"/>
<path d="M254.26 904.98V921.38M246.06 913.18H262.46M268.11 903.07V919.47M259.91 911.27H276.31M281.97 901.17V917.57M273.77 909.37H290.17M295.82 898.31V914.71M287.62 906.51H304.02M309.68 894.5V910.9M301.48 902.7H317.88M323.53 890.69V907.09M315.33 898.89H331.73M337.39 886.88V903.28M329.19 895.08H345.59M351.25 883.07V899.47M343.05 891.27H359.45M365.1 876.4V892.8M356.9 884.6H373.3M378.96 867.49V883.89M370.76 875.69H387.16M392.81 863.15V879.55M384.61 871.35H401.01M406.67 851.82V868.22M398.47 860.02H414.87M420.52 840.43V856.83M412.32 848.63H428.72M434.38 823.33V839.73M426.18 831.53H442.58M448.24 803.08V819.48M440.04 811.28H456.44M462.09 780.31V796.71M453.89 788.51H470.29M475.95 752.06V768.46M467.75 760.26H484.15M489.8 732.44V748.84M481.6 740.64H498M503.66 714.19V730.59M495.46 722.39H511.86M517.51 701.19V717.59M509.31 709.39H525.71M531.37 689.9V706.3M523.17 698.1H539.57M545.23 638.88V655.28M537.03 647.08H553.43M559.08 597.15V613.55M550.88 605.35H567.28M572.94 592.1V608.5M564.74 600.3H581.14M586.79 592V608.4M578.59 600.2H594.99M600.65 589.62V606.02M592.45 597.82H608.85M614.5 588.37V604.77M606.3 596.57H622.7M628.36 587.59V603.99M620.16 595.79H636.56M642.22 586.81V603.21M634.02 595.01H650.42M656.07 586.03V602.43M647.87 594.23H664.27M669.93 585.24V601.64M661.73 593.44H678.13M683.78 584.45V600.85M675.58 592.65H691.98M697.64 583.67V600.07M689.44 591.87H705.84M711.49 582.88V599.28M703.29 591.08H719.69M725.35 582.1V598.5M717.15 590.3H733.55M739.21 581.31V597.71M731.01 589.51H747.41M753.06 580.83V597.23M744.86 589.03H761.26M766.92 580.36V596.76M758.72 588.56H775.12M780.77 579.88V596.28M772.57 588.08H788.97M794.63 579.4V595.8M786.43 587.6H802.83M808.48 578.92V595.32M800.28 587.12H816.68M822.34 578.45V594.85M814.14 586.65H830.54M836.2 577.97V594.37M828 586.17H844.4M850.05 577.49V593.89M841.85 585.69H858.25M863.91 577.01V593.41M855.71 585.21H872.11M877.76 576.54V592.94M869.56 584.74H885.96M891.62 576.06V592.46M883.42 584.26H899.82M905.47 575.58V591.98M897.27 583.78H913.67M919.33 575.1V591.5M911.13 583.3H927.53M933.19 574.63V591.03M924.99 582.83H941.39M947.04 574.15V590.55M938.84 582.35H955.24M960.9 573.67V590.07M952.7 581.87H969.1M974.75 573.19V589.59M966.55 581.39H982.95M988.61 572.72V589.12M980.41 580.92H996.81M1002.46 572.24V588.64M994.26 580.44H1010.66M1016.32 571.76V588.16M1008.12 579.96H1024.52M1030.18 571.29V587.69M1021.98 579.49H1038.38M1044.03 570.81V587.21M1035.83 579.01H1052.23M1057.89 570.33V586.73M1049.69 578.53H1066.09M1071.74 569.85V586.25M1063.54 578.05H1079.94M1085.6 569.54V585.94M1077.4 577.74H1093.8M1099.45 569.22V585.62M1091.25 577.42H1107.65M1113.31 568.91V585.31M1105.11 577.11H1121.51M1127.17 568.6V585M1118.97 576.8H1135.37M1141.02 568.28V584.68M1132.82 576.48H1149.22M1154.88 567.97V584.37M1146.68 576.17H1163.08M1168.73 567.65V584.05M1160.53 575.85H1176.93M1182.59 567.34V583.74M1174.39 575.54H1190.79M1196.44 567.02V583.42M1188.24 575.22H1204.64M1210.3 566.71V583.11M1202.1 574.91H1218.5" stroke="#ff0000" stroke-width="1" stroke-opacity="0.5" fill="none"/>
<path d="M246.06 907.6h16.4v16.4h-16.4ZM259.91 905.45h16.4v16.4h-16.4ZM273.77 903.22h16.4v16.4h-16.4ZM287.62 900.21h16.4v16.4h-16.4ZM301.48 897.02h16.4v16.4h-16.4ZM315.33 894.5h16.4v16.4h-16.4ZM329.19 892.59h16.4v16.4h-16.4ZM343.05 888.78h16.4v16.4h-16.4ZM356.9 884.3h16.4v16.4h-16.4ZM370.76 880.54h16.4v16.4h-16.4ZM384.61 874.21h16.4v16.4h-16.4ZM398.47 868.63h16.4v16.4h-16.4ZM412.32 860.39h16.4v16.4h-16.4ZM426.18 845.19h16.4v16.4h-16.4ZM440.04 832.62h16.4v16.4h-16.4ZM453.89 816.61h16.4v16.4h-16.4ZM467.75 793.32h16.4v16.4h-16.4ZM481.6 768.55h16.4v16.4h-16.4ZM495.46 746.59h16.4v16.4h-16.4ZM509.31 728.25h16.4v16.4h-16.4ZM523.17 713.72h16.4v16.4h-16.4ZM537.03 700.43h16.4v16.4h-16.4ZM550.88 678.42h16.4v16.4h-16.4ZM564.74 620.82h16.4v16.4h-16.4ZM578.59 596.77h16.4v16.4h-16.4ZM592.45 592.96h16.4v16.4h-16.4ZM606.3 591.05h16.4v16.4h-16.4ZM620.16 590.1h16.4v16.4h-16.4ZM634.02 589.15h16.4v16.4h-16.4ZM647.87 588.19h16.4v16.4h-16.4ZM661.73 587.46h16.4v16.4h-16.4ZM675.58 586.73h16.4v16.4h-16.4ZM689.44 586h16.4v16.4h-16.4ZM703.29 585.27h16.4v16.4h-16.4ZM717.15 584.54h16.4v16.4h-16.4ZM731.01 583.81h16.4v16.4h-16.4ZM744.86 583.31h16.4v16.4h-16.4ZM758.72 582.81h16.4v16.4h-16.4ZM772.57 582.3h16.4v16.4h-16.4ZM786.43 581.8h16.4v16.4h-16.4ZM800.28 581.3h16.4v16.4h-16.4ZM814.14 580.8h16.4v16.4h-16.4ZM828 580.3h16.4v16.4h-16.4ZM841.85 579.79h16.4v16.4h-16.4ZM855.71 579.29h16.4v16.4h-16.4ZM869.56 578.79h16.4v16.4h-16.4ZM883.42 578.29h16.4v16.4h-16.4ZM897.27 577.78h16.4v16.4h-16.4ZM911.13 577.28h16.4v16.4h-16.4ZM924.99 576.78h16.4v16.4h-16.4ZM938.84 576.28h16.4v16.4h-16.4ZM952.7 575.78h16.4v16.4h-16.4ZM966.55 575.27h16.4v16.4h-16.4ZM980.41 574.77h16.4v16.4h-16.4ZM994.26 574.27h16.4v16.4h-16.4ZM1008.12 573.77h16.4v16.4h-16.4ZM1021.98 573.27h16.4v16.4h-16.4ZM1035.83 572.76h16.4v16.4h-16.4ZM1049.69 572.26h16.4v16.4h-16.4ZM1063.54 571.76h16.4v16.4h-16.4ZM1077.4 571.45h16.4v16.4h-16.4ZM1091.25 571.14h16.4v16.4h-16.4ZM1105.11 570.83h16.4v16.4h-16.4ZM1118.97 570.52h16.4v16.4h-16.4ZM1132.82 570.21h16.4v16.4h-16.4ZM1146.68 569.9h16.4v16.4h-16.4ZM1160.53 569.59h16.4v16.4h-16.4ZM1174.39 569.28h16.4v16.4h-16.4ZM1188.24 568.97h16.4v16.4h-16.4ZM1202.1 568.66h16.4v16.4h-16.4Z" fill="#000"/>
<path d="M254.26 914.36V917.24M247.26 914.36H261.26M247.26 917.24H261.26M268.11 912.21V915.1M261.11 912.21H275.11M261.11 915.1H275.11M281.97 909.97V912.86M274.97 909.97H288.97M274.97 912.86H288.97M295.82 906.96V909.87M288.82 906.96H302.82M288.82 909.87H302.82M309.68 903.75V906.7M302.68 903.75H316.68M302.68 906.7H316.68M323.53 901.2V904.19M316.53 901.2H330.53M316.53 904.19H330.53M337.39 899.28V902.3M330.39 899.28H344.39M330.39 902.3H344.39M351.25 895.42V898.54M344.25 895.42H358.25M344.25 898.54H358.25M365.1 890.87V894.14M358.1 890.87H372.1M358.1 894.14H372.1M378.96 887.02V890.47M371.96 887.02H385.96M371.96 890.47H385.96M392.81 880.47V884.34M385.81 880.47H399.81M385.81 884.34H399.81M406.67 874.66V879.01M399.67 874.66H413.67M399.67 879.01H413.67M420.52 865.96V871.22M413.52 865.96H427.52M413.52 871.22H427.52M434.38 849.75V857.04M427.38 849.75H441.38M427.38 857.04H441.38M448.24 836.4V845.23M441.24 836.4H455.24M441.24 845.23H455.24M462.09 819.73V829.9M455.09 819.73H469.09M455.09 829.9H469.09M475.95 796.08V806.96M468.95 796.08H482.95M468.95 806.96H482.95M489.8 771.27V782.22M482.8 771.27H496.8M482.8 782.22H496.8M503.66 749.32V760.26M496.66 749.32H510.66M496.66 760.26H510.66M517.51 731.08V741.81M510.51 731.08H524.51M510.51 741.81H524.51M531.37 716.85V726.99M524.37 716.85H538.37M524.37 726.99H538.37M545.23 704.09V713.16M538.23 704.09H552.23M538.23 713.16H552.23M559.08 671.14V702.1M552.08 671.14H566.08M552.08 702.1H566.08M572.94 604.44V653.61M565.94 604.44H579.94M565.94 653.61H579.94M586.79 604.49V605.44M579.79 604.49H593.79M579.79 605.44H593.79M600.65 600.68V601.63M593.65 600.68H607.65M593.65 601.63H607.65M614.5 598.78V599.73M607.5 598.78H621.5M607.5 599.73H621.5M628.36 597.82V598.78M621.36 597.82H635.36M621.36 598.78H635.36M642.22 596.87V597.82M635.22 596.87H649.22M635.22 597.82H649.22M656.07 595.92V596.87M649.07 595.92H663.07M649.07 596.87H663.07M669.93 595.19V596.14M662.93 595.19H676.93M662.93 596.14H676.93M683.78 594.46V595.41M676.78 594.46H690.78M676.78 595.41H690.78M697.64 593.73V594.68M690.64 593.73H704.64M690.64 594.68H704.64M711.49 593V593.95M704.49 593H718.49M704.49 593.95H718.49M725.35 592.27V593.22M718.35 592.27H732.35M718.35 593.22H732.35M739.21 591.53V592.49M732.21 591.53H746.21M732.21 592.49H746.21M753.06 591.03V591.99M746.06 591.03H760.06M746.06 591.99H760.06M766.92 590.53V591.48M759.92 590.53H773.92M759.92 591.48H773.92M780.77 590.03V590.98M773.77 590.03H787.77M773.77 590.98H787.77M794.63 589.53V590.48M787.63 589.53H801.63M787.63 590.48H801.63M808.48 589.02V589.98M801.48 589.02H815.48M801.48 589.98H815.48M822.34 588.52V589.47M815.34 588.52H829.34M815.34 589.47H829.34M836.2 588.02V588.97M829.2 588.02H843.2M829.2 588.97H843.2M850.05 587.52V588.47M843.05 587.52H857.05M843.05 588.47H857.05M863.91 587.02V587.97M856.91 587.02H870.91M856.91 587.97H870.91M877.76 586.51V587.47M870.76 586.51H884.76M870.76 587.47H884.76M891.62 586.01V586.96M884.62 586.01H898.62M884.62 586.96H898.62M905.47 585.51V586.46M898.47 585.51H912.47M898.47 586.46H912.47M919.33 585.01V585.96M912.33 585.01H926.33M912.33 585.96H926.33M933.19 584.5V585.46M926.19 584.5H940.19M926.19 585.46H940.19M947.04 584V584.95M940.04 584H954.04M940.04 584.95H954.04M960.9 583.5V584.45M953.9 583.5H967.9M953.9 584.45H967.9M974.75 583V583.95M967.75 583H981.75M967.75 583.95H981.75M988.61 582.5V583.45M981.61 582.5H995.61M981.61 583.45H995.61M1002.46 581.99V582.95M995.46 581.99H1009.46M995.46 582.95H1009.46M1016.32 581.49V582.44M1009.32 581.49H1023.32M1009.32 582.44H1023.32M1030.18 580.99V581.94M1023.18 580.99H1037.18M1023.18 581.94H1037.18M1044.03 580.49V581.44M1037.03 580.49H1051.03M1037.03 581.44H1051.03M1057.89 579.98V580.94M1050.89 579.98H1064.89M1050.89 580.94H1064.89M1071.74 579.48V580.44M1064.74 579.48H1078.74M1064.74 580.44H1078.74M1085.6 579.17V580.13M1078.6 579.17H1092.6M1078.6 580.13H1092.6M1099.45 578.86V579.82M1092.45 578.86H1106.45M1092.45 579.82H1106.45M1113.31 578.55V579.51M1106.31 578.55H1120.31M1106.31 579.51H1120.31M1127.17 578.24V579.2M1120.17 578.24H1134.17M1120.17 579.2H1134.17M1141.02 577.93V578.89M1134.02 577.93H1148.02M1134.02 578.89H1148.02M1154.88 577.62V578.58M1147.88 577.62H1161.88M1147.88 578.58H1161.88M1168.73 577.32V578.27M1161.73 577.32H1175.73M1161.73 578.27H1175.73M1182.59 577.01V577.96M1175.59 577.01H1189.59M1175.59 577.96H1189.59M1196.44 576.7V577.65M1189.44 576.7H1203.44M1189.44 577.65H1203.44M1210.3 576.39V577.34M1203.3 576.39H1217.3M1203.3 577.34H1217.3" stroke="#0000ff" stroke-width="1" stroke-opacity="0.38" fill="none"/>
<path d="M247.26 908.8h14v14h-14ZM261.11 906.65h14v14h-14ZM274.97 904.42h14v14h-14ZM288.82 901.41h14v14h-14ZM302.68 898.22h14v14h-14ZM316.53 895.7h14v14h-14ZM330.39 893.79h14v14h-14ZM344.25 889.98h14v14h-14ZM358.1 885.5h14v14h-14ZM371.96 881.74h14v14h-14ZM385.81 875.41h14v14h-14ZM399.67 869.83h14v14h-14ZM413.52 861.59h14v14h-14ZM427.38 846.39h14v14h-14ZM441.24 833.82h14v14h-14ZM455.09 817.81h14v14h-14ZM468.95 794.52h14v14h-14ZM482.8 769.75h14v14h-14ZM496.66 747.79h14v14h-14ZM510.51 729.45h14v14h-14ZM524.37 714.92h14v14h-14ZM538.23 701.63h14v14h-14ZM552.08 679.62h14v14h-14ZM565.94 622.02h14v14h-14ZM579.79 597.97h14v14h-14ZM593.65 594.16h14v14h-14ZM607.5 592.25h14v14h-14ZM621.36 591.3h14v14h-14ZM635.22 590.35h14v14h-14ZM649.07 589.39h14v14h-14ZM662.93 588.66h14v14h-14ZM676.78 587.93h14v14h-14ZM690.64 587.2h14v14h-14ZM704.49 586.47h14v14h-14ZM718.35 585.74h14v14h-14ZM732.21 585.01h14v14h-14ZM746.06 584.51h14v14h-14ZM759.92 584.01h14v14h-14ZM773.77 583.5h14v14h-14ZM787.63 583h14v14h-14ZM801.48 582.5h14v14h-14ZM815.34 582h14v14h-14ZM829.2 581.5h14v14h-14ZM843.05 580.99h14v14h-14ZM856.91 580.49h14v14h-14ZM870.76 579.99h14v14h-14ZM884.62 579.49h14v14h-14ZM898.47 578.98h14v14h-14ZM912.33 578.48h14v14h-14ZM926.19 577.98h14v14h-14ZM940.04 577.48h14v14h-14ZM953.9 576.98h14v14h-14ZM967.75 576.47h14v14h-14ZM981.61 575.97h14v14h-14ZM995.46 575.47h14v14h-14ZM1009.32 574.97h14v14h-14ZM1023.18 574.47h14v14h-14ZM1037.03 573.96h14v14h-14ZM1050.89 573.46h14v14h-14ZM1064.74 572.96h14v14h-14ZM1078.6 572.65h14v14h-14ZM1092.45 572.34h14v14h-14ZM1106.31 572.03h14v14h-14ZM1120.17 571.72h14v14h-14ZM1134.02 571.41h14v14h-14ZM1147.88 571.1h14v14h-14ZM1161.73 570.79h14v14h-14ZM1175.59 570.48h14v14h-14ZM1189.44 570.17h14v14h-14ZM1203.3 569.86h14v14h-14Z" fill="#0000ff"/>
<path d="M254.26 906.65L262.51 920.02L246.01 920.02ZM268.11 903.8L276.36 917.16L259.86 917.16ZM281.97 904.65L290.22 918.02L273.72 918.02ZM295.82 899.37L304.07 912.73L287.57 912.73ZM309.68 897.27L317.93 910.63L301.43 910.63ZM323.53 896.84L331.78 910.21L315.28 910.21ZM337.39 894.94L345.64 908.3L329.14 908.3ZM351.25 892.41L359.5 905.78L343 905.78ZM365.1 888.6L373.35 901.96L356.85 901.96ZM378.96 886.07L387.21 899.44L370.71 899.44ZM392.81 882.93L401.06 896.3L384.56 896.3ZM406.67 877.26L414.92 890.63L398.42 890.63ZM420.52 871.07L428.77 884.43L412.27 884.43ZM434.38 863.45L442.63 876.81L426.13 876.81ZM448.24 850.78L456.49 864.14L439.99 864.14ZM462.09 839.39L470.34 852.76L453.84 852.76ZM475.95 823.58L484.2 836.94L467.7 836.94ZM489.8 805.19L498.05 818.55L481.55 818.55ZM503.66 786.56L511.91 799.93L495.41 799.93ZM517.51 764.51L525.76 777.87L509.26 777.87ZM531.37 743.83L539.62 757.2L523.12 757.2ZM545.23 729.64L553.48 743L536.98 743ZM559.08 713.39L567.33 726.76L550.83 726.76ZM572.94 699.48L581.19 712.85L564.69 712.85ZM586.79 681.81L595.04 695.17L578.54 695.17ZM600.65 615.74L608.9 629.1L592.4 629.1ZM614.5 598.25L622.75 611.62L606.25 611.62ZM628.36 594.44L636.61 607.81L620.11 607.81ZM642.22 593.44L650.47 606.81L633.97 606.81ZM656.07 591.92L664.32 605.28L647.82 605.28ZM669.93 591.3L678.18 604.66L661.68 604.66ZM683.78 590.63L692.03 604L675.53 604ZM697.64 589.63L705.89 603L689.39 603ZM711.49 588.77L719.74 602.14L703.24 602.14ZM725.35 588.11L733.6 601.47L717.1 601.47ZM739.21 587.49L747.46 600.85L730.96 600.85ZM753.06 586.94L761.31 600.31L744.81 600.31ZM766.92 586.4L775.17 599.76L758.67 599.76ZM780.77 585.86L789.02 599.22L772.52 599.22ZM794.63 585.31L802.88 598.68L786.38 598.68ZM808.48 584.77L816.73 598.13L800.23 598.13ZM822.34 584.22L830.59 597.59L814.09 597.59ZM836.2 583.68L844.45 597.05L827.95 597.05ZM850.05 583.14L858.3 596.5L841.8 596.5ZM863.91 582.59L872.16 595.96L855.66 595.96ZM877.76 582.05L886.01 595.41L869.51 595.41ZM891.62 581.5L899.87 594.87L883.37 594.87ZM905.47 580.96L913.72 594.33L897.22 594.33ZM919.33 580.33L927.58 593.69L911.08 593.69ZM933.19 579.69L941.44 593.06L924.94 593.06ZM947.04 579.06L955.29 592.42L938.79 592.42ZM960.9 578.42L969.15 591.79L952.65 591.79ZM974.75 577.78L983 591.15L966.5 591.15ZM988.61 577.15L996.86 590.51L980.36 590.51ZM1002.46 576.51L1010.71 589.88L994.21 589.88ZM1016.32 575.88L1024.57 589.24L1008.07 589.24ZM1030.18 575.24L1038.43 588.61L1021.93 588.61ZM1044.03 574.61L1052.28 587.97L1035.78 587.97ZM1057.89 573.97L1066.14 587.34L1049.64 587.34ZM1071.74 573.34L1079.99 586.7L1063.49 586.7ZM1085.6 573.05L1093.85 586.42L1077.35 586.42ZM1099.45 572.77L1107.7 586.13L1091.2 586.13ZM1113.31 572.48L1121.56 585.85L1105.06 585.85ZM1127.17 572.2L1135.42 585.56L1118.92 585.56ZM1141.02 571.91L1149.27 585.27L1132.77 585.27ZM1154.88 571.62L1163.13 584.99L1146.63 584.99ZM1168.73 571.34L1176.98 584.7L1160.48 584.7ZM1182.59 571.05L1190.84 584.42L1174.34 584.42ZM1196.44 570.77L1204.69 584.13L1188.19 584.13ZM1210.3 570.48L1218.55 583.85L1202.05 583.85Z" fill="#000"/>
<path d="M254.26 914.46V917.33M247.26 914.46H261.26M247.26 917.33H261.26M268.11 911.59V914.48M261.11 911.59H275.11M261.11 914.48H275.11M281.97 912.45V915.33M274.97 912.45H288.97M274.97 915.33H288.97M295.82 907.15V910.06M288.82 907.15H302.82M288.82 910.06H302.82M309.68 905.04V907.98M302.68 905.04H316.68M302.68 907.98H316.68M323.53 904.61V907.55M316.53 904.61H330.53M316.53 907.55H330.53M337.39 902.69V905.66M330.39 902.69H344.39M330.39 905.66H344.39M351.25 900.15V903.15M344.25 900.15H358.25M344.25 903.15H358.25M365.1 896.29V899.38M358.1 896.29H372.1M358.1 899.38H372.1M378.96 893.73V896.9M371.96 893.73H385.96M371.96 896.9H385.96M392.81 890.53V893.81M385.81 890.53H399.81M385.81 893.81H399.81M406.67 884.71V888.29M399.67 884.71H413.67M399.67 888.29H413.67M420.52 878.29V882.32M413.52 878.29H427.52M413.52 882.32H427.52M434.38 870.3V875.08M427.38 870.3H441.38M427.38 875.08H441.38M448.24 856.82V863.21M441.24 856.82H455.24M441.24 863.21H455.24M462.09 844.68V852.58M455.09 844.68H469.09M455.09 852.58H469.09M475.95 828.01V837.62M468.95 828.01H482.95M468.95 837.62H482.95M489.8 809.11V819.74M482.8 809.11H496.8M482.8 819.74H496.8M503.66 790.34V801.27M496.66 790.34H510.66M496.66 801.27H510.66M517.51 768.27V779.22M510.51 768.27H524.51M510.51 779.22H524.51M531.37 744.5V761.65M524.37 744.5H538.37M524.37 761.65H538.37M545.23 733.48V744.27M538.23 733.48H552.23M538.23 744.27H552.23M559.08 717.54V727.72M552.08 717.54H566.08M552.08 727.72H566.08M572.94 704.18V713.26M565.94 704.18H579.94M565.94 713.26H579.94M586.79 682.95V699.15M579.79 682.95H593.79M579.79 699.15H593.79M600.65 612.11V637.84M593.65 612.11H607.65M593.65 637.84H607.65M614.5 606.54V608.45M607.5 606.54H621.5M607.5 608.45H621.5M628.36 602.73V604.63M621.36 602.73H635.36M621.36 604.63H635.36M642.22 601.73V603.63M635.22 601.73H649.22M635.22 603.63H649.22M656.07 600.2V602.11M649.07 600.2H663.07M649.07 602.11H663.07M669.93 599.59V601.49M662.93 599.59H676.93M662.93 601.49H676.93M683.78 598.92V600.82M676.78 598.92H690.78M676.78 600.82H690.78M697.64 597.92V599.82M690.64 597.92H704.64M690.64 599.82H704.64M711.49 597.06V598.97M704.49 597.06H718.49M704.49 598.97H718.49M725.35 596.39V598.3M718.35 596.39H732.35M718.35 598.3H732.35M739.21 595.77V597.68M732.21 595.77H746.21M732.21 597.68H746.21M753.06 595.23V597.14M746.06 595.23H760.06M746.06 597.14H760.06M766.92 594.69V596.59M759.92 594.69H773.92M759.92 596.59H773.92M780.77 594.14V596.05M773.77 594.14H787.77M773.77 596.05H787.77M794.63 593.6V595.5M787.63 593.6H801.63M787.63 595.5H801.63M808.48 593.06V594.96M801.48 593.06H815.48M801.48 594.96H815.48M822.34 592.51V594.42M815.34 592.51H829.34M815.34 594.42H829.34M836.2 591.97V593.87M829.2 591.97H843.2M829.2 593.87H843.2M850.05 591.42V593.33M843.05 591.42H857.05M843.05 593.33H857.05M863.91 590.88V592.79M856.91 590.88H870.91M856.91 592.79H870.91M877.76 590.34V592.24M870.76 590.34H884.76M870.76 592.24H884.76M891.62 589.79V591.7M884.62 589.79H898.62M884.62 591.7H898.62M905.47 589.25V591.15M898.47 589.25H912.47M898.47 591.15H912.47M919.33 588.61V590.52M912.33 588.61H926.33M912.33 590.52H926.33M933.19 587.98V589.88M926.19 587.98H940.19M926.19 589.88H940.19M947.04 587.34V589.25M940.04 587.34H954.04M940.04 589.25H954.04M960.9 586.71V588.61M953.9 586.71H967.9M953.9 588.61H967.9M974.75 586.07V587.98M967.75 586.07H981.75M967.75 587.98H981.75M988.61 585.44V587.34M981.61 585.44H995.61M981.61 587.34H995.61M1002.46 584.8V586.71M995.46 584.8H1009.46M995.46 586.71H1009.46M1016.32 584.17V586.07M1009.32 584.17H1023.32M1009.32 586.07H1023.32M1030.18 583.53V585.44M1023.18 583.53H1037.18M1023.18 585.44H1037.18M1044.03 582.9V584.8M1037.03 582.9H1051.03M1037.03 584.8H1051.03M1057.89 582.26V584.17M1050.89 582.26H1064.89M1050.89 584.17H1064.89M1071.74 581.63V583.53M1064.74 581.63H1078.74M1064.74 583.53H1078.74M1085.6 581.34V583.25M1078.6 581.34H1092.6M1078.6 583.25H1092.6M1099.45 581.05V582.96M1092.45 581.05H1106.45M1092.45 582.96H1106.45M1113.31 580.77V582.67M1106.31 580.77H1120.31M1106.31 582.67H1120.31M1127.17 580.48V582.39M1120.17 580.48H1134.17M1120.17 582.39H1134.17M1141.02 580.2V582.1M1134.02 580.2H1148.02M1134.02 582.1H1148.02M1154.88 579.91V581.82M1147.88 579.91H1161.88M1147.88 581.82H1161.88M1168.73 579.63V581.53M1161.73 579.63H1175.73M1161.73 581.53H1175.73M1182.59 579.34V581.25M1175.59 579.34H1189.59M1175.59 581.25H1189.59M1196.44 579.05V580.96M1189.44 579.05H1203.44M1189.44 580.96H1203.44M1210.3 578.77V580.67M1203.3 578.77H1217.3M1203.3 580.67H1217.3" stroke="#c080ff" stroke-width="3" fill="none"/>
<path d="M254.26 908.05L261.26 919.39L247.26 919.39ZM268.11 905.2L275.11 916.54L261.11 916.54ZM281.97 906.05L288.97 917.39L274.97 917.39ZM295.82 900.77L302.82 912.11L288.82 912.11ZM309.68 898.67L316.68 910.01L302.68 910.01ZM323.53 898.24L330.53 909.58L316.53 909.58ZM337.39 896.34L344.39 907.68L330.39 907.68ZM351.25 893.81L358.25 905.15L344.25 905.15ZM365.1 890L372.1 901.34L358.1 901.34ZM378.96 887.47L385.96 898.81L371.96 898.81ZM392.81 884.33L399.81 895.67L385.81 895.67ZM406.67 878.66L413.67 890L399.67 890ZM420.52 872.47L427.52 883.81L413.52 883.81ZM434.38 864.85L441.38 876.19L427.38 876.19ZM448.24 852.18L455.24 863.52L441.24 863.52ZM462.09 840.79L469.09 852.13L455.09 852.13ZM475.95 824.98L482.95 836.32L468.95 836.32ZM489.8 806.59L496.8 817.93L482.8 817.93ZM503.66 787.96L510.66 799.3L496.66 799.3ZM517.51 765.91L524.51 777.25L510.51 777.25ZM531.37 745.23L538.37 756.57L524.37 756.57ZM545.23 731.04L552.23 742.38L538.23 742.38ZM559.08 714.79L566.08 726.13L552.08 726.13ZM572.94 700.88L579.94 712.22L565.94 712.22ZM586.79 683.21L593.79 694.55L579.79 694.55ZM600.65 617.14L607.65 628.48L593.65 628.48ZM614.5 599.65L621.5 610.99L607.5 610.99ZM628.36 595.84L635.36 607.18L621.36 607.18ZM642.22 594.84L649.22 606.18L635.22 606.18ZM656.07 593.32L663.07 604.66L649.07 604.66ZM669.93 592.7L676.93 604.04L662.93 604.04ZM683.78 592.03L690.78 603.37L676.78 603.37ZM697.64 591.03L704.64 602.37L690.64 602.37ZM711.49 590.17L718.49 601.51L704.49 601.51ZM725.35 589.51L732.35 600.85L718.35 600.85ZM739.21 588.89L746.21 600.23L732.21 600.23ZM753.06 588.34L760.06 599.68L746.06 599.68ZM766.92 587.8L773.92 599.14L759.92 599.14ZM780.77 587.26L787.77 598.6L773.77 598.6ZM794.63 586.71L801.63 598.05L787.63 598.05ZM808.48 586.17L815.48 597.51L801.48 597.51ZM822.34 585.62L829.34 596.96L815.34 596.96ZM836.2 585.08L843.2 596.42L829.2 596.42ZM850.05 584.54L857.05 595.88L843.05 595.88ZM863.91 583.99L870.91 595.33L856.91 595.33ZM877.76 583.45L884.76 594.79L870.76 594.79ZM891.62 582.9L898.62 594.24L884.62 594.24ZM905.47 582.36L912.47 593.7L898.47 593.7ZM919.33 581.73L926.33 593.07L912.33 593.07ZM933.19 581.09L940.19 592.43L926.19 592.43ZM947.04 580.46L954.04 591.8L940.04 591.8ZM960.9 579.82L967.9 591.16L953.9 591.16ZM974.75 579.18L981.75 590.52L967.75 590.52ZM988.61 578.55L995.61 589.89L981.61 589.89ZM1002.46 577.91L1009.46 589.25L995.46 589.25ZM1016.32 577.28L1023.32 588.62L1009.32 588.62ZM1030.18 576.64L1037.18 587.98L1023.18 587.98ZM1044.03 576.01L1051.03 587.35L1037.03 587.35ZM1057.89 575.37L1064.89 586.71L1050.89 586.71ZM1071.74 574.74L1078.74 586.08L1064.74 586.08ZM1085.6 574.45L1092.6 585.79L1078.6 585.79ZM1099.45 574.17L1106.45 585.51L1092.45 585.51ZM1113.31 573.88L1120.31 585.22L1106.31 585.22ZM1127.17 573.6L1134.17 584.94L1120.17 584.94ZM1141.02 573.31L1148.02 584.65L1134.02 584.65ZM1154.88 573.02L1161.88 584.36L1147.88 584.36ZM1168.73 572.74L1175.73 584.08L1161.73 584.08ZM1182.59 572.45L1189.59 583.79L1175.59 583.79ZM1196.44 572.17L1203.44 583.51L1189.44 583.51ZM1210.3 571.88L1217.3 583.22L1203.3 583.22Z" fill="#c080ff"/>
<path d="M254.26 927.66L262.51 914.29L246.01 914.29ZM268.11 925.47L276.36 912.1L259.86 912.1ZM281.97 922.89L290.22 909.53L273.72 909.53ZM295.82 922.42L304.07 909.05L287.57 909.05ZM309.68 918.13L317.93 904.77L301.43 904.77ZM323.53 915.27L331.78 901.91L315.28 901.91ZM337.39 914.03L345.64 900.67L329.14 900.67ZM351.25 911.13L359.5 897.76L343 897.76ZM365.1 907.08L373.35 893.71L356.85 893.71ZM378.96 905.17L387.21 891.81L370.71 891.81ZM392.81 900.74L401.06 887.38L384.56 887.38ZM406.67 898.12L414.92 884.76L398.42 884.76ZM420.52 894.79L428.77 881.42L412.27 881.42ZM434.38 888.6L442.63 875.23L426.13 875.23ZM448.24 879.35L456.49 865.99L439.99 865.99ZM462.09 874.92L470.34 861.56L453.84 861.56ZM475.95 862.92L484.2 849.56L467.7 849.56ZM489.8 851.15L498.05 837.79L481.55 837.79ZM503.66 838.24L511.91 824.88L495.41 824.88ZM517.51 819.24L525.76 805.87L509.26 805.87ZM531.37 799.23L539.62 785.86L523.12 785.86ZM545.23 776.17L553.48 762.81L536.98 762.81ZM559.08 755.36L567.33 741.99L550.83 741.99ZM572.94 743.92L581.19 730.56L564.69 730.56ZM586.79 729.11L595.04 715.74L578.54 715.74ZM600.65 717.34L608.9 703.98L592.4 703.98ZM614.5 693.52L622.75 680.16L606.25 680.16ZM628.36 618.26L636.61 604.89L620.11 604.89ZM642.22 612.68L650.47 599.32L633.97 599.32ZM656.07 611.02L664.32 597.65L647.82 597.65ZM669.93 610.4L678.18 597.03L661.68 597.03ZM683.78 609.78L692.03 596.41L675.53 596.41ZM697.64 609.11L705.89 595.75L689.39 595.75ZM711.49 608.49L719.74 595.13L703.24 595.13ZM725.35 607.25L733.6 593.89L717.1 593.89ZM739.21 606.35L747.46 592.98L730.96 592.98ZM753.06 605.77L761.31 592.41L744.81 592.41ZM766.92 605.2L775.17 591.83L758.67 591.83ZM780.77 604.62L789.02 591.26L772.52 591.26ZM794.63 604.05L802.88 590.68L786.38 590.68ZM808.48 603.47L816.73 590.11L800.23 590.11ZM822.34 602.89L830.59 589.53L814.09 589.53ZM836.2 602.32L844.45 588.95L827.95 588.95ZM850.05 601.74L858.3 588.38L841.8 588.38ZM863.91 601.17L872.16 587.8L855.66 587.8ZM877.76 600.59L886.01 587.23L869.51 587.23ZM891.62 600.02L899.87 586.65L883.37 586.65ZM905.47 599.44L913.72 586.08L897.22 586.08ZM919.33 598.87L927.58 585.5L911.08 585.5ZM933.19 598.29L941.44 584.92L924.94 584.92ZM947.04 597.71L955.29 584.35L938.79 584.35ZM960.9 597.14L969.15 583.77L952.65 583.77ZM974.75 596.56L983 583.2L966.5 583.2ZM988.61 595.99L996.86 582.62L980.36 582.62ZM1002.46 595.41L1010.71 582.05L994.21 582.05ZM1016.32 594.84L1024.57 581.47L1008.07 581.47ZM1030.18 594.26L1038.43 580.9L1021.93 580.9ZM1044.03 593.68L1052.28 580.32L1035.78 580.32ZM1057.89 593.11L1066.14 579.74L1049.64 579.74ZM1071.74 592.53L1079.99 579.17L1063.49 579.17ZM1085.6 592.22L1093.85 578.86L1077.35 578.86ZM1099.45 591.91L1107.7 578.55L1091.2 578.55ZM1113.31 591.6L1121.56 578.24L1105.06 578.24ZM1127.17 591.29L1135.42 577.93L1118.92 577.93ZM1141.02 590.99L1149.27 577.62L1132.77 577.62ZM1154.88 590.68L1163.13 577.31L1146.63 577.31ZM1168.73 590.37L1176.98 577L1160.48 577ZM1182.59 590.06L1190.84 576.69L1174.34 576.69ZM1196.44 589.75L1204.69 576.38L1188.19 576.38ZM1210.3 589.44L1218.55 576.07L1202.05 576.07Z" fill="#000"/>
<path d="M254.26 916.98V919.85M247.26 916.98H261.26M247.26 919.85H261.26M268.11 914.79V917.66M261.11 914.79H275.11M261.11 917.66H275.11M281.97 912.21V915.1M274.97 912.21H288.97M274.97 915.1H288.97M295.82 911.74V914.62M288.82 911.74H302.82M288.82 914.62H302.82M309.68 907.43V910.35M302.68 907.43H316.68M302.68 910.35H316.68M323.53 904.56V907.5M316.53 904.56H330.53M316.53 907.5H330.53M337.39 903.32V906.27M330.39 903.32H344.39M330.39 906.27H344.39M351.25 900.39V903.39M344.25 900.39H358.25M344.25 903.39H358.25M365.1 896.29V899.38M358.1 896.29H372.1M358.1 899.38H372.1M378.96 894.36V897.51M371.96 894.36H385.96M371.96 897.51H385.96M392.81 889.85V893.16M385.81 889.85H399.81M385.81 893.16H399.81M406.67 887.16V890.6M399.67 887.16H413.67M399.67 890.6H413.67M420.52 883.73V887.37M413.52 883.73H427.52M413.52 887.37H427.52M434.38 877.3V881.41M427.38 877.3H441.38M427.38 881.41H441.38M448.24 867.57V872.66M441.24 867.57H455.24M441.24 872.66H455.24M462.09 862.87V868.5M455.09 862.87H469.09M455.09 868.5H469.09M475.95 850.06V857.3M468.95 850.06H482.95M468.95 857.3H482.95M489.8 837.56V846.27M482.8 837.56H496.8M482.8 846.27H496.8M503.66 824.06V833.95M496.66 824.06H510.66M496.66 833.95H510.66M517.51 804.62V815.37M510.51 804.62H524.51M510.51 815.37H524.51M531.37 784.52V795.46M524.37 784.52H538.37M524.37 795.46H538.37M545.23 759.79V774.08M538.23 759.79H552.23M538.23 774.08H552.23M559.08 740.67V751.56M552.08 740.67H566.08M552.08 751.56H566.08M572.94 729.34V740.03M565.94 729.34H579.94M565.94 740.03H579.94M586.79 714.86V724.87M579.79 714.86H593.79M579.79 724.87H593.79M600.65 703.6V712.61M593.65 703.6H607.65M593.65 712.61H607.65M614.5 668.56V700M607.5 668.56H621.5M607.5 700H621.5M628.36 603.3V614.73M621.36 603.3H635.36M621.36 614.73H635.36M642.22 602.49V604.4M635.22 602.49H649.22M635.22 604.4H649.22M656.07 600.82V602.73M649.07 600.82H663.07M649.07 602.73H663.07M669.93 600.2V602.11M662.93 600.2H676.93M662.93 602.11H676.93M683.78 599.59V601.49M676.78 599.59H690.78M676.78 601.49H690.78M697.64 598.92V600.82M690.64 598.92H704.64M690.64 600.82H704.64M711.49 598.3V600.2M704.49 598.3H718.49M704.49 600.2H718.49M725.35 597.06V598.97M718.35 597.06H732.35M718.35 598.97H732.35M739.21 596.16V598.06M732.21 596.16H746.21M732.21 598.06H746.21M753.06 595.58V597.49M746.06 595.58H760.06M746.06 597.49H760.06M766.92 595V596.91M759.92 595H773.92M759.92 596.91H773.92M780.77 594.43V596.33M773.77 594.43H787.77M773.77 596.33H787.77M794.63 593.85V595.76M787.63 593.85H801.63M787.63 595.76H801.63M808.48 593.28V595.18M801.48 593.28H815.48M801.48 595.18H815.48M822.34 592.7V594.61M815.34 592.7H829.34M815.34 594.61H829.34M836.2 592.13V594.03M829.2 592.13H843.2M829.2 594.03H843.2M850.05 591.55V593.46M843.05 591.55H857.05M843.05 593.46H857.05M863.91 590.97V592.88M856.91 590.97H870.91M856.91 592.88H870.91M877.76 590.4V592.3M870.76 590.4H884.76M870.76 592.3H884.76M891.62 589.82V591.73M884.62 589.82H898.62M884.62 591.73H898.62M905.47 589.25V591.15M898.47 589.25H912.47M898.47 591.15H912.47M919.33 588.67V590.58M912.33 588.67H926.33M912.33 590.58H926.33M933.19 588.1V590M926.19 588.1H940.19M926.19 590H940.19M947.04 587.52V589.43M940.04 587.52H954.04M940.04 589.43H954.04M960.9 586.95V588.85M953.9 586.95H967.9M953.9 588.85H967.9M974.75 586.37V588.28M967.75 586.37H981.75M967.75 588.28H981.75M988.61 585.79V587.7M981.61 585.79H995.61M981.61 587.7H995.61M1002.46 585.22V587.12M995.46 585.22H1009.46M995.46 587.12H1009.46M1016.32 584.64V586.55M1009.32 584.64H1023.32M1009.32 586.55H1023.32M1030.18 584.07V585.97M1023.18 584.07H1037.18M1023.18 585.97H1037.18M1044.03 583.49V585.4M1037.03 583.49H1051.03M1037.03 585.4H1051.03M1057.89 582.92V584.82M1050.89 582.92H1064.89M1050.89 584.82H1064.89M1071.74 582.34V584.25M1064.74 582.34H1078.74M1064.74 584.25H1078.74M1085.6 582.03V583.94M1078.6 582.03H1092.6M1078.6 583.94H1092.6M1099.45 581.72V583.63M1092.45 581.72H1106.45M1092.45 583.63H1106.45M1113.31 581.41V583.32M1106.31 581.41H1120.31M1106.31 583.32H1120.31M1127.17 581.1V583.01M1120.17 581.1H1134.17M1120.17 583.01H1134.17M1141.02 580.79V582.7M1134.02 580.79H1148.02M1134.02 582.7H1148.02M1154.88 580.48V582.39M1147.88 580.48H1161.88M1147.88 582.39H1161.88M1168.73 580.17V582.08M1161.73 580.17H1175.73M1161.73 582.08H1175.73M1182.59 579.86V581.77M1175.59 579.86H1189.59M1175.59 581.77H1189.59M1196.44 579.55V581.46M1189.44 579.55H1203.44M1189.44 581.46H1203.44M1210.3 579.24V581.15M1203.3 579.24H1217.3M1203.3 581.15H1217.3" stroke="#40e0d0" stroke-width="3" fill="none"/>
<path d="M254.26 926.26L261.26 914.92L247.26 914.92ZM268.11 924.07L275.11 912.73L261.11 912.73ZM281.97 921.49L288.97 910.15L274.97 910.15ZM295.82 921.02L302.82 909.68L288.82 909.68ZM309.68 916.73L316.68 905.39L302.68 905.39ZM323.53 913.87L330.53 902.53L316.53 902.53ZM337.39 912.63L344.39 901.29L330.39 901.29ZM351.25 909.73L358.25 898.39L344.25 898.39ZM365.1 905.68L372.1 894.34L358.1 894.34ZM378.96 903.77L385.96 892.43L371.96 892.43ZM392.81 899.34L399.81 888L385.81 888ZM406.67 896.72L413.67 885.38L399.67 885.38ZM420.52 893.39L427.52 882.05L413.52 882.05ZM434.38 887.2L441.38 875.86L427.38 875.86ZM448.24 877.95L455.24 866.61L441.24 866.61ZM462.09 873.52L469.09 862.18L455.09 862.18ZM475.95 861.52L482.95 850.18L468.95 850.18ZM489.8 849.75L496.8 838.41L482.8 838.41ZM503.66 836.84L510.66 825.5L496.66 825.5ZM517.51 817.84L524.51 806.5L510.51 806.5ZM531.37 797.83L538.37 786.49L524.37 786.49ZM545.23 774.77L552.23 763.43L538.23 763.43ZM559.08 753.96L566.08 742.62L552.08 742.62ZM572.94 742.52L579.94 731.18L565.94 731.18ZM586.79 727.71L593.79 716.37L579.79 716.37ZM600.65 715.94L607.65 704.6L593.65 704.6ZM614.5 692.12L621.5 680.78L607.5 680.78ZM628.36 616.86L635.36 605.52L621.36 605.52ZM642.22 611.28L649.22 599.94L635.22 599.94ZM656.07 609.62L663.07 598.28L649.07 598.28ZM669.93 609L676.93 597.66L662.93 597.66ZM683.78 608.38L690.78 597.04L676.78 597.04ZM697.64 607.71L704.64 596.37L690.64 596.37ZM711.49 607.09L718.49 595.75L704.49 595.75ZM725.35 605.85L732.35 594.51L718.35 594.51ZM739.21 604.95L746.21 593.61L732.21 593.61ZM753.06 604.37L760.06 593.03L746.06 593.03ZM766.92 603.8L773.92 592.46L759.92 592.46ZM780.77 603.22L787.77 591.88L773.77 591.88ZM794.63 602.65L801.63 591.31L787.63 591.31ZM808.48 602.07L815.48 590.73L801.48 590.73ZM822.34 601.49L829.34 590.15L815.34 590.15ZM836.2 600.92L843.2 589.58L829.2 589.58ZM850.05 600.34L857.05 589L843.05 589ZM863.91 599.77L870.91 588.43L856.91 588.43ZM877.76 599.19L884.76 587.85L870.76 587.85ZM891.62 598.62L898.62 587.28L884.62 587.28ZM905.47 598.04L912.47 586.7L898.47 586.7ZM919.33 597.47L926.33 586.13L912.33 586.13ZM933.19 596.89L940.19 585.55L926.19 585.55ZM947.04 596.31L954.04 584.97L940.04 584.97ZM960.9 595.74L967.9 584.4L953.9 584.4ZM974.75 595.16L981.75 583.82L967.75 583.82ZM988.61 594.59L995.61 583.25L981.61 583.25ZM1002.46 594.01L1009.46 582.67L995.46 582.67ZM1016.32 593.44L1023.32 582.1L1009.32 582.1ZM1030.18 592.86L1037.18 581.52L1023.18 581.52ZM1044.03 592.28L1051.03 580.94L1037.03 580.94ZM1057.89 591.71L1064.89 580.37L1050.89 580.37ZM1071.74 591.13L1078.74 579.79L1064.74 579.79ZM1085.6 590.82L1092.6 579.48L1078.6 579.48ZM1099.45 590.51L1106.45 579.17L1092.45 579.17ZM1113.31 590.2L1120.31 578.86L1106.31 578.86ZM1127.17 589.89L1134.17 578.55L1120.17 578.55ZM1141.02 589.59L1148.02 578.25L1134.02 578.25ZM1154.88 589.28L1161.88 577.94L1147.88 577.94ZM1168.73 588.97L1175.73 577.63L1161.73 577.63ZM1182.59 588.66L1189.59 577.32L1175.59 577.32ZM1196.44 588.35L1203.44 577.01L1189.44 577.01ZM1210.3 588.04L1217.3 576.7L1203.3 576.7Z" fill="#40e0d0"/>
</g>
<g id="legend">
<text y="664.4" font-size="41.2"><tspan x="862.2">T</tspan><tspan x="887.7" font-size="33" dy="-19.3">*</tspan><tspan x="913.6" dy="22">=</tspan><tspan x="945.9" dy="-2.7">0.98</tspan></text>
<path d="M1041.4 646.8H1152.4M1041.4 639.9v13.8M1152.4 639.9v13.8" stroke="#ff00ff" stroke-width="3.2" fill="none"/>
<path d="M1096.9 639.8L1103.6 646.8L1096.9 653.8L1090.2 646.8Z" fill="#ff00ff"/>
<text y="704.8" font-size="41.2"><tspan x="862.2">T</tspan><tspan x="887.7" font-size="33" dy="-19.3">*</tspan><tspan x="913.6" dy="22">=</tspan><tspan x="945.9" dy="-2.7">0.99</tspan></text>
<path d="M1041.4 687.2H1152.4M1041.4 680.3v13.8M1152.4 680.3v13.8" stroke="#00ff00" stroke-width="3.2" fill="none"/>
<path d="M1096.9 680.3v13.8" stroke="#00ff00" stroke-width="3.2"/>
<text y="745.2" font-size="41.2"><tspan x="862.2">T</tspan><tspan x="887.7" font-size="33" dy="-19.3">*</tspan><tspan x="913.6" dy="22">=</tspan><tspan x="945.9" dy="-2.7">1.00</tspan></text>
<path d="M1041.4 727.6H1152.4M1041.4 720.7v13.8M1152.4 720.7v13.8" stroke="#006400" stroke-width="1" stroke-opacity="0.55" fill="none"/>
<path d="M1096.9 720.9L1103.27 725.53L1100.84 733.02L1092.96 733.02L1090.53 725.53Z" fill="#006400"/>
<text y="785.6" font-size="41.2"><tspan x="862.2">T</tspan><tspan x="887.7" font-size="33" dy="-19.3">*</tspan><tspan x="913.6" dy="22">=</tspan><tspan x="945.9" dy="-2.7">1.01</tspan></text>
<path d="M1041.4 768H1152.4M1041.4 761.1v13.8M1152.4 761.1v13.8" stroke="#ffa500" stroke-width="1" stroke-opacity="0.5" fill="none"/>
<circle cx="1096.9" cy="768" r="7.2" fill="#ffa500"/>
<text y="826" font-size="41.2"><tspan x="862.2">T</tspan><tspan x="887.7" font-size="33" dy="-19.3">*</tspan><tspan x="913.6" dy="22">=</tspan><tspan x="945.9" dy="-2.7">1.02</tspan></text>
<path d="M1041.4 808.4H1152.4M1041.4 801.5v13.8M1152.4 801.5v13.8" stroke="#ff0000" stroke-width="1" stroke-opacity="0.65" fill="none"/>
<path d="M1096.9 801.1V815.7M1089.6 808.4H1104.2M1089.6 801.1L1104.2 815.7M1089.6 815.7L1104.2 801.1" stroke="#ff0000" stroke-width="1" stroke-opacity="0.75" fill="none"/>
<text y="866.4" font-size="41.2"><tspan x="862.2">T</tspan><tspan x="887.7" font-size="33" dy="-19.3">*</tspan><tspan x="913.6" dy="22">=</tspan><tspan x="945.9" dy="-2.7">1.03</tspan></text>
<path d="M1041.4 848.8H1152.4M1041.4 841.9v13.8M1152.4 841.9v13.8" stroke="#0000ff" stroke-width="1" stroke-opacity="0.38" fill="none"/>
<path d="M1090.2 841.8h13.4v14h-13.4Z" fill="#0000ff"/>
<text y="906.8" font-size="41.2"><tspan x="862.2">T</tspan><tspan x="887.7" font-size="33" dy="-19.3">*</tspan><tspan x="913.6" dy="22">=</tspan><tspan x="945.9" dy="-2.7">1.04</tspan></text>
<path d="M1041.4 889.2H1152.4M1041.4 882.3v13.8M1152.4 882.3v13.8" stroke="#c080ff" stroke-width="3.2" fill="none"/>
<path d="M1096.9 881.36L1103.6 892.7L1090.2 892.7Z" fill="#c080ff"/>
<text y="947.2" font-size="41.2"><tspan x="862.2">T</tspan><tspan x="887.7" font-size="33" dy="-19.3">*</tspan><tspan x="913.6" dy="22">=</tspan><tspan x="945.9" dy="-2.7">1.05</tspan></text>
<path d="M1041.4 929.6H1152.4M1041.4 922.7v13.8M1152.4 922.7v13.8" stroke="#40e0d0" stroke-width="3.2" fill="none"/>
<path d="M1096.9 937.44L1103.6 926.1L1090.2 926.1Z" fill="#40e0d0"/>
</g>
<g id="axes">
<path d="M268.11 58.5v7M268.11 504.6v14M268.11 964.15v-7M295.82 58.5v7M295.82 504.6v14M295.82 964.15v-7M323.53 58.5v7M323.53 504.6v14M323.53 964.15v-7M351.25 58.5v7M351.25 504.6v14M351.25 964.15v-7M378.96 58.5v14M378.96 497.6v28M378.96 964.15v-14M406.67 58.5v7M406.67 504.6v14M406.67 964.15v-7M434.38 58.5v7M434.38 504.6v14M434.38 964.15v-7M462.09 58.5v7M462.09 504.6v14M462.09 964.15v-7M489.8 58.5v7M489.8 504.6v14M489.8 964.15v-7M517.51 58.5v14M517.51 497.6v28M517.51 964.15v-14M545.23 58.5v7M545.23 504.6v14M545.23 964.15v-7M572.94 58.5v7M572.94 504.6v14M572.94 964.15v-7M600.65 58.5v7M600.65 504.6v14M600.65 964.15v-7M628.36 58.5v7M628.36 504.6v14M628.36 964.15v-7M656.07 58.5v14M656.07 497.6v28M656.07 964.15v-14M683.78 58.5v7M683.78 504.6v14M683.78 964.15v-7M711.49 58.5v7M711.49 504.6v14M711.49 964.15v-7M739.21 58.5v7M739.21 504.6v14M739.21 964.15v-7M766.92 58.5v7M766.92 504.6v14M766.92 964.15v-7M794.63 58.5v14M794.63 497.6v28M794.63 964.15v-14M822.34 58.5v7M822.34 504.6v14M822.34 964.15v-7M850.05 58.5v7M850.05 504.6v14M850.05 964.15v-7M877.76 58.5v7M877.76 504.6v14M877.76 964.15v-7M905.47 58.5v7M905.47 504.6v14M905.47 964.15v-7M933.19 58.5v14M933.19 497.6v28M933.19 964.15v-14M960.9 58.5v7M960.9 504.6v14M960.9 964.15v-7M988.61 58.5v7M988.61 504.6v14M988.61 964.15v-7M1016.32 58.5v7M1016.32 504.6v14M1016.32 964.15v-7M1044.03 58.5v7M1044.03 504.6v14M1044.03 964.15v-7M1071.74 58.5v14M1071.74 497.6v28M1071.74 964.15v-14M1099.45 58.5v7M1099.45 504.6v14M1099.45 964.15v-7M1127.17 58.5v7M1127.17 504.6v14M1127.17 964.15v-7M1154.88 58.5v7M1154.88 504.6v14M1154.88 964.15v-7M1182.59 58.5v7M1182.59 504.6v14M1182.59 964.15v-7M240.4 420.98h14M1210.3 420.98h-14M240.4 330.36h14M1210.3 330.36h-14M240.4 239.74h14M1210.3 239.74h-14M240.4 149.12h14M1210.3 149.12h-14M240.4 868.88h14M1210.3 868.88h-14M240.4 773.6h14M1210.3 773.6h-14M240.4 678.33h14M1210.3 678.33h-14M240.4 583.06h14M1210.3 583.06h-14" stroke="#000" stroke-width="1.6" fill="none"/>
<path d="M240.4 58.5H1210.3V964.15H240.4ZM240.4 511.6H1210.3" stroke="#000" stroke-width="3.1" fill="none" stroke-linejoin="miter"/>
</g>
<g id="labels">
<g font-size="56.5" text-anchor="end">
<text x="207.5" y="530.1">0.0</text>
<text x="207.5" y="439.48">0.2</text>
<text x="207.5" y="348.86">0.4</text>
<text x="207.5" y="258.24">0.6</text>
<text x="207.5" y="167.62">0.8</text>
<text x="207.5" y="77">1.0</text>
<text x="207.5" y="982.65">0.0</text>
<text x="207.5" y="887.38">0.2</text>
<text x="207.5" y="792.1">0.4</text>
<text x="207.5" y="696.83">0.6</text>
<text x="207.5" y="601.56">0.8</text>
</g>
<g font-size="56.5" text-anchor="middle">
<text x="241.1" y="1039.6">0</text>
<text x="379.66" y="1039.6">1</text>
<text x="518.21" y="1039.6">2</text>
<text x="656.77" y="1039.6">3</text>
<text x="795.33" y="1039.6">4</text>
<text x="933.89" y="1039.6">5</text>
<text x="1072.44" y="1039.6">6</text>
<text x="1211" y="1039.6">7</text>
</g>
<text transform="translate(66.4 285.05) rotate(-90)" font-size="69" font-style="italic" text-anchor="start" x="-30">S<tspan font-size="54" font-style="normal" dy="19" dx="-2.5">2</tspan></text>
<text transform="translate(66.4 737.88) rotate(-90)" font-size="69" font-style="italic" text-anchor="start" x="-30">S<tspan font-size="54" font-style="normal" dy="19" dx="-2.5">2</tspan></text>
<text x="691" y="1105.8" font-size="67.5" font-style="italic">P<tspan font-size="49" font-style="normal" dy="-33" dx="5.5">*</tspan></text>
</g>
</svg>
</body></html>
